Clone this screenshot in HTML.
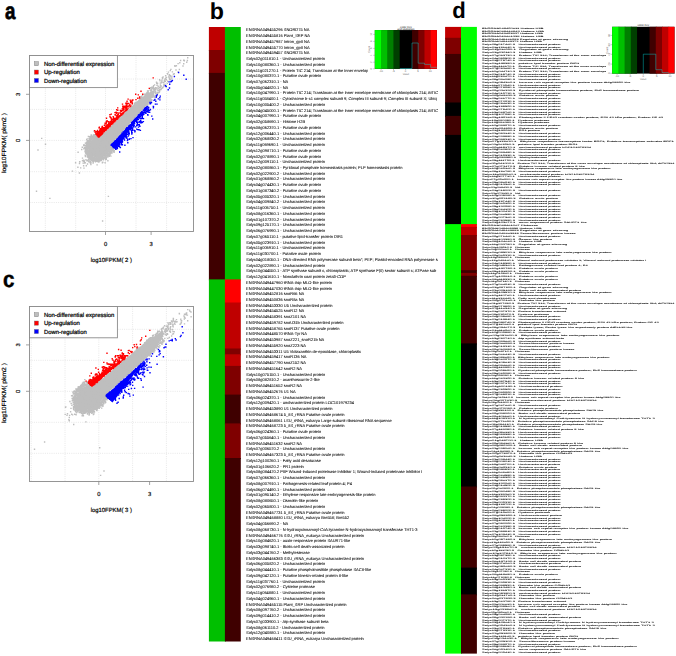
<!DOCTYPE html>
<html><head><meta charset="utf-8"><style>html,body{margin:0;padding:0;background:#fff;width:676px;height:656px;overflow:hidden}svg{display:block}</style></head><body>
<svg width="676" height="656" viewBox="0 0 676 656" font-family="Liberation Sans, sans-serif" text-rendering="geometricPrecision">
<defs><filter id="bl" x="-2%" y="-2%" width="104%" height="104%"><feGaussianBlur stdDeviation="0.15 0.45"/></filter><filter id="bl2" x="-2%" y="-2%" width="104%" height="104%"><feGaussianBlur stdDeviation="0.2 0.25"/></filter><clipPath id="clipb"><rect x="240" y="0" width="200" height="656"/></clipPath><clipPath id="clipd"><rect x="478" y="0" width="198" height="656"/></clipPath></defs>
<rect width="676" height="656" fill="#fff"/>
<g transform="translate(0 0)"><line x1="45.3" y1="55.5" x2="45.3" y2="231.5" stroke="#d6d6d6" stroke-width="0.6" stroke-dasharray="1 1.2"/>
<line x1="75.7" y1="55.5" x2="75.7" y2="231.5" stroke="#d6d6d6" stroke-width="0.6" stroke-dasharray="1 1.2"/>
<line x1="105.5" y1="55.5" x2="105.5" y2="231.5" stroke="#d6d6d6" stroke-width="0.6" stroke-dasharray="1 1.2"/>
<line x1="136.0" y1="55.5" x2="136.0" y2="231.5" stroke="#d6d6d6" stroke-width="0.6" stroke-dasharray="1 1.2"/>
<line x1="166.6" y1="55.5" x2="166.6" y2="231.5" stroke="#d6d6d6" stroke-width="0.6" stroke-dasharray="1 1.2"/>
<line x1="29.5" y1="79.0" x2="193.5" y2="79.0" stroke="#d6d6d6" stroke-width="0.6" stroke-dasharray="1 1.2"/>
<line x1="29.5" y1="109.4" x2="193.5" y2="109.4" stroke="#d6d6d6" stroke-width="0.6" stroke-dasharray="1 1.2"/>
<line x1="29.5" y1="140.4" x2="193.5" y2="140.4" stroke="#d6d6d6" stroke-width="0.6" stroke-dasharray="1 1.2"/>
<line x1="29.5" y1="171.7" x2="193.5" y2="171.7" stroke="#d6d6d6" stroke-width="0.6" stroke-dasharray="1 1.2"/>
<line x1="29.5" y1="202.5" x2="193.5" y2="202.5" stroke="#d6d6d6" stroke-width="0.6" stroke-dasharray="1 1.2"/>
<g><path d="M93.2 143.4 L94.7 142.0 L96.1 140.6 L97.5 139.2 L99.0 137.8 L100.4 136.4 L101.9 135.0 L103.3 133.7 L104.8 132.3 L106.2 130.9 L107.6 129.5 L109.1 128.1 L110.5 126.7 L112.0 125.3 L113.4 124.0 L114.8 122.6 L116.3 121.2 L117.7 119.8 L119.2 118.4 L120.6 117.0 L122.0 115.6 L123.5 114.2 L124.9 112.9 L126.4 111.5 L127.8 110.1 L129.3 108.7 L130.7 107.3 L132.1 105.9 L133.6 104.5 L135.0 103.2 L136.5 101.8 L137.9 100.4 L139.3 99.0 L141.0 97.8 L142.8 96.8 L144.5 95.7 L146.3 94.6 L148.0 93.6 L149.8 92.5 L151.5 91.4 L153.2 90.3 L155.1 92.1 L153.9 93.8 L152.8 95.5 L151.6 97.2 L150.5 98.9 L149.4 100.7 L148.4 102.4 L147.3 104.2 L146.1 105.8 L144.8 107.3 L143.4 108.8 L142.1 110.3 L140.7 111.8 L139.4 113.2 L138.0 114.7 L136.7 116.2 L135.3 117.7 L134.0 119.1 L132.6 120.6 L131.3 122.1 L129.9 123.6 L128.6 125.1 L127.2 126.5 L125.9 128.0 L124.5 129.5 L123.2 131.0 L121.8 132.5 L120.5 133.9 L119.1 135.4 L117.8 136.9 L116.4 138.4 L115.1 139.8 L113.7 141.3 L112.4 142.8 L111.0 144.3 L109.7 145.8 L108.3 147.2 L107.0 148.7 L105.6 150.2 L104.3 151.7 L102.9 153.2Z" fill="#bebebe"/><ellipse cx="100.0" cy="146.5" rx="12.5" ry="10.5" transform="rotate(-45 100.0 146.5)" fill="#bebebe"/><path d="M135.6 108.1h1.4v1.4h-1.4zM120.0 129.0h1.4v1.4h-1.4zM161.1 81.5h1.4v1.4h-1.4zM149.3 93.9h1.4v1.4h-1.4zM138.7 102.1h1.4v1.4h-1.4zM95.4 149.0h1.4v1.4h-1.4zM141.6 105.7h1.4v1.4h-1.4zM97.1 144.6h1.4v1.4h-1.4zM119.4 129.4h1.4v1.4h-1.4zM107.1 137.2h1.4v1.4h-1.4zM154.5 87.8h1.4v1.4h-1.4zM141.5 100.6h1.4v1.4h-1.4zM131.3 115.3h1.4v1.4h-1.4zM144.5 94.1h1.4v1.4h-1.4zM166.8 72.9h1.4v1.4h-1.4zM146.2 103.8h1.4v1.4h-1.4zM135.2 112.2h1.4v1.4h-1.4zM128.3 114.0h1.4v1.4h-1.4zM150.4 90.9h1.4v1.4h-1.4zM118.6 123.9h1.4v1.4h-1.4zM147.2 93.4h1.4v1.4h-1.4zM88.8 154.9h1.4v1.4h-1.4zM87.4 156.5h1.4v1.4h-1.4zM91.1 159.6h1.4v1.4h-1.4zM123.8 123.7h1.4v1.4h-1.4zM83.7 160.6h1.4v1.4h-1.4zM169.6 74.9h1.4v1.4h-1.4zM97.1 142.1h1.4v1.4h-1.4zM123.1 127.0h1.4v1.4h-1.4zM115.6 133.1h1.4v1.4h-1.4zM151.2 86.5h1.4v1.4h-1.4zM98.2 145.8h1.4v1.4h-1.4zM164.9 75.1h1.4v1.4h-1.4zM161.2 80.7h1.4v1.4h-1.4zM158.5 89.7h1.4v1.4h-1.4zM92.9 141.5h1.4v1.4h-1.4zM101.7 141.9h1.4v1.4h-1.4zM146.3 94.4h1.4v1.4h-1.4zM104.1 138.9h1.4v1.4h-1.4zM132.2 117.2h1.4v1.4h-1.4zM97.5 145.5h1.4v1.4h-1.4zM115.8 127.4h1.4v1.4h-1.4zM95.9 152.9h1.4v1.4h-1.4zM163.6 80.5h1.4v1.4h-1.4zM95.1 143.6h1.4v1.4h-1.4zM125.5 111.0h1.4v1.4h-1.4zM150.8 90.1h1.4v1.4h-1.4zM129.9 120.7h1.4v1.4h-1.4zM123.5 115.8h1.4v1.4h-1.4zM137.6 109.1h1.4v1.4h-1.4zM140.2 104.2h1.4v1.4h-1.4zM100.7 150.2h1.4v1.4h-1.4zM82.2 159.9h1.4v1.4h-1.4zM93.8 152.5h1.4v1.4h-1.4zM86.3 160.0h1.4v1.4h-1.4zM115.6 131.2h1.4v1.4h-1.4zM148.0 92.6h1.4v1.4h-1.4zM103.2 143.9h1.4v1.4h-1.4zM114.2 134.6h1.4v1.4h-1.4zM96.4 148.9h1.4v1.4h-1.4zM107.3 138.0h1.4v1.4h-1.4zM162.4 76.3h1.4v1.4h-1.4zM95.7 151.7h1.4v1.4h-1.4zM88.7 155.1h1.4v1.4h-1.4zM89.3 145.3h1.4v1.4h-1.4zM167.0 80.5h1.4v1.4h-1.4zM134.7 105.3h1.4v1.4h-1.4zM179.1 62.1h1.4v1.4h-1.4zM145.2 101.0h1.4v1.4h-1.4zM97.0 140.4h1.4v1.4h-1.4zM98.2 140.8h1.4v1.4h-1.4zM112.6 137.4h1.4v1.4h-1.4zM102.1 141.7h1.4v1.4h-1.4zM91.2 152.3h1.4v1.4h-1.4zM93.2 150.0h1.4v1.4h-1.4zM108.3 136.3h1.4v1.4h-1.4zM99.5 156.8h1.4v1.4h-1.4zM83.9 162.1h1.4v1.4h-1.4zM99.5 140.5h1.4v1.4h-1.4zM123.8 119.3h1.4v1.4h-1.4zM89.3 152.5h1.4v1.4h-1.4zM125.7 119.2h1.4v1.4h-1.4zM87.3 159.9h1.4v1.4h-1.4zM149.0 100.1h1.4v1.4h-1.4zM101.6 144.3h1.4v1.4h-1.4zM175.7 65.1h1.4v1.4h-1.4zM112.4 134.5h1.4v1.4h-1.4zM167.7 71.4h1.4v1.4h-1.4zM116.3 135.9h1.4v1.4h-1.4zM147.3 98.9h1.4v1.4h-1.4zM104.9 132.6h1.4v1.4h-1.4zM98.9 142.2h1.4v1.4h-1.4zM146.1 96.1h1.4v1.4h-1.4zM86.6 154.0h1.4v1.4h-1.4zM140.8 97.3h1.4v1.4h-1.4zM86.4 148.8h1.4v1.4h-1.4zM96.7 152.7h1.4v1.4h-1.4zM118.4 121.4h1.4v1.4h-1.4zM89.9 146.2h1.4v1.4h-1.4zM98.0 159.3h1.4v1.4h-1.4zM160.2 85.1h1.4v1.4h-1.4zM106.2 141.9h1.4v1.4h-1.4zM156.2 87.7h1.4v1.4h-1.4zM93.1 148.8h1.4v1.4h-1.4zM139.6 111.8h1.4v1.4h-1.4zM116.5 130.4h1.4v1.4h-1.4zM124.7 115.6h1.4v1.4h-1.4zM120.6 118.4h1.4v1.4h-1.4zM101.8 140.5h1.4v1.4h-1.4zM137.5 111.7h1.4v1.4h-1.4zM144.2 96.1h1.4v1.4h-1.4zM125.7 127.5h1.4v1.4h-1.4zM128.5 115.8h1.4v1.4h-1.4zM115.9 128.3h1.4v1.4h-1.4zM169.6 69.9h1.4v1.4h-1.4zM144.6 101.9h1.4v1.4h-1.4zM119.2 122.5h1.4v1.4h-1.4zM170.1 76.2h1.4v1.4h-1.4zM127.1 113.7h1.4v1.4h-1.4zM161.4 87.3h1.4v1.4h-1.4zM111.8 142.0h1.4v1.4h-1.4zM130.4 118.1h1.4v1.4h-1.4zM149.8 97.9h1.4v1.4h-1.4zM143.5 100.9h1.4v1.4h-1.4zM97.4 155.3h1.4v1.4h-1.4zM137.2 103.7h1.4v1.4h-1.4zM165.7 79.0h1.4v1.4h-1.4zM95.4 157.4h1.4v1.4h-1.4zM101.0 136.1h1.4v1.4h-1.4zM128.8 123.9h1.4v1.4h-1.4zM103.2 142.6h1.4v1.4h-1.4zM140.6 99.0h1.4v1.4h-1.4zM113.0 122.9h1.4v1.4h-1.4zM164.2 78.5h1.4v1.4h-1.4zM112.5 136.6h1.4v1.4h-1.4zM147.0 98.4h1.4v1.4h-1.4zM158.9 79.0h1.4v1.4h-1.4zM99.9 152.5h1.4v1.4h-1.4zM105.9 129.9h1.4v1.4h-1.4zM127.8 109.4h1.4v1.4h-1.4zM140.6 102.3h1.4v1.4h-1.4zM150.2 99.6h1.4v1.4h-1.4zM97.3 147.4h1.4v1.4h-1.4zM118.7 127.7h1.4v1.4h-1.4zM153.9 84.2h1.4v1.4h-1.4zM128.2 119.0h1.4v1.4h-1.4zM108.4 133.1h1.4v1.4h-1.4zM167.0 73.3h1.4v1.4h-1.4zM94.8 161.1h1.4v1.4h-1.4zM129.8 111.7h1.4v1.4h-1.4zM93.9 147.2h1.4v1.4h-1.4zM152.2 92.1h1.4v1.4h-1.4zM116.4 127.5h1.4v1.4h-1.4zM91.0 153.7h1.4v1.4h-1.4zM174.1 64.9h1.4v1.4h-1.4zM165.0 77.6h1.4v1.4h-1.4zM126.8 112.0h1.4v1.4h-1.4zM137.9 111.7h1.4v1.4h-1.4zM115.0 122.3h1.4v1.4h-1.4zM148.5 93.5h1.4v1.4h-1.4zM123.6 113.5h1.4v1.4h-1.4zM97.2 149.7h1.4v1.4h-1.4zM157.0 92.8h1.4v1.4h-1.4zM104.9 136.0h1.4v1.4h-1.4zM136.7 110.7h1.4v1.4h-1.4zM127.3 117.6h1.4v1.4h-1.4zM163.8 81.0h1.4v1.4h-1.4zM118.6 117.3h1.4v1.4h-1.4zM131.4 109.1h1.4v1.4h-1.4zM143.2 105.0h1.4v1.4h-1.4zM146.2 95.3h1.4v1.4h-1.4zM131.5 111.8h1.4v1.4h-1.4zM146.9 101.0h1.4v1.4h-1.4zM79.1 161.0h1.4v1.4h-1.4zM154.4 90.1h1.4v1.4h-1.4zM99.8 137.3h1.4v1.4h-1.4zM148.2 95.7h1.4v1.4h-1.4zM160.5 88.0h1.4v1.4h-1.4zM104.9 145.3h1.4v1.4h-1.4zM103.6 136.6h1.4v1.4h-1.4zM122.8 118.2h1.4v1.4h-1.4zM130.7 116.3h1.4v1.4h-1.4zM146.1 101.6h1.4v1.4h-1.4zM146.9 102.9h1.4v1.4h-1.4zM102.8 137.5h1.4v1.4h-1.4zM138.5 113.5h1.4v1.4h-1.4zM128.9 113.5h1.4v1.4h-1.4zM91.3 147.8h1.4v1.4h-1.4zM141.1 95.5h1.4v1.4h-1.4zM92.8 151.5h1.4v1.4h-1.4zM144.7 101.7h1.4v1.4h-1.4zM134.4 107.5h1.4v1.4h-1.4zM94.3 149.8h1.4v1.4h-1.4zM143.6 101.0h1.4v1.4h-1.4zM97.0 144.6h1.4v1.4h-1.4zM161.7 86.8h1.4v1.4h-1.4zM186.7 59.8h1.4v1.4h-1.4zM141.6 106.0h1.4v1.4h-1.4zM151.1 99.1h1.4v1.4h-1.4zM102.4 147.0h1.4v1.4h-1.4zM114.1 126.4h1.4v1.4h-1.4zM160.3 85.5h1.4v1.4h-1.4zM135.5 101.4h1.4v1.4h-1.4zM106.1 147.9h1.4v1.4h-1.4zM106.8 145.3h1.4v1.4h-1.4zM86.2 151.1h1.4v1.4h-1.4zM133.1 109.9h1.4v1.4h-1.4zM102.4 149.5h1.4v1.4h-1.4zM99.8 138.1h1.4v1.4h-1.4zM161.2 79.4h1.4v1.4h-1.4zM110.4 138.1h1.4v1.4h-1.4zM150.5 99.2h1.4v1.4h-1.4zM87.1 160.0h1.4v1.4h-1.4zM150.8 94.7h1.4v1.4h-1.4zM100.1 155.9h1.4v1.4h-1.4zM107.8 143.6h1.4v1.4h-1.4zM118.7 121.0h1.4v1.4h-1.4zM141.7 99.1h1.4v1.4h-1.4zM156.6 89.3h1.4v1.4h-1.4zM109.7 130.0h1.4v1.4h-1.4zM153.0 94.4h1.4v1.4h-1.4zM97.7 149.3h1.4v1.4h-1.4zM139.5 99.8h1.4v1.4h-1.4zM97.5 150.3h1.4v1.4h-1.4zM159.7 84.6h1.4v1.4h-1.4zM142.1 105.9h1.4v1.4h-1.4zM144.3 104.7h1.4v1.4h-1.4zM102.1 136.9h1.4v1.4h-1.4zM116.1 128.6h1.4v1.4h-1.4zM123.0 123.2h1.4v1.4h-1.4zM102.4 142.8h1.4v1.4h-1.4zM96.5 139.4h1.4v1.4h-1.4zM137.2 109.3h1.4v1.4h-1.4zM90.6 148.2h1.4v1.4h-1.4zM157.5 85.6h1.4v1.4h-1.4zM92.5 160.4h1.4v1.4h-1.4zM138.2 101.7h1.4v1.4h-1.4zM137.8 107.0h1.4v1.4h-1.4zM104.4 137.1h1.4v1.4h-1.4zM127.2 114.0h1.4v1.4h-1.4zM137.6 106.4h1.4v1.4h-1.4zM152.9 93.2h1.4v1.4h-1.4zM131.5 106.6h1.4v1.4h-1.4zM148.2 97.7h1.4v1.4h-1.4zM123.6 127.4h1.4v1.4h-1.4zM90.0 150.1h1.4v1.4h-1.4zM88.3 157.1h1.4v1.4h-1.4zM119.5 132.8h1.4v1.4h-1.4zM91.0 159.2h1.4v1.4h-1.4zM86.8 163.3h1.4v1.4h-1.4zM117.5 125.1h1.4v1.4h-1.4zM153.6 96.0h1.4v1.4h-1.4zM115.9 124.2h1.4v1.4h-1.4zM96.1 144.6h1.4v1.4h-1.4zM106.5 132.8h1.4v1.4h-1.4zM145.9 104.6h1.4v1.4h-1.4zM120.9 124.0h1.4v1.4h-1.4zM143.5 99.7h1.4v1.4h-1.4zM141.2 102.7h1.4v1.4h-1.4zM118.4 124.6h1.4v1.4h-1.4zM84.5 154.4h1.4v1.4h-1.4zM138.9 102.4h1.4v1.4h-1.4zM149.7 94.9h1.4v1.4h-1.4zM144.6 100.0h1.4v1.4h-1.4zM130.9 108.3h1.4v1.4h-1.4zM99.1 154.5h1.4v1.4h-1.4zM116.2 130.7h1.4v1.4h-1.4zM140.7 107.9h1.4v1.4h-1.4zM133.8 105.6h1.4v1.4h-1.4zM91.5 150.9h1.4v1.4h-1.4zM134.2 102.9h1.4v1.4h-1.4zM91.6 146.1h1.4v1.4h-1.4zM92.7 153.1h1.4v1.4h-1.4zM148.2 96.6h1.4v1.4h-1.4zM100.9 151.3h1.4v1.4h-1.4zM83.1 162.4h1.4v1.4h-1.4zM128.1 108.5h1.4v1.4h-1.4zM146.7 98.8h1.4v1.4h-1.4zM98.4 136.6h1.4v1.4h-1.4zM116.9 129.2h1.4v1.4h-1.4zM102.4 132.8h1.4v1.4h-1.4zM120.8 127.9h1.4v1.4h-1.4zM133.8 103.2h1.4v1.4h-1.4zM149.6 89.3h1.4v1.4h-1.4zM154.4 87.6h1.4v1.4h-1.4zM171.2 75.4h1.4v1.4h-1.4zM99.8 138.2h1.4v1.4h-1.4zM105.7 132.3h1.4v1.4h-1.4zM150.9 89.1h1.4v1.4h-1.4zM144.7 96.9h1.4v1.4h-1.4zM88.1 157.1h1.4v1.4h-1.4zM111.0 133.2h1.4v1.4h-1.4zM143.1 99.4h1.4v1.4h-1.4zM88.1 161.1h1.4v1.4h-1.4zM94.8 142.8h1.4v1.4h-1.4zM103.6 141.0h1.4v1.4h-1.4zM128.1 111.8h1.4v1.4h-1.4zM97.9 143.5h1.4v1.4h-1.4zM149.4 100.0h1.4v1.4h-1.4zM99.8 151.4h1.4v1.4h-1.4zM149.4 89.4h1.4v1.4h-1.4zM119.4 123.0h1.4v1.4h-1.4zM120.2 120.3h1.4v1.4h-1.4zM112.9 138.3h1.4v1.4h-1.4zM102.6 143.3h1.4v1.4h-1.4zM130.7 120.9h1.4v1.4h-1.4zM159.5 86.5h1.4v1.4h-1.4zM144.8 102.6h1.4v1.4h-1.4zM136.1 105.6h1.4v1.4h-1.4zM84.3 150.4h1.4v1.4h-1.4zM114.2 124.0h1.4v1.4h-1.4zM124.8 113.8h1.4v1.4h-1.4zM98.1 150.2h1.4v1.4h-1.4zM171.2 77.3h1.4v1.4h-1.4zM135.3 114.1h1.4v1.4h-1.4zM96.1 155.6h1.4v1.4h-1.4zM116.4 123.4h1.4v1.4h-1.4zM128.4 114.0h1.4v1.4h-1.4zM103.6 140.9h1.4v1.4h-1.4zM114.6 132.1h1.4v1.4h-1.4zM78.7 172.3h1.4v1.4h-1.4zM148.8 100.6h1.4v1.4h-1.4zM133.7 112.7h1.4v1.4h-1.4zM85.3 147.7h1.4v1.4h-1.4zM117.2 127.5h1.4v1.4h-1.4zM109.3 132.5h1.4v1.4h-1.4zM158.1 91.9h1.4v1.4h-1.4zM102.7 147.8h1.4v1.4h-1.4zM114.8 133.7h1.4v1.4h-1.4zM133.0 106.7h1.4v1.4h-1.4zM108.2 127.6h1.4v1.4h-1.4zM94.3 159.3h1.4v1.4h-1.4zM145.2 98.4h1.4v1.4h-1.4zM147.8 102.3h1.4v1.4h-1.4zM101.0 141.2h1.4v1.4h-1.4zM131.9 111.9h1.4v1.4h-1.4zM162.7 82.0h1.4v1.4h-1.4zM89.5 148.3h1.4v1.4h-1.4zM155.8 81.6h1.4v1.4h-1.4zM99.4 149.1h1.4v1.4h-1.4zM110.6 138.9h1.4v1.4h-1.4zM174.3 65.7h1.4v1.4h-1.4zM152.0 92.9h1.4v1.4h-1.4zM159.0 88.8h1.4v1.4h-1.4zM152.1 91.7h1.4v1.4h-1.4zM124.9 123.8h1.4v1.4h-1.4zM90.4 154.2h1.4v1.4h-1.4zM96.9 149.5h1.4v1.4h-1.4zM122.1 117.7h1.4v1.4h-1.4zM98.0 151.8h1.4v1.4h-1.4zM120.8 129.9h1.4v1.4h-1.4zM115.3 129.2h1.4v1.4h-1.4zM105.2 136.9h1.4v1.4h-1.4zM125.7 123.9h1.4v1.4h-1.4zM107.1 144.3h1.4v1.4h-1.4zM113.8 131.9h1.4v1.4h-1.4zM99.8 138.0h1.4v1.4h-1.4zM105.0 137.1h1.4v1.4h-1.4zM120.4 131.2h1.4v1.4h-1.4zM90.5 157.8h1.4v1.4h-1.4zM107.0 139.2h1.4v1.4h-1.4zM144.4 101.4h1.4v1.4h-1.4zM150.3 97.0h1.4v1.4h-1.4zM125.5 126.3h1.4v1.4h-1.4zM110.0 138.1h1.4v1.4h-1.4zM134.7 108.0h1.4v1.4h-1.4zM134.1 108.4h1.4v1.4h-1.4zM130.9 106.7h1.4v1.4h-1.4zM154.3 89.5h1.4v1.4h-1.4zM137.3 111.5h1.4v1.4h-1.4zM130.1 105.8h1.4v1.4h-1.4zM137.3 109.2h1.4v1.4h-1.4zM145.3 96.8h1.4v1.4h-1.4zM135.0 102.1h1.4v1.4h-1.4zM95.9 145.7h1.4v1.4h-1.4zM147.2 94.0h1.4v1.4h-1.4zM125.7 119.6h1.4v1.4h-1.4zM110.6 135.9h1.4v1.4h-1.4zM132.4 106.4h1.4v1.4h-1.4zM96.4 142.5h1.4v1.4h-1.4zM89.2 147.7h1.4v1.4h-1.4zM113.9 125.3h1.4v1.4h-1.4zM142.5 104.9h1.4v1.4h-1.4zM122.1 124.4h1.4v1.4h-1.4zM81.8 160.0h1.4v1.4h-1.4zM101.9 138.5h1.4v1.4h-1.4zM121.4 125.7h1.4v1.4h-1.4zM95.9 154.0h1.4v1.4h-1.4zM98.6 157.3h1.4v1.4h-1.4zM146.1 92.2h1.4v1.4h-1.4zM98.7 158.6h1.4v1.4h-1.4zM118.8 129.9h1.4v1.4h-1.4zM145.0 94.2h1.4v1.4h-1.4zM90.1 156.7h1.4v1.4h-1.4zM141.7 100.3h1.4v1.4h-1.4zM127.2 124.8h1.4v1.4h-1.4zM139.9 107.3h1.4v1.4h-1.4zM152.6 86.3h1.4v1.4h-1.4zM124.4 128.8h1.4v1.4h-1.4zM141.4 99.8h1.4v1.4h-1.4zM135.8 103.8h1.4v1.4h-1.4zM103.6 143.9h1.4v1.4h-1.4zM96.1 149.6h1.4v1.4h-1.4zM124.9 117.3h1.4v1.4h-1.4zM95.6 156.7h1.4v1.4h-1.4zM145.0 101.6h1.4v1.4h-1.4zM140.0 104.4h1.4v1.4h-1.4zM129.1 112.6h1.4v1.4h-1.4zM107.4 138.3h1.4v1.4h-1.4zM143.7 93.4h1.4v1.4h-1.4zM84.1 162.4h1.4v1.4h-1.4zM120.1 129.7h1.4v1.4h-1.4zM128.7 110.3h1.4v1.4h-1.4zM168.8 74.0h1.4v1.4h-1.4zM127.2 123.5h1.4v1.4h-1.4zM99.7 139.3h1.4v1.4h-1.4zM106.4 132.1h1.4v1.4h-1.4zM97.1 142.1h1.4v1.4h-1.4zM96.0 149.4h1.4v1.4h-1.4zM83.3 144.0h1.4v1.4h-1.4zM108.2 135.2h1.4v1.4h-1.4zM142.8 101.0h1.4v1.4h-1.4zM144.5 102.1h1.4v1.4h-1.4zM107.6 138.6h1.4v1.4h-1.4zM111.6 125.8h1.4v1.4h-1.4zM143.5 96.7h1.4v1.4h-1.4zM118.2 124.9h1.4v1.4h-1.4zM125.6 118.4h1.4v1.4h-1.4zM98.6 142.0h1.4v1.4h-1.4zM126.7 112.5h1.4v1.4h-1.4zM165.8 76.7h1.4v1.4h-1.4zM116.4 123.4h1.4v1.4h-1.4zM126.9 125.4h1.4v1.4h-1.4zM154.3 89.9h1.4v1.4h-1.4zM140.8 98.1h1.4v1.4h-1.4zM137.5 105.9h1.4v1.4h-1.4zM157.2 91.6h1.4v1.4h-1.4zM146.0 93.7h1.4v1.4h-1.4zM142.9 101.1h1.4v1.4h-1.4zM102.9 151.8h1.4v1.4h-1.4zM122.7 118.8h1.4v1.4h-1.4zM143.3 102.8h1.4v1.4h-1.4zM183.0 63.1h1.4v1.4h-1.4zM133.2 113.2h1.4v1.4h-1.4zM125.1 122.6h1.4v1.4h-1.4zM119.3 121.2h1.4v1.4h-1.4zM134.9 105.6h1.4v1.4h-1.4zM98.2 153.0h1.4v1.4h-1.4zM148.8 100.5h1.4v1.4h-1.4zM130.6 116.2h1.4v1.4h-1.4zM139.8 97.5h1.4v1.4h-1.4zM119.9 119.2h1.4v1.4h-1.4zM127.3 122.2h1.4v1.4h-1.4zM149.3 99.4h1.4v1.4h-1.4zM112.1 133.8h1.4v1.4h-1.4zM159.7 84.3h1.4v1.4h-1.4zM93.6 145.1h1.4v1.4h-1.4zM105.5 146.3h1.4v1.4h-1.4zM139.6 105.2h1.4v1.4h-1.4zM96.5 147.8h1.4v1.4h-1.4zM129.9 113.0h1.4v1.4h-1.4zM122.6 123.5h1.4v1.4h-1.4zM96.0 144.4h1.4v1.4h-1.4zM110.6 133.6h1.4v1.4h-1.4zM146.1 97.5h1.4v1.4h-1.4zM91.7 152.4h1.4v1.4h-1.4zM108.5 128.2h1.4v1.4h-1.4zM96.2 144.9h1.4v1.4h-1.4zM85.9 151.7h1.4v1.4h-1.4zM94.6 140.8h1.4v1.4h-1.4zM115.7 134.3h1.4v1.4h-1.4zM157.8 89.6h1.4v1.4h-1.4zM106.5 138.1h1.4v1.4h-1.4zM92.6 150.4h1.4v1.4h-1.4zM110.7 137.8h1.4v1.4h-1.4zM106.3 133.6h1.4v1.4h-1.4zM112.7 130.8h1.4v1.4h-1.4zM139.3 109.4h1.4v1.4h-1.4zM90.8 158.8h1.4v1.4h-1.4zM133.0 107.0h1.4v1.4h-1.4zM90.6 158.5h1.4v1.4h-1.4zM98.6 142.2h1.4v1.4h-1.4zM99.9 150.6h1.4v1.4h-1.4zM116.0 133.9h1.4v1.4h-1.4zM100.9 139.4h1.4v1.4h-1.4zM119.7 117.9h1.4v1.4h-1.4zM121.5 129.8h1.4v1.4h-1.4zM140.9 95.8h1.4v1.4h-1.4zM124.6 115.6h1.4v1.4h-1.4zM137.4 109.1h1.4v1.4h-1.4zM134.6 103.5h1.4v1.4h-1.4zM94.5 157.8h1.4v1.4h-1.4zM147.3 100.6h1.4v1.4h-1.4zM95.6 147.3h1.4v1.4h-1.4zM138.1 101.3h1.4v1.4h-1.4zM183.0 59.6h1.4v1.4h-1.4zM106.9 134.4h1.4v1.4h-1.4zM115.8 133.0h1.4v1.4h-1.4zM140.3 104.1h1.4v1.4h-1.4zM103.7 141.5h1.4v1.4h-1.4zM136.4 104.9h1.4v1.4h-1.4zM118.8 122.1h1.4v1.4h-1.4zM82.9 165.1h1.4v1.4h-1.4zM114.1 124.7h1.4v1.4h-1.4zM123.5 126.7h1.4v1.4h-1.4zM115.1 125.6h1.4v1.4h-1.4zM143.6 98.6h1.4v1.4h-1.4zM105.3 140.5h1.4v1.4h-1.4zM124.3 118.5h1.4v1.4h-1.4zM110.5 129.3h1.4v1.4h-1.4zM96.1 142.9h1.4v1.4h-1.4zM143.6 98.5h1.4v1.4h-1.4zM111.9 132.9h1.4v1.4h-1.4zM92.4 162.4h1.4v1.4h-1.4zM96.3 139.9h1.4v1.4h-1.4zM91.0 149.8h1.4v1.4h-1.4zM111.2 132.7h1.4v1.4h-1.4zM147.6 98.9h1.4v1.4h-1.4zM90.1 156.9h1.4v1.4h-1.4zM112.7 123.3h1.4v1.4h-1.4zM93.0 146.0h1.4v1.4h-1.4zM149.5 98.4h1.4v1.4h-1.4zM119.2 133.0h1.4v1.4h-1.4zM98.5 151.4h1.4v1.4h-1.4zM130.4 113.6h1.4v1.4h-1.4zM153.9 95.5h1.4v1.4h-1.4zM126.0 122.2h1.4v1.4h-1.4zM128.9 112.5h1.4v1.4h-1.4zM158.9 90.9h1.4v1.4h-1.4zM101.1 143.2h1.4v1.4h-1.4zM120.2 129.9h1.4v1.4h-1.4zM122.9 128.1h1.4v1.4h-1.4zM107.1 135.8h1.4v1.4h-1.4zM152.2 93.3h1.4v1.4h-1.4zM93.4 151.4h1.4v1.4h-1.4zM143.3 102.6h1.4v1.4h-1.4zM94.9 153.6h1.4v1.4h-1.4zM151.3 96.2h1.4v1.4h-1.4zM120.3 119.9h1.4v1.4h-1.4zM92.5 161.2h1.4v1.4h-1.4zM107.2 143.2h1.4v1.4h-1.4zM139.8 99.9h1.4v1.4h-1.4zM156.9 82.9h1.4v1.4h-1.4zM148.5 92.8h1.4v1.4h-1.4zM146.5 103.6h1.4v1.4h-1.4zM146.5 102.5h1.4v1.4h-1.4zM115.5 124.5h1.4v1.4h-1.4zM91.9 151.8h1.4v1.4h-1.4zM89.1 153.7h1.4v1.4h-1.4zM98.3 150.0h1.4v1.4h-1.4zM144.6 98.2h1.4v1.4h-1.4zM89.5 143.3h1.4v1.4h-1.4zM136.9 105.6h1.4v1.4h-1.4zM139.0 103.9h1.4v1.4h-1.4zM118.4 122.0h1.4v1.4h-1.4zM134.4 103.2h1.4v1.4h-1.4zM149.7 92.3h1.4v1.4h-1.4zM95.4 152.5h1.4v1.4h-1.4zM147.2 99.7h1.4v1.4h-1.4zM136.1 105.8h1.4v1.4h-1.4zM103.3 139.5h1.4v1.4h-1.4zM112.0 132.7h1.4v1.4h-1.4zM117.0 126.3h1.4v1.4h-1.4zM149.5 99.2h1.4v1.4h-1.4zM146.4 100.2h1.4v1.4h-1.4zM121.2 130.5h1.4v1.4h-1.4zM110.7 131.8h1.4v1.4h-1.4zM149.1 98.1h1.4v1.4h-1.4zM153.4 96.7h1.4v1.4h-1.4zM106.8 137.0h1.4v1.4h-1.4zM108.2 140.1h1.4v1.4h-1.4zM172.7 73.6h1.4v1.4h-1.4zM145.0 93.7h1.4v1.4h-1.4zM125.3 120.9h1.4v1.4h-1.4zM147.8 93.4h1.4v1.4h-1.4zM130.0 116.1h1.4v1.4h-1.4zM140.0 107.5h1.4v1.4h-1.4zM89.9 161.3h1.4v1.4h-1.4zM142.0 94.3h1.4v1.4h-1.4zM127.9 112.9h1.4v1.4h-1.4zM116.5 126.9h1.4v1.4h-1.4zM105.4 141.6h1.4v1.4h-1.4zM117.5 127.6h1.4v1.4h-1.4zM128.8 120.5h1.4v1.4h-1.4zM77.2 166.6h1.4v1.4h-1.4zM88.6 147.4h1.4v1.4h-1.4zM106.0 144.0h1.4v1.4h-1.4zM112.5 129.8h1.4v1.4h-1.4zM117.5 122.9h1.4v1.4h-1.4zM87.3 153.4h1.4v1.4h-1.4zM145.7 100.5h1.4v1.4h-1.4zM94.7 151.3h1.4v1.4h-1.4zM120.4 122.1h1.4v1.4h-1.4zM98.2 150.4h1.4v1.4h-1.4zM85.3 159.1h1.4v1.4h-1.4zM132.6 107.5h1.4v1.4h-1.4zM111.6 125.1h1.4v1.4h-1.4zM94.2 159.3h1.4v1.4h-1.4zM145.3 100.0h1.4v1.4h-1.4zM113.1 131.3h1.4v1.4h-1.4zM125.4 125.2h1.4v1.4h-1.4zM100.1 144.3h1.4v1.4h-1.4zM149.6 93.1h1.4v1.4h-1.4zM141.0 99.3h1.4v1.4h-1.4zM152.9 84.9h1.4v1.4h-1.4zM99.3 153.2h1.4v1.4h-1.4zM119.3 127.8h1.4v1.4h-1.4zM148.3 99.9h1.4v1.4h-1.4zM100.6 149.0h1.4v1.4h-1.4zM111.0 134.8h1.4v1.4h-1.4zM133.4 110.5h1.4v1.4h-1.4zM88.0 153.8h1.4v1.4h-1.4zM96.8 152.6h1.4v1.4h-1.4zM141.8 108.4h1.4v1.4h-1.4zM119.3 125.7h1.4v1.4h-1.4zM127.4 123.4h1.4v1.4h-1.4zM93.9 148.7h1.4v1.4h-1.4zM135.1 102.2h1.4v1.4h-1.4zM117.7 120.9h1.4v1.4h-1.4zM94.0 145.4h1.4v1.4h-1.4zM156.0 93.6h1.4v1.4h-1.4zM125.5 121.1h1.4v1.4h-1.4zM127.7 121.0h1.4v1.4h-1.4zM98.4 153.3h1.4v1.4h-1.4zM106.0 140.3h1.4v1.4h-1.4zM148.5 102.1h1.4v1.4h-1.4zM127.0 116.7h1.4v1.4h-1.4zM152.5 95.1h1.4v1.4h-1.4zM105.8 142.5h1.4v1.4h-1.4zM89.6 162.2h1.4v1.4h-1.4zM134.5 107.8h1.4v1.4h-1.4zM105.7 146.2h1.4v1.4h-1.4zM82.4 162.4h1.4v1.4h-1.4zM127.3 110.5h1.4v1.4h-1.4zM143.7 104.4h1.4v1.4h-1.4zM133.1 112.7h1.4v1.4h-1.4zM98.5 147.6h1.4v1.4h-1.4zM142.5 104.5h1.4v1.4h-1.4zM132.1 119.5h1.4v1.4h-1.4zM157.8 91.5h1.4v1.4h-1.4zM124.9 121.1h1.4v1.4h-1.4zM104.3 143.8h1.4v1.4h-1.4zM124.3 123.6h1.4v1.4h-1.4zM89.7 151.9h1.4v1.4h-1.4zM153.0 91.3h1.4v1.4h-1.4zM144.6 96.1h1.4v1.4h-1.4zM88.5 141.9h1.4v1.4h-1.4zM125.8 119.9h1.4v1.4h-1.4zM130.7 106.7h1.4v1.4h-1.4zM148.7 93.4h1.4v1.4h-1.4zM83.5 160.2h1.4v1.4h-1.4zM95.9 156.9h1.4v1.4h-1.4zM102.6 132.7h1.4v1.4h-1.4zM125.0 111.8h1.4v1.4h-1.4zM128.9 116.3h1.4v1.4h-1.4zM97.3 147.7h1.4v1.4h-1.4zM135.7 114.7h1.4v1.4h-1.4zM71.7 170.4h1.4v1.4h-1.4zM103.2 150.3h1.4v1.4h-1.4zM149.2 92.7h1.4v1.4h-1.4zM98.0 154.4h1.4v1.4h-1.4zM101.5 142.7h1.4v1.4h-1.4zM109.6 126.8h1.4v1.4h-1.4zM151.2 87.6h1.4v1.4h-1.4zM151.5 96.6h1.4v1.4h-1.4zM153.2 87.6h1.4v1.4h-1.4zM111.1 134.5h1.4v1.4h-1.4zM154.4 88.0h1.4v1.4h-1.4zM144.2 95.2h1.4v1.4h-1.4zM143.8 99.5h1.4v1.4h-1.4zM163.0 84.3h1.4v1.4h-1.4zM96.2 149.2h1.4v1.4h-1.4zM171.7 71.2h1.4v1.4h-1.4zM150.2 100.5h1.4v1.4h-1.4zM148.4 94.1h1.4v1.4h-1.4zM144.6 99.7h1.4v1.4h-1.4zM98.2 145.8h1.4v1.4h-1.4zM87.9 149.5h1.4v1.4h-1.4zM97.0 143.3h1.4v1.4h-1.4zM100.2 146.2h1.4v1.4h-1.4zM123.1 116.3h1.4v1.4h-1.4zM95.8 151.8h1.4v1.4h-1.4zM168.2 75.5h1.4v1.4h-1.4zM90.0 161.0h1.4v1.4h-1.4zM146.0 105.2h1.4v1.4h-1.4zM147.6 96.6h1.4v1.4h-1.4zM136.7 106.8h1.4v1.4h-1.4zM144.6 99.2h1.4v1.4h-1.4zM104.6 136.2h1.4v1.4h-1.4zM150.5 99.7h1.4v1.4h-1.4zM95.9 147.1h1.4v1.4h-1.4zM134.0 111.8h1.4v1.4h-1.4zM128.8 120.5h1.4v1.4h-1.4zM134.6 112.0h1.4v1.4h-1.4zM107.3 136.3h1.4v1.4h-1.4zM130.2 114.8h1.4v1.4h-1.4zM100.5 151.5h1.4v1.4h-1.4zM107.3 135.2h1.4v1.4h-1.4zM122.9 117.4h1.4v1.4h-1.4zM111.6 135.4h1.4v1.4h-1.4zM96.1 145.3h1.4v1.4h-1.4zM110.9 133.2h1.4v1.4h-1.4zM92.2 159.0h1.4v1.4h-1.4zM142.4 100.2h1.4v1.4h-1.4zM119.0 125.6h1.4v1.4h-1.4zM177.4 62.9h1.4v1.4h-1.4zM103.4 141.0h1.4v1.4h-1.4zM87.1 153.7h1.4v1.4h-1.4zM98.0 147.5h1.4v1.4h-1.4zM134.7 104.8h1.4v1.4h-1.4zM121.9 123.1h1.4v1.4h-1.4zM113.3 127.3h1.4v1.4h-1.4zM96.1 147.2h1.4v1.4h-1.4zM111.1 132.2h1.4v1.4h-1.4zM90.3 155.5h1.4v1.4h-1.4zM126.5 113.5h1.4v1.4h-1.4zM107.3 132.5h1.4v1.4h-1.4zM108.1 140.5h1.4v1.4h-1.4zM74.9 162.0h1.4v1.4h-1.4zM120.4 122.8h1.4v1.4h-1.4zM101.6 136.9h1.4v1.4h-1.4zM133.7 106.8h1.4v1.4h-1.4zM83.1 160.6h1.4v1.4h-1.4zM146.2 103.8h1.4v1.4h-1.4zM136.3 111.4h1.4v1.4h-1.4zM116.2 135.4h1.4v1.4h-1.4zM133.9 109.1h1.4v1.4h-1.4zM140.0 99.0h1.4v1.4h-1.4zM149.6 96.5h1.4v1.4h-1.4zM154.9 91.0h1.4v1.4h-1.4zM147.3 103.9h1.4v1.4h-1.4zM130.0 110.2h1.4v1.4h-1.4zM91.8 160.3h1.4v1.4h-1.4zM87.4 155.2h1.4v1.4h-1.4zM96.7 152.3h1.4v1.4h-1.4zM159.6 82.4h1.4v1.4h-1.4zM129.9 117.0h1.4v1.4h-1.4zM96.8 148.0h1.4v1.4h-1.4zM98.6 141.0h1.4v1.4h-1.4zM155.0 86.9h1.4v1.4h-1.4zM125.9 115.1h1.4v1.4h-1.4zM100.8 149.3h1.4v1.4h-1.4zM115.5 137.2h1.4v1.4h-1.4zM144.0 102.1h1.4v1.4h-1.4zM87.7 140.9h1.4v1.4h-1.4zM135.9 108.6h1.4v1.4h-1.4zM115.8 129.9h1.4v1.4h-1.4zM93.3 145.2h1.4v1.4h-1.4zM101.5 151.3h1.4v1.4h-1.4zM136.4 109.8h1.4v1.4h-1.4zM110.6 129.9h1.4v1.4h-1.4zM81.8 157.4h1.4v1.4h-1.4zM117.9 121.5h1.4v1.4h-1.4zM113.3 131.7h1.4v1.4h-1.4zM170.0 78.6h1.4v1.4h-1.4zM122.8 123.1h1.4v1.4h-1.4zM97.7 151.1h1.4v1.4h-1.4zM127.7 117.6h1.4v1.4h-1.4zM103.6 139.8h1.4v1.4h-1.4zM101.9 136.2h1.4v1.4h-1.4zM159.4 80.2h1.4v1.4h-1.4zM104.5 150.0h1.4v1.4h-1.4zM123.5 119.1h1.4v1.4h-1.4zM106.1 148.7h1.4v1.4h-1.4zM151.8 96.0h1.4v1.4h-1.4zM156.0 82.6h1.4v1.4h-1.4zM108.8 134.5h1.4v1.4h-1.4zM94.1 148.3h1.4v1.4h-1.4zM187.0 57.0h1.4v1.4h-1.4zM140.4 95.9h1.4v1.4h-1.4zM139.9 103.3h1.4v1.4h-1.4zM88.0 159.2h1.4v1.4h-1.4zM100.3 143.6h1.4v1.4h-1.4zM101.5 137.4h1.4v1.4h-1.4zM151.3 96.2h1.4v1.4h-1.4zM85.6 165.1h1.4v1.4h-1.4zM123.9 118.1h1.4v1.4h-1.4zM95.1 144.6h1.4v1.4h-1.4zM148.7 94.6h1.4v1.4h-1.4zM115.9 130.8h1.4v1.4h-1.4zM115.0 128.9h1.4v1.4h-1.4zM131.1 116.5h1.4v1.4h-1.4zM169.0 78.7h1.4v1.4h-1.4zM97.5 153.3h1.4v1.4h-1.4zM162.8 86.2h1.4v1.4h-1.4zM142.2 99.3h1.4v1.4h-1.4zM158.6 91.4h1.4v1.4h-1.4zM153.6 89.9h1.4v1.4h-1.4zM101.9 148.3h1.4v1.4h-1.4zM97.4 154.1h1.4v1.4h-1.4zM161.9 77.9h1.4v1.4h-1.4zM150.0 87.1h1.4v1.4h-1.4zM92.2 143.2h1.4v1.4h-1.4zM145.9 92.2h1.4v1.4h-1.4zM106.1 140.7h1.4v1.4h-1.4zM151.2 86.9h1.4v1.4h-1.4zM131.3 114.6h1.4v1.4h-1.4zM156.8 82.4h1.4v1.4h-1.4zM106.1 131.1h1.4v1.4h-1.4zM94.3 143.6h1.4v1.4h-1.4zM141.1 96.8h1.4v1.4h-1.4zM83.1 159.4h1.4v1.4h-1.4zM100.3 143.2h1.4v1.4h-1.4zM128.4 118.3h1.4v1.4h-1.4zM115.5 127.6h1.4v1.4h-1.4zM173.5 73.0h1.4v1.4h-1.4zM90.3 161.9h1.4v1.4h-1.4zM119.1 116.5h1.4v1.4h-1.4zM119.2 122.4h1.4v1.4h-1.4zM97.2 149.2h1.4v1.4h-1.4zM122.4 119.8h1.4v1.4h-1.4zM92.9 146.9h1.4v1.4h-1.4zM139.0 103.6h1.4v1.4h-1.4zM98.7 152.5h1.4v1.4h-1.4zM140.4 102.2h1.4v1.4h-1.4zM91.6 155.3h1.4v1.4h-1.4zM112.3 128.2h1.4v1.4h-1.4zM144.2 96.9h1.4v1.4h-1.4zM126.0 119.8h1.4v1.4h-1.4zM136.5 109.7h1.4v1.4h-1.4zM148.4 93.2h1.4v1.4h-1.4zM141.8 97.4h1.4v1.4h-1.4zM105.4 137.4h1.4v1.4h-1.4zM135.2 108.7h1.4v1.4h-1.4zM85.0 149.2h1.4v1.4h-1.4zM132.1 112.2h1.4v1.4h-1.4zM134.0 110.9h1.4v1.4h-1.4zM101.6 138.7h1.4v1.4h-1.4zM166.6 82.7h1.4v1.4h-1.4zM114.3 139.6h1.4v1.4h-1.4zM147.7 96.5h1.4v1.4h-1.4zM111.2 141.2h1.4v1.4h-1.4zM91.2 158.2h1.4v1.4h-1.4zM92.9 141.5h1.4v1.4h-1.4zM148.5 99.7h1.4v1.4h-1.4zM84.7 155.8h1.4v1.4h-1.4zM147.7 94.8h1.4v1.4h-1.4zM90.1 149.4h1.4v1.4h-1.4zM134.6 111.9h1.4v1.4h-1.4zM126.7 122.9h1.4v1.4h-1.4zM98.7 141.9h1.4v1.4h-1.4zM106.1 130.3h1.4v1.4h-1.4zM92.9 146.8h1.4v1.4h-1.4zM150.3 95.3h1.4v1.4h-1.4zM124.8 121.1h1.4v1.4h-1.4zM147.4 90.1h1.4v1.4h-1.4zM134.4 112.7h1.4v1.4h-1.4zM90.7 159.2h1.4v1.4h-1.4zM112.1 133.9h1.4v1.4h-1.4zM133.4 111.3h1.4v1.4h-1.4zM127.3 118.0h1.4v1.4h-1.4zM110.3 131.0h1.4v1.4h-1.4zM107.9 129.6h1.4v1.4h-1.4zM111.2 137.2h1.4v1.4h-1.4zM134.5 111.4h1.4v1.4h-1.4zM126.4 114.8h1.4v1.4h-1.4zM95.9 155.0h1.4v1.4h-1.4zM133.7 102.6h1.4v1.4h-1.4zM96.2 151.4h1.4v1.4h-1.4zM112.8 124.8h1.4v1.4h-1.4zM125.8 119.4h1.4v1.4h-1.4zM109.7 137.8h1.4v1.4h-1.4zM117.9 128.2h1.4v1.4h-1.4zM101.6 150.1h1.4v1.4h-1.4zM103.1 137.8h1.4v1.4h-1.4zM133.8 111.3h1.4v1.4h-1.4zM113.2 127.6h1.4v1.4h-1.4zM96.8 156.1h1.4v1.4h-1.4zM107.8 139.3h1.4v1.4h-1.4zM149.2 95.0h1.4v1.4h-1.4zM160.6 82.0h1.4v1.4h-1.4zM80.0 167.2h1.4v1.4h-1.4zM156.5 87.2h1.4v1.4h-1.4zM133.1 112.0h1.4v1.4h-1.4zM123.1 116.5h1.4v1.4h-1.4zM158.1 87.6h1.4v1.4h-1.4zM102.8 136.9h1.4v1.4h-1.4zM103.8 134.8h1.4v1.4h-1.4zM119.3 123.4h1.4v1.4h-1.4zM113.1 128.3h1.4v1.4h-1.4zM142.7 99.3h1.4v1.4h-1.4zM159.0 89.6h1.4v1.4h-1.4zM148.7 101.1h1.4v1.4h-1.4zM94.9 143.4h1.4v1.4h-1.4zM183.7 59.8h1.4v1.4h-1.4zM140.8 97.9h1.4v1.4h-1.4zM106.0 141.6h1.4v1.4h-1.4zM147.0 100.3h1.4v1.4h-1.4zM163.7 80.1h1.4v1.4h-1.4zM139.0 100.0h1.4v1.4h-1.4zM129.2 121.4h1.4v1.4h-1.4zM103.5 133.5h1.4v1.4h-1.4zM95.8 149.1h1.4v1.4h-1.4zM105.7 140.4h1.4v1.4h-1.4zM152.6 88.1h1.4v1.4h-1.4zM110.9 137.5h1.4v1.4h-1.4zM169.3 79.0h1.4v1.4h-1.4zM178.7 68.8h1.4v1.4h-1.4zM148.0 98.3h1.4v1.4h-1.4zM142.5 97.2h1.4v1.4h-1.4zM144.8 97.5h1.4v1.4h-1.4zM89.8 153.4h1.4v1.4h-1.4zM132.6 119.7h1.4v1.4h-1.4zM116.6 133.2h1.4v1.4h-1.4zM119.1 129.7h1.4v1.4h-1.4zM170.2 68.7h1.4v1.4h-1.4zM120.6 115.0h1.4v1.4h-1.4zM108.8 138.0h1.4v1.4h-1.4zM148.6 101.0h1.4v1.4h-1.4zM101.9 153.2h1.4v1.4h-1.4zM128.1 115.9h1.4v1.4h-1.4zM93.7 151.5h1.4v1.4h-1.4zM135.3 109.1h1.4v1.4h-1.4zM112.1 133.7h1.4v1.4h-1.4zM155.1 91.8h1.4v1.4h-1.4zM132.4 108.2h1.4v1.4h-1.4zM153.1 89.1h1.4v1.4h-1.4zM114.0 128.2h1.4v1.4h-1.4zM121.5 125.9h1.4v1.4h-1.4zM128.3 115.8h1.4v1.4h-1.4zM179.9 59.8h1.4v1.4h-1.4zM148.7 95.8h1.4v1.4h-1.4zM119.6 121.3h1.4v1.4h-1.4zM119.0 118.1h1.4v1.4h-1.4zM149.3 87.7h1.4v1.4h-1.4zM139.2 108.3h1.4v1.4h-1.4zM126.4 115.1h1.4v1.4h-1.4zM78.9 161.4h1.4v1.4h-1.4zM94.2 155.6h1.4v1.4h-1.4zM151.7 94.8h1.4v1.4h-1.4zM117.7 124.1h1.4v1.4h-1.4zM108.6 139.7h1.4v1.4h-1.4zM145.5 101.7h1.4v1.4h-1.4zM115.3 126.5h1.4v1.4h-1.4zM94.4 138.8h1.4v1.4h-1.4zM130.0 116.1h1.4v1.4h-1.4zM95.4 144.4h1.4v1.4h-1.4zM147.5 96.4h1.4v1.4h-1.4zM129.5 111.9h1.4v1.4h-1.4zM96.1 148.9h1.4v1.4h-1.4zM122.4 128.1h1.4v1.4h-1.4zM97.5 152.6h1.4v1.4h-1.4zM93.1 152.4h1.4v1.4h-1.4zM183.6 60.1h1.4v1.4h-1.4zM145.1 98.1h1.4v1.4h-1.4zM145.3 100.2h1.4v1.4h-1.4zM143.8 97.4h1.4v1.4h-1.4zM126.9 113.6h1.4v1.4h-1.4zM100.8 147.6h1.4v1.4h-1.4zM139.3 101.2h1.4v1.4h-1.4zM142.3 102.9h1.4v1.4h-1.4zM156.8 92.1h1.4v1.4h-1.4zM144.3 96.2h1.4v1.4h-1.4zM133.5 113.1h1.4v1.4h-1.4zM100.8 152.3h1.4v1.4h-1.4zM119.6 121.4h1.4v1.4h-1.4zM100.2 137.5h1.4v1.4h-1.4zM133.7 111.3h1.4v1.4h-1.4zM90.5 148.9h1.4v1.4h-1.4zM93.1 149.3h1.4v1.4h-1.4zM141.0 97.3h1.4v1.4h-1.4zM97.0 146.2h1.4v1.4h-1.4zM152.0 86.4h1.4v1.4h-1.4zM133.4 110.5h1.4v1.4h-1.4zM133.3 116.1h1.4v1.4h-1.4zM93.2 146.0h1.4v1.4h-1.4zM140.7 102.2h1.4v1.4h-1.4zM118.1 125.9h1.4v1.4h-1.4zM82.7 159.5h1.4v1.4h-1.4zM139.8 106.5h1.4v1.4h-1.4zM144.3 103.9h1.4v1.4h-1.4zM97.1 153.6h1.4v1.4h-1.4zM116.3 128.0h1.4v1.4h-1.4zM123.0 125.7h1.4v1.4h-1.4zM103.2 139.5h1.4v1.4h-1.4zM156.3 84.6h1.4v1.4h-1.4zM93.1 147.2h1.4v1.4h-1.4zM86.8 146.1h1.4v1.4h-1.4zM168.3 76.7h1.4v1.4h-1.4zM100.2 138.2h1.4v1.4h-1.4zM87.7 155.9h1.4v1.4h-1.4zM92.2 150.1h1.4v1.4h-1.4zM111.0 135.7h1.4v1.4h-1.4zM94.0 143.5h1.4v1.4h-1.4zM158.6 86.5h1.4v1.4h-1.4zM112.1 129.3h1.4v1.4h-1.4zM106.4 135.5h1.4v1.4h-1.4zM151.0 92.5h1.4v1.4h-1.4zM88.8 145.0h1.4v1.4h-1.4zM129.6 114.5h1.4v1.4h-1.4zM156.9 82.9h1.4v1.4h-1.4zM97.1 150.4h1.4v1.4h-1.4zM102.6 144.5h1.4v1.4h-1.4zM91.3 148.3h1.4v1.4h-1.4zM135.8 112.3h1.4v1.4h-1.4zM152.9 92.5h1.4v1.4h-1.4zM160.3 88.9h1.4v1.4h-1.4zM93.6 149.8h1.4v1.4h-1.4zM96.7 153.3h1.4v1.4h-1.4zM101.3 145.6h1.4v1.4h-1.4zM116.0 132.4h1.4v1.4h-1.4zM121.7 124.5h1.4v1.4h-1.4zM98.4 152.0h1.4v1.4h-1.4zM98.6 137.8h1.4v1.4h-1.4zM109.0 138.5h1.4v1.4h-1.4zM152.3 87.4h1.4v1.4h-1.4zM123.9 113.5h1.4v1.4h-1.4zM154.9 92.7h1.4v1.4h-1.4zM115.2 122.4h1.4v1.4h-1.4zM99.2 155.5h1.4v1.4h-1.4zM98.4 149.1h1.4v1.4h-1.4zM98.8 152.3h1.4v1.4h-1.4zM130.4 114.2h1.4v1.4h-1.4zM150.1 90.0h1.4v1.4h-1.4zM108.7 127.0h1.4v1.4h-1.4zM123.5 125.4h1.4v1.4h-1.4zM111.0 139.7h1.4v1.4h-1.4zM116.2 119.5h1.4v1.4h-1.4zM94.1 149.3h1.4v1.4h-1.4zM107.3 136.4h1.4v1.4h-1.4zM120.8 116.5h1.4v1.4h-1.4zM100.4 144.9h1.4v1.4h-1.4zM148.1 97.4h1.4v1.4h-1.4zM139.1 101.6h1.4v1.4h-1.4zM112.6 135.8h1.4v1.4h-1.4zM143.5 106.3h1.4v1.4h-1.4zM110.6 141.7h1.4v1.4h-1.4zM87.2 156.4h1.4v1.4h-1.4zM94.8 157.5h1.4v1.4h-1.4zM144.8 97.5h1.4v1.4h-1.4zM153.1 87.8h1.4v1.4h-1.4zM136.0 108.8h1.4v1.4h-1.4zM89.5 150.3h1.4v1.4h-1.4zM139.8 103.9h1.4v1.4h-1.4zM103.0 143.1h1.4v1.4h-1.4zM92.9 153.6h1.4v1.4h-1.4zM106.5 143.8h1.4v1.4h-1.4zM118.4 121.6h1.4v1.4h-1.4zM116.7 120.8h1.4v1.4h-1.4zM78.8 162.9h1.4v1.4h-1.4zM104.2 142.0h1.4v1.4h-1.4zM156.4 93.8h1.4v1.4h-1.4zM111.9 128.7h1.4v1.4h-1.4zM96.4 164.2h1.4v1.4h-1.4zM146.1 96.4h1.4v1.4h-1.4zM99.5 153.9h1.4v1.4h-1.4zM99.1 156.8h1.4v1.4h-1.4zM152.1 93.2h1.4v1.4h-1.4zM95.4 145.6h1.4v1.4h-1.4zM164.6 80.5h1.4v1.4h-1.4zM107.1 136.6h1.4v1.4h-1.4zM107.1 142.2h1.4v1.4h-1.4zM147.6 100.0h1.4v1.4h-1.4zM147.0 97.8h1.4v1.4h-1.4zM145.1 95.5h1.4v1.4h-1.4zM145.5 101.5h1.4v1.4h-1.4zM151.1 91.7h1.4v1.4h-1.4zM128.0 118.9h1.4v1.4h-1.4zM143.3 103.1h1.4v1.4h-1.4zM119.6 118.5h1.4v1.4h-1.4zM142.0 104.1h1.4v1.4h-1.4zM83.3 167.4h1.4v1.4h-1.4zM77.4 151.5h1.4v1.4h-1.4zM110.9 129.9h1.4v1.4h-1.4zM124.9 116.6h1.4v1.4h-1.4zM146.9 92.0h1.4v1.4h-1.4zM93.2 149.4h1.4v1.4h-1.4zM145.7 103.8h1.4v1.4h-1.4zM121.5 118.0h1.4v1.4h-1.4zM152.5 95.3h1.4v1.4h-1.4zM119.2 126.1h1.4v1.4h-1.4zM123.3 115.6h1.4v1.4h-1.4zM131.0 109.3h1.4v1.4h-1.4zM133.9 102.5h1.4v1.4h-1.4zM89.5 152.3h1.4v1.4h-1.4zM151.0 99.6h1.4v1.4h-1.4zM94.6 147.8h1.4v1.4h-1.4zM148.0 98.0h1.4v1.4h-1.4zM163.8 81.2h1.4v1.4h-1.4zM113.3 130.1h1.4v1.4h-1.4zM108.8 143.1h1.4v1.4h-1.4zM161.7 76.9h1.4v1.4h-1.4zM144.8 99.3h1.4v1.4h-1.4zM91.7 149.5h1.4v1.4h-1.4zM100.5 138.0h1.4v1.4h-1.4zM127.1 121.3h1.4v1.4h-1.4zM155.1 94.4h1.4v1.4h-1.4zM113.6 138.2h1.4v1.4h-1.4zM107.6 143.6h1.4v1.4h-1.4zM145.3 93.3h1.4v1.4h-1.4zM108.2 144.1h1.4v1.4h-1.4zM93.6 156.5h1.4v1.4h-1.4zM154.9 88.7h1.4v1.4h-1.4zM142.3 99.1h1.4v1.4h-1.4zM146.4 103.1h1.4v1.4h-1.4zM97.4 144.8h1.4v1.4h-1.4zM96.8 149.9h1.4v1.4h-1.4zM100.6 152.4h1.4v1.4h-1.4zM146.2 93.9h1.4v1.4h-1.4zM133.6 107.5h1.4v1.4h-1.4zM97.4 138.2h1.4v1.4h-1.4zM131.9 111.7h1.4v1.4h-1.4zM140.0 100.3h1.4v1.4h-1.4zM110.7 130.9h1.4v1.4h-1.4zM94.2 140.3h1.4v1.4h-1.4zM102.2 142.6h1.4v1.4h-1.4zM89.4 161.8h1.4v1.4h-1.4zM88.9 146.8h1.4v1.4h-1.4zM148.0 101.8h1.4v1.4h-1.4zM141.8 106.0h1.4v1.4h-1.4zM115.4 132.1h1.4v1.4h-1.4zM112.7 135.4h1.4v1.4h-1.4zM136.8 111.2h1.4v1.4h-1.4zM91.1 154.1h1.4v1.4h-1.4zM139.6 101.3h1.4v1.4h-1.4zM138.7 100.3h1.4v1.4h-1.4zM113.9 130.2h1.4v1.4h-1.4zM135.2 113.3h1.4v1.4h-1.4zM146.2 101.1h1.4v1.4h-1.4zM133.9 108.0h1.4v1.4h-1.4zM117.1 127.7h1.4v1.4h-1.4zM147.5 91.3h1.4v1.4h-1.4zM146.5 93.6h1.4v1.4h-1.4zM129.4 111.8h1.4v1.4h-1.4zM168.8 77.6h1.4v1.4h-1.4zM92.4 150.4h1.4v1.4h-1.4zM137.2 112.7h1.4v1.4h-1.4zM145.8 95.4h1.4v1.4h-1.4zM90.1 163.0h1.4v1.4h-1.4zM146.8 90.4h1.4v1.4h-1.4zM84.5 162.0h1.4v1.4h-1.4zM106.8 138.9h1.4v1.4h-1.4zM132.4 109.1h1.4v1.4h-1.4zM161.9 87.1h1.4v1.4h-1.4zM139.0 104.4h1.4v1.4h-1.4zM102.2 154.0h1.4v1.4h-1.4zM117.7 126.1h1.4v1.4h-1.4zM96.1 152.1h1.4v1.4h-1.4zM114.8 128.2h1.4v1.4h-1.4zM102.9 137.7h1.4v1.4h-1.4zM108.9 135.9h1.4v1.4h-1.4zM142.4 104.4h1.4v1.4h-1.4zM145.0 98.5h1.4v1.4h-1.4zM104.0 141.5h1.4v1.4h-1.4zM115.4 122.7h1.4v1.4h-1.4zM91.8 151.0h1.4v1.4h-1.4zM134.4 110.3h1.4v1.4h-1.4zM120.1 127.8h1.4v1.4h-1.4zM88.2 151.7h1.4v1.4h-1.4zM108.6 135.0h1.4v1.4h-1.4zM87.1 156.2h1.4v1.4h-1.4zM128.4 110.6h1.4v1.4h-1.4zM118.0 120.1h1.4v1.4h-1.4zM141.3 106.8h1.4v1.4h-1.4zM163.6 84.8h1.4v1.4h-1.4zM140.1 101.0h1.4v1.4h-1.4zM107.6 145.4h1.4v1.4h-1.4zM90.2 163.9h1.4v1.4h-1.4zM124.5 127.5h1.4v1.4h-1.4zM146.1 99.9h1.4v1.4h-1.4zM116.5 134.1h1.4v1.4h-1.4zM164.3 83.5h1.4v1.4h-1.4zM115.8 137.6h1.4v1.4h-1.4zM120.1 130.1h1.4v1.4h-1.4zM122.0 128.4h1.4v1.4h-1.4zM127.1 124.3h1.4v1.4h-1.4zM146.1 96.0h1.4v1.4h-1.4zM106.4 143.4h1.4v1.4h-1.4zM84.4 144.9h1.4v1.4h-1.4zM100.5 133.7h1.4v1.4h-1.4zM108.0 152.5h1.4v1.4h-1.4zM85.5 152.5h1.4v1.4h-1.4zM108.7 136.0h1.4v1.4h-1.4zM95.3 159.0h1.4v1.4h-1.4zM107.1 156.4h1.4v1.4h-1.4zM89.7 157.7h1.4v1.4h-1.4zM110.9 141.6h1.4v1.4h-1.4zM90.8 159.0h1.4v1.4h-1.4zM109.9 139.4h1.4v1.4h-1.4zM102.7 158.5h1.4v1.4h-1.4zM109.4 150.8h1.4v1.4h-1.4zM101.3 133.6h1.4v1.4h-1.4zM102.7 158.5h1.4v1.4h-1.4zM93.0 157.0h1.4v1.4h-1.4zM104.1 133.2h1.4v1.4h-1.4zM112.2 147.2h1.4v1.4h-1.4zM110.7 140.1h1.4v1.4h-1.4zM90.2 137.9h1.4v1.4h-1.4zM90.5 155.8h1.4v1.4h-1.4zM109.4 138.2h1.4v1.4h-1.4zM86.7 150.8h1.4v1.4h-1.4zM104.0 156.4h1.4v1.4h-1.4zM93.2 159.6h1.4v1.4h-1.4zM95.9 132.4h1.4v1.4h-1.4zM90.7 137.7h1.4v1.4h-1.4zM96.1 134.1h1.4v1.4h-1.4zM109.1 150.4h1.4v1.4h-1.4zM95.7 134.6h1.4v1.4h-1.4zM106.4 153.8h1.4v1.4h-1.4zM115.9 142.9h1.4v1.4h-1.4zM102.2 133.8h1.4v1.4h-1.4zM112.1 146.3h1.4v1.4h-1.4zM111.6 139.4h1.4v1.4h-1.4zM103.2 157.4h1.4v1.4h-1.4zM110.8 135.1h1.4v1.4h-1.4zM85.5 146.6h1.4v1.4h-1.4zM112.0 145.6h1.4v1.4h-1.4zM111.7 148.6h1.4v1.4h-1.4zM105.2 155.3h1.4v1.4h-1.4zM85.4 143.1h1.4v1.4h-1.4zM110.9 151.7h1.4v1.4h-1.4zM94.2 135.6h1.4v1.4h-1.4zM86.6 143.0h1.4v1.4h-1.4zM94.4 157.5h1.4v1.4h-1.4zM112.1 140.1h1.4v1.4h-1.4zM110.7 139.7h1.4v1.4h-1.4zM113.1 142.8h1.4v1.4h-1.4zM88.9 156.2h1.4v1.4h-1.4zM101.6 157.2h1.4v1.4h-1.4zM105.9 154.5h1.4v1.4h-1.4zM101.2 132.1h1.4v1.4h-1.4zM111.0 141.5h1.4v1.4h-1.4zM87.3 148.9h1.4v1.4h-1.4zM114.6 143.4h1.4v1.4h-1.4zM86.5 151.2h1.4v1.4h-1.4zM114.5 141.5h1.4v1.4h-1.4zM112.2 146.3h1.4v1.4h-1.4zM94.5 158.1h1.4v1.4h-1.4zM90.8 139.2h1.4v1.4h-1.4zM87.3 151.8h1.4v1.4h-1.4zM86.9 147.5h1.4v1.4h-1.4zM87.7 145.3h1.4v1.4h-1.4zM113.2 144.5h1.4v1.4h-1.4zM94.9 158.5h1.4v1.4h-1.4zM96.2 160.5h1.4v1.4h-1.4zM98.3 132.8h1.4v1.4h-1.4zM93.1 156.5h1.4v1.4h-1.4zM92.8 158.7h1.4v1.4h-1.4zM86.1 147.1h1.4v1.4h-1.4zM90.6 156.7h1.4v1.4h-1.4zM99.3 133.1h1.4v1.4h-1.4zM113.0 146.0h1.4v1.4h-1.4zM109.2 133.2h1.4v1.4h-1.4zM111.0 148.0h1.4v1.4h-1.4zM86.6 144.1h1.4v1.4h-1.4zM109.8 139.1h1.4v1.4h-1.4zM94.9 157.4h1.4v1.4h-1.4zM88.4 152.1h1.4v1.4h-1.4zM96.0 158.7h1.4v1.4h-1.4zM110.5 137.5h1.4v1.4h-1.4zM108.4 153.6h1.4v1.4h-1.4zM96.9 158.9h1.4v1.4h-1.4zM102.8 156.3h1.4v1.4h-1.4zM87.2 151.4h1.4v1.4h-1.4zM111.3 145.9h1.4v1.4h-1.4zM108.0 153.0h1.4v1.4h-1.4zM101.7 134.1h1.4v1.4h-1.4zM105.6 134.7h1.4v1.4h-1.4zM88.5 157.8h1.4v1.4h-1.4zM91.6 156.5h1.4v1.4h-1.4zM93.8 159.0h1.4v1.4h-1.4zM107.3 152.6h1.4v1.4h-1.4zM97.8 159.0h1.4v1.4h-1.4zM106.0 132.9h1.4v1.4h-1.4zM92.7 137.0h1.4v1.4h-1.4zM89.3 154.5h1.4v1.4h-1.4zM96.4 134.7h1.4v1.4h-1.4zM93.1 160.5h1.4v1.4h-1.4zM113.3 145.0h1.4v1.4h-1.4zM92.4 137.5h1.4v1.4h-1.4zM98.7 160.4h1.4v1.4h-1.4zM90.2 136.9h1.4v1.4h-1.4zM91.0 138.1h1.4v1.4h-1.4zM100.1 157.1h1.4v1.4h-1.4zM92.4 159.2h1.4v1.4h-1.4zM93.2 158.1h1.4v1.4h-1.4zM98.1 157.9h1.4v1.4h-1.4zM91.0 155.3h1.4v1.4h-1.4zM102.1 156.4h1.4v1.4h-1.4zM111.0 141.3h1.4v1.4h-1.4zM111.1 149.1h1.4v1.4h-1.4zM92.5 156.4h1.4v1.4h-1.4zM89.7 137.4h1.4v1.4h-1.4zM91.5 137.2h1.4v1.4h-1.4zM102.8 133.1h1.4v1.4h-1.4zM109.9 139.3h1.4v1.4h-1.4zM84.1 144.8h1.4v1.4h-1.4zM86.7 149.2h1.4v1.4h-1.4zM96.0 133.2h1.4v1.4h-1.4zM109.3 150.1h1.4v1.4h-1.4zM113.6 150.0h1.4v1.4h-1.4zM96.7 159.4h1.4v1.4h-1.4zM94.6 135.7h1.4v1.4h-1.4zM104.7 158.7h1.4v1.4h-1.4zM90.5 134.2h1.4v1.4h-1.4zM87.7 142.5h1.4v1.4h-1.4zM102.3 132.5h1.4v1.4h-1.4zM99.6 157.6h1.4v1.4h-1.4zM109.3 136.1h1.4v1.4h-1.4zM112.4 148.0h1.4v1.4h-1.4zM83.6 147.4h1.4v1.4h-1.4zM108.8 135.3h1.4v1.4h-1.4zM101.1 156.7h1.4v1.4h-1.4zM110.8 146.1h1.4v1.4h-1.4zM106.4 153.7h1.4v1.4h-1.4zM104.2 134.5h1.4v1.4h-1.4zM87.1 145.1h1.4v1.4h-1.4zM88.4 154.3h1.4v1.4h-1.4zM103.3 133.8h1.4v1.4h-1.4zM111.0 146.6h1.4v1.4h-1.4zM109.2 150.4h1.4v1.4h-1.4zM110.8 147.2h1.4v1.4h-1.4zM93.4 157.6h1.4v1.4h-1.4zM88.9 156.0h1.4v1.4h-1.4zM86.0 139.1h1.4v1.4h-1.4zM106.3 132.6h1.4v1.4h-1.4zM102.3 132.8h1.4v1.4h-1.4zM92.9 156.6h1.4v1.4h-1.4zM87.5 158.7h1.4v1.4h-1.4zM88.2 143.4h1.4v1.4h-1.4zM105.3 133.2h1.4v1.4h-1.4zM107.1 155.7h1.4v1.4h-1.4zM110.5 136.6h1.4v1.4h-1.4zM109.7 149.1h1.4v1.4h-1.4zM101.8 156.9h1.4v1.4h-1.4zM106.9 153.2h1.4v1.4h-1.4zM88.2 138.2h1.4v1.4h-1.4zM103.3 134.1h1.4v1.4h-1.4zM89.6 155.5h1.4v1.4h-1.4zM100.1 157.7h1.4v1.4h-1.4zM91.6 138.3h1.4v1.4h-1.4zM110.2 150.1h1.4v1.4h-1.4zM91.0 158.5h1.4v1.4h-1.4zM99.7 133.5h1.4v1.4h-1.4zM107.4 153.5h1.4v1.4h-1.4zM102.9 156.5h1.4v1.4h-1.4zM98.5 159.9h1.4v1.4h-1.4zM99.4 159.7h1.4v1.4h-1.4zM107.3 153.7h1.4v1.4h-1.4zM83.9 146.7h1.4v1.4h-1.4zM95.3 134.9h1.4v1.4h-1.4zM95.8 158.1h1.4v1.4h-1.4zM91.8 156.8h1.4v1.4h-1.4zM111.6 141.2h1.4v1.4h-1.4zM111.3 140.8h1.4v1.4h-1.4zM104.0 156.7h1.4v1.4h-1.4zM85.2 149.1h1.4v1.4h-1.4zM91.5 155.6h1.4v1.4h-1.4zM97.1 159.6h1.4v1.4h-1.4zM91.9 158.0h1.4v1.4h-1.4zM87.3 144.2h1.4v1.4h-1.4zM101.4 157.4h1.4v1.4h-1.4zM111.0 146.7h1.4v1.4h-1.4zM113.4 151.5h1.4v1.4h-1.4zM86.0 149.2h1.4v1.4h-1.4zM102.3 157.2h1.4v1.4h-1.4zM113.9 142.9h1.4v1.4h-1.4zM89.9 158.8h1.4v1.4h-1.4zM102.6 159.1h1.4v1.4h-1.4zM111.5 145.4h1.4v1.4h-1.4zM90.4 154.8h1.4v1.4h-1.4zM99.1 131.0h1.4v1.4h-1.4zM106.6 154.0h1.4v1.4h-1.4zM102.6 157.0h1.4v1.4h-1.4zM100.8 157.2h1.4v1.4h-1.4zM95.1 158.1h1.4v1.4h-1.4zM94.2 159.5h1.4v1.4h-1.4zM113.4 141.4h1.4v1.4h-1.4zM97.1 158.8h1.4v1.4h-1.4zM86.5 147.4h1.4v1.4h-1.4zM87.6 155.6h1.4v1.4h-1.4zM112.7 142.0h1.4v1.4h-1.4zM108.3 132.7h1.4v1.4h-1.4zM109.5 150.3h1.4v1.4h-1.4zM91.7 156.0h1.4v1.4h-1.4zM86.8 152.3h1.4v1.4h-1.4zM100.3 132.0h1.4v1.4h-1.4zM89.1 141.4h1.4v1.4h-1.4zM103.7 134.2h1.4v1.4h-1.4zM87.7 135.8h1.4v1.4h-1.4zM96.8 158.1h1.4v1.4h-1.4zM95.7 158.6h1.4v1.4h-1.4zM89.3 140.8h1.4v1.4h-1.4zM111.0 141.6h1.4v1.4h-1.4zM106.5 131.3h1.4v1.4h-1.4zM103.7 132.4h1.4v1.4h-1.4zM85.7 148.2h1.4v1.4h-1.4zM97.0 131.8h1.4v1.4h-1.4zM89.9 140.6h1.4v1.4h-1.4zM110.2 155.4h1.4v1.4h-1.4zM95.8 157.3h1.4v1.4h-1.4zM95.7 160.3h1.4v1.4h-1.4zM108.9 135.9h1.4v1.4h-1.4zM110.9 146.5h1.4v1.4h-1.4zM101.7 162.1h1.4v1.4h-1.4zM91.9 135.6h1.4v1.4h-1.4zM94.5 158.7h1.4v1.4h-1.4zM88.3 153.1h1.4v1.4h-1.4zM88.8 139.5h1.4v1.4h-1.4zM104.1 132.0h1.4v1.4h-1.4zM100.1 157.1h1.4v1.4h-1.4zM102.8 133.6h1.4v1.4h-1.4zM90.2 158.6h1.4v1.4h-1.4zM114.6 141.4h1.4v1.4h-1.4zM88.3 155.2h1.4v1.4h-1.4zM106.3 154.3h1.4v1.4h-1.4zM92.3 157.0h1.4v1.4h-1.4zM105.7 133.7h1.4v1.4h-1.4zM103.3 133.9h1.4v1.4h-1.4zM94.0 159.4h1.4v1.4h-1.4zM108.4 153.2h1.4v1.4h-1.4zM101.8 158.3h1.4v1.4h-1.4zM86.6 156.1h1.4v1.4h-1.4zM92.2 137.7h1.4v1.4h-1.4zM93.5 135.5h1.4v1.4h-1.4zM108.8 152.2h1.4v1.4h-1.4zM86.5 151.8h1.4v1.4h-1.4zM97.3 134.5h1.4v1.4h-1.4zM110.5 138.5h1.4v1.4h-1.4zM100.0 158.7h1.4v1.4h-1.4zM85.9 143.8h1.4v1.4h-1.4zM94.8 161.0h1.4v1.4h-1.4zM89.5 154.7h1.4v1.4h-1.4zM88.3 151.6h1.4v1.4h-1.4zM90.7 138.1h1.4v1.4h-1.4zM87.8 151.8h1.4v1.4h-1.4zM94.5 135.8h1.4v1.4h-1.4zM94.8 158.6h1.4v1.4h-1.4zM88.0 142.6h1.4v1.4h-1.4zM86.4 148.5h1.4v1.4h-1.4zM108.2 132.3h1.4v1.4h-1.4zM95.3 158.3h1.4v1.4h-1.4zM87.5 140.6h1.4v1.4h-1.4zM99.5 157.4h1.4v1.4h-1.4zM107.8 136.6h1.4v1.4h-1.4zM111.6 137.0h1.4v1.4h-1.4zM102.2 156.9h1.4v1.4h-1.4zM101.1 133.6h1.4v1.4h-1.4zM92.8 158.5h1.4v1.4h-1.4zM94.1 135.3h1.4v1.4h-1.4zM112.8 138.1h1.4v1.4h-1.4zM94.0 156.9h1.4v1.4h-1.4zM104.8 157.0h1.4v1.4h-1.4zM112.4 144.2h1.4v1.4h-1.4zM101.9 132.8h1.4v1.4h-1.4zM104.1 132.6h1.4v1.4h-1.4zM83.2 148.0h1.4v1.4h-1.4zM87.5 143.6h1.4v1.4h-1.4zM113.6 147.0h1.4v1.4h-1.4zM97.8 157.8h1.4v1.4h-1.4zM111.9 145.3h1.4v1.4h-1.4zM96.3 133.1h1.4v1.4h-1.4zM86.1 148.8h1.4v1.4h-1.4zM108.1 136.2h1.4v1.4h-1.4zM108.5 130.0h1.4v1.4h-1.4zM91.1 136.2h1.4v1.4h-1.4zM107.0 153.7h1.4v1.4h-1.4zM85.1 146.7h1.4v1.4h-1.4zM100.1 133.2h1.4v1.4h-1.4zM84.9 152.3h1.4v1.4h-1.4zM98.0 158.1h1.4v1.4h-1.4zM87.7 149.5h1.4v1.4h-1.4zM97.6 131.3h1.4v1.4h-1.4zM88.1 154.2h1.4v1.4h-1.4zM87.3 152.4h1.4v1.4h-1.4zM113.6 146.3h1.4v1.4h-1.4zM90.0 156.7h1.4v1.4h-1.4zM110.4 151.3h1.4v1.4h-1.4zM86.3 154.0h1.4v1.4h-1.4zM87.6 149.4h1.4v1.4h-1.4zM111.4 146.2h1.4v1.4h-1.4zM97.1 133.1h1.4v1.4h-1.4zM109.8 134.3h1.4v1.4h-1.4zM98.5 159.1h1.4v1.4h-1.4zM103.9 128.5h1.4v1.4h-1.4zM85.7 147.6h1.4v1.4h-1.4zM111.0 141.8h1.4v1.4h-1.4zM86.4 148.2h1.4v1.4h-1.4zM100.6 159.9h1.4v1.4h-1.4zM112.1 142.4h1.4v1.4h-1.4zM109.6 138.3h1.4v1.4h-1.4zM109.2 154.3h1.4v1.4h-1.4zM105.0 132.2h1.4v1.4h-1.4zM89.6 154.5h1.4v1.4h-1.4zM111.9 139.6h1.4v1.4h-1.4zM88.3 140.0h1.4v1.4h-1.4zM101.5 158.1h1.4v1.4h-1.4zM92.3 136.4h1.4v1.4h-1.4zM111.3 134.0h1.4v1.4h-1.4zM111.8 149.2h1.4v1.4h-1.4zM109.7 135.6h1.4v1.4h-1.4zM96.5 135.0h1.4v1.4h-1.4zM109.8 152.2h1.4v1.4h-1.4zM109.1 154.7h1.4v1.4h-1.4zM101.8 132.5h1.4v1.4h-1.4zM97.9 158.4h1.4v1.4h-1.4zM111.7 148.5h1.4v1.4h-1.4zM111.3 152.0h1.4v1.4h-1.4zM111.3 139.6h1.4v1.4h-1.4zM99.4 158.7h1.4v1.4h-1.4zM104.6 134.7h1.4v1.4h-1.4zM101.8 133.1h1.4v1.4h-1.4zM107.4 133.4h1.4v1.4h-1.4zM87.4 145.3h1.4v1.4h-1.4zM103.4 131.6h1.4v1.4h-1.4zM107.2 160.1h1.4v1.4h-1.4zM100.1 157.1h1.4v1.4h-1.4zM88.7 137.8h1.4v1.4h-1.4zM108.8 152.7h1.4v1.4h-1.4zM93.3 130.4h1.4v1.4h-1.4zM106.3 155.1h1.4v1.4h-1.4zM93.3 159.7h1.4v1.4h-1.4zM104.9 134.7h1.4v1.4h-1.4zM103.4 132.8h1.4v1.4h-1.4zM99.4 157.6h1.4v1.4h-1.4zM95.1 159.4h1.4v1.4h-1.4zM111.0 151.2h1.4v1.4h-1.4zM102.6 156.3h1.4v1.4h-1.4zM109.1 153.3h1.4v1.4h-1.4zM88.3 152.6h1.4v1.4h-1.4zM91.3 136.3h1.4v1.4h-1.4zM86.8 148.8h1.4v1.4h-1.4zM111.4 142.5h1.4v1.4h-1.4zM87.0 153.2h1.4v1.4h-1.4zM111.2 152.3h1.4v1.4h-1.4zM89.8 140.2h1.4v1.4h-1.4zM98.6 132.0h1.4v1.4h-1.4zM86.0 145.7h1.4v1.4h-1.4zM112.8 143.0h1.4v1.4h-1.4zM104.9 157.2h1.4v1.4h-1.4zM93.6 134.0h1.4v1.4h-1.4zM100.8 131.4h1.4v1.4h-1.4zM94.9 157.5h1.4v1.4h-1.4zM110.7 149.9h1.4v1.4h-1.4zM98.8 132.0h1.4v1.4h-1.4zM90.3 138.0h1.4v1.4h-1.4zM90.8 155.0h1.4v1.4h-1.4zM96.8 157.8h1.4v1.4h-1.4zM96.1 158.6h1.4v1.4h-1.4zM104.7 155.2h1.4v1.4h-1.4zM108.5 152.8h1.4v1.4h-1.4zM100.4 132.9h1.4v1.4h-1.4zM100.4 131.5h1.4v1.4h-1.4zM87.0 148.0h1.4v1.4h-1.4zM85.2 150.8h1.4v1.4h-1.4zM98.3 158.2h1.4v1.4h-1.4zM102.8 156.3h1.4v1.4h-1.4zM90.3 137.5h1.4v1.4h-1.4zM110.2 138.6h1.4v1.4h-1.4zM85.7 141.8h1.4v1.4h-1.4zM87.1 144.2h1.4v1.4h-1.4zM112.0 146.2h1.4v1.4h-1.4zM89.0 156.0h1.4v1.4h-1.4zM107.8 135.7h1.4v1.4h-1.4zM95.0 158.3h1.4v1.4h-1.4zM109.9 151.1h1.4v1.4h-1.4zM97.2 159.2h1.4v1.4h-1.4zM112.1 141.9h1.4v1.4h-1.4zM87.0 145.9h1.4v1.4h-1.4zM95.7 135.4h1.4v1.4h-1.4zM97.6 159.9h1.4v1.4h-1.4zM107.9 133.8h1.4v1.4h-1.4zM89.7 139.2h1.4v1.4h-1.4zM95.4 132.1h1.4v1.4h-1.4zM91.7 156.7h1.4v1.4h-1.4zM92.1 138.1h1.4v1.4h-1.4zM103.8 129.8h1.4v1.4h-1.4zM91.8 157.4h1.4v1.4h-1.4zM90.4 136.2h1.4v1.4h-1.4zM111.8 150.2h1.4v1.4h-1.4zM110.8 140.2h1.4v1.4h-1.4zM111.2 149.0h1.4v1.4h-1.4zM90.5 154.8h1.4v1.4h-1.4zM103.9 132.0h1.4v1.4h-1.4zM112.0 147.2h1.4v1.4h-1.4zM89.2 141.8h1.4v1.4h-1.4zM111.1 149.5h1.4v1.4h-1.4zM101.9 134.0h1.4v1.4h-1.4zM105.0 155.6h1.4v1.4h-1.4zM88.9 155.3h1.4v1.4h-1.4zM93.8 134.6h1.4v1.4h-1.4zM91.5 159.7h1.4v1.4h-1.4zM108.8 151.0h1.4v1.4h-1.4zM87.2 148.3h1.4v1.4h-1.4zM102.0 157.6h1.4v1.4h-1.4zM111.2 138.5h1.4v1.4h-1.4zM96.7 158.0h1.4v1.4h-1.4zM102.0 133.3h1.4v1.4h-1.4zM110.4 149.0h1.4v1.4h-1.4zM100.7 158.9h1.4v1.4h-1.4zM109.4 131.9h1.4v1.4h-1.4zM108.7 151.5h1.4v1.4h-1.4zM88.6 152.4h1.4v1.4h-1.4zM113.7 138.9h1.4v1.4h-1.4zM108.9 154.0h1.4v1.4h-1.4zM91.9 156.8h1.4v1.4h-1.4zM102.1 161.6h1.4v1.4h-1.4zM90.3 155.6h1.4v1.4h-1.4zM90.1 156.3h1.4v1.4h-1.4zM110.9 149.7h1.4v1.4h-1.4zM85.6 152.6h1.4v1.4h-1.4zM86.0 142.8h1.4v1.4h-1.4zM95.0 135.5h1.4v1.4h-1.4zM90.3 156.5h1.4v1.4h-1.4zM100.9 157.5h1.4v1.4h-1.4zM99.2 134.2h1.4v1.4h-1.4zM107.0 134.6h1.4v1.4h-1.4zM110.5 139.7h1.4v1.4h-1.4zM90.8 157.2h1.4v1.4h-1.4zM85.9 145.4h1.4v1.4h-1.4zM113.9 136.7h1.4v1.4h-1.4zM90.9 156.4h1.4v1.4h-1.4zM91.5 158.1h1.4v1.4h-1.4zM96.0 157.7h1.4v1.4h-1.4zM111.1 143.2h1.4v1.4h-1.4zM112.2 143.1h1.4v1.4h-1.4zM93.6 159.1h1.4v1.4h-1.4zM89.8 135.7h1.4v1.4h-1.4zM94.4 135.3h1.4v1.4h-1.4zM113.2 145.8h1.4v1.4h-1.4zM103.0 156.9h1.4v1.4h-1.4zM109.2 134.4h1.4v1.4h-1.4zM110.2 138.4h1.4v1.4h-1.4zM88.9 138.9h1.4v1.4h-1.4zM97.8 134.8h1.4v1.4h-1.4zM104.5 134.6h1.4v1.4h-1.4zM112.2 143.6h1.4v1.4h-1.4zM111.3 145.9h1.4v1.4h-1.4zM87.9 140.8h1.4v1.4h-1.4zM100.6 156.9h1.4v1.4h-1.4zM102.7 133.9h1.4v1.4h-1.4zM97.7 134.3h1.4v1.4h-1.4zM110.5 147.6h1.4v1.4h-1.4zM85.6 147.3h1.4v1.4h-1.4zM84.8 154.5h1.4v1.4h-1.4zM90.4 135.4h1.4v1.4h-1.4zM81.0 148.8h1.4v1.4h-1.4zM86.7 149.7h1.4v1.4h-1.4zM93.2 158.8h1.4v1.4h-1.4zM111.6 137.0h1.4v1.4h-1.4zM87.2 140.5h1.4v1.4h-1.4zM111.1 145.3h1.4v1.4h-1.4zM111.3 138.5h1.4v1.4h-1.4zM95.3 135.4h1.4v1.4h-1.4zM109.1 132.2h1.4v1.4h-1.4zM107.5 154.9h1.4v1.4h-1.4zM100.3 157.9h1.4v1.4h-1.4zM110.9 137.7h1.4v1.4h-1.4zM92.5 162.1h1.4v1.4h-1.4zM98.6 157.4h1.4v1.4h-1.4zM108.6 155.5h1.4v1.4h-1.4zM111.1 140.4h1.4v1.4h-1.4zM106.7 154.4h1.4v1.4h-1.4zM105.4 158.0h1.4v1.4h-1.4zM104.1 133.5h1.4v1.4h-1.4zM97.9 131.0h1.4v1.4h-1.4zM84.7 142.4h1.4v1.4h-1.4zM109.8 150.4h1.4v1.4h-1.4zM86.6 151.2h1.4v1.4h-1.4zM88.2 151.7h1.4v1.4h-1.4zM108.4 152.1h1.4v1.4h-1.4zM89.6 139.8h1.4v1.4h-1.4zM85.2 146.5h1.4v1.4h-1.4zM89.3 140.6h1.4v1.4h-1.4zM87.3 148.3h1.4v1.4h-1.4zM108.0 133.0h1.4v1.4h-1.4zM101.0 134.2h1.4v1.4h-1.4zM111.2 141.2h1.4v1.4h-1.4zM93.5 135.8h1.4v1.4h-1.4zM97.6 134.1h1.4v1.4h-1.4zM109.4 136.2h1.4v1.4h-1.4zM102.6 133.7h1.4v1.4h-1.4zM113.5 143.5h1.4v1.4h-1.4zM85.1 149.2h1.4v1.4h-1.4zM98.8 133.7h1.4v1.4h-1.4zM102.4 156.3h1.4v1.4h-1.4zM81.6 146.6h1.4v1.4h-1.4zM87.1 151.8h1.4v1.4h-1.4zM93.6 158.4h1.4v1.4h-1.4zM100.7 158.0h1.4v1.4h-1.4zM105.7 158.6h1.4v1.4h-1.4zM98.6 160.2h1.4v1.4h-1.4zM97.7 133.1h1.4v1.4h-1.4zM104.1 133.4h1.4v1.4h-1.4zM88.7 141.9h1.4v1.4h-1.4zM103.3 133.5h1.4v1.4h-1.4zM102.9 156.6h1.4v1.4h-1.4zM98.2 161.3h1.4v1.4h-1.4zM99.2 160.0h1.4v1.4h-1.4zM112.3 145.2h1.4v1.4h-1.4zM87.0 145.3h1.4v1.4h-1.4zM90.8 139.2h1.4v1.4h-1.4zM106.5 154.7h1.4v1.4h-1.4zM107.4 152.8h1.4v1.4h-1.4zM107.5 136.0h1.4v1.4h-1.4zM110.1 150.5h1.4v1.4h-1.4zM98.4 158.3h1.4v1.4h-1.4zM91.2 158.4h1.4v1.4h-1.4zM87.8 150.5h1.4v1.4h-1.4zM111.8 136.9h1.4v1.4h-1.4zM111.9 146.0h1.4v1.4h-1.4zM110.2 151.8h1.4v1.4h-1.4zM102.4 132.4h1.4v1.4h-1.4zM88.7 155.0h1.4v1.4h-1.4zM103.4 133.6h1.4v1.4h-1.4zM86.5 141.0h1.4v1.4h-1.4zM86.0 152.6h1.4v1.4h-1.4zM102.6 133.8h1.4v1.4h-1.4zM87.0 151.5h1.4v1.4h-1.4zM93.2 136.1h1.4v1.4h-1.4zM107.6 152.7h1.4v1.4h-1.4zM91.3 137.5h1.4v1.4h-1.4zM90.7 136.8h1.4v1.4h-1.4zM96.4 133.5h1.4v1.4h-1.4zM108.8 152.9h1.4v1.4h-1.4zM87.6 141.6h1.4v1.4h-1.4zM103.3 131.4h1.4v1.4h-1.4zM83.7 146.8h1.4v1.4h-1.4zM113.6 143.8h1.4v1.4h-1.4zM106.4 134.4h1.4v1.4h-1.4zM94.6 133.9h1.4v1.4h-1.4zM108.4 154.8h1.4v1.4h-1.4zM102.2 133.0h1.4v1.4h-1.4zM112.7 139.8h1.4v1.4h-1.4zM99.1 131.4h1.4v1.4h-1.4zM87.7 141.0h1.4v1.4h-1.4zM88.8 154.3h1.4v1.4h-1.4zM86.2 153.8h1.4v1.4h-1.4zM87.5 145.8h1.4v1.4h-1.4zM89.7 155.4h1.4v1.4h-1.4zM88.2 140.9h1.4v1.4h-1.4zM84.8 147.9h1.4v1.4h-1.4zM109.9 135.3h1.4v1.4h-1.4zM104.0 133.5h1.4v1.4h-1.4zM111.7 138.5h1.4v1.4h-1.4zM87.2 154.2h1.4v1.4h-1.4zM89.7 160.7h1.4v1.4h-1.4zM110.7 136.3h1.4v1.4h-1.4zM99.7 157.7h1.4v1.4h-1.4zM110.2 148.6h1.4v1.4h-1.4zM87.0 150.9h1.4v1.4h-1.4zM88.0 143.5h1.4v1.4h-1.4zM105.9 133.2h1.4v1.4h-1.4zM99.1 134.3h1.4v1.4h-1.4zM103.1 133.5h1.4v1.4h-1.4zM99.5 134.3h1.4v1.4h-1.4zM87.1 153.6h1.4v1.4h-1.4zM114.7 141.8h1.4v1.4h-1.4zM104.5 157.5h1.4v1.4h-1.4zM86.6 151.2h1.4v1.4h-1.4zM86.9 154.0h1.4v1.4h-1.4zM93.3 157.9h1.4v1.4h-1.4zM90.3 135.8h1.4v1.4h-1.4zM88.0 153.7h1.4v1.4h-1.4zM87.4 149.5h1.4v1.4h-1.4zM97.4 133.4h1.4v1.4h-1.4zM96.8 134.6h1.4v1.4h-1.4zM99.9 134.3h1.4v1.4h-1.4zM86.5 138.2h1.4v1.4h-1.4zM96.3 135.0h1.4v1.4h-1.4zM90.4 139.2h1.4v1.4h-1.4zM107.3 132.7h1.4v1.4h-1.4zM86.7 150.6h1.4v1.4h-1.4zM88.4 152.8h1.4v1.4h-1.4zM111.2 140.9h1.4v1.4h-1.4zM87.7 142.4h1.4v1.4h-1.4zM91.6 135.7h1.4v1.4h-1.4zM97.4 161.0h1.4v1.4h-1.4zM112.4 145.2h1.4v1.4h-1.4zM95.9 157.6h1.4v1.4h-1.4zM115.2 140.1h1.4v1.4h-1.4zM93.0 159.4h1.4v1.4h-1.4zM96.3 160.4h1.4v1.4h-1.4zM86.3 147.6h1.4v1.4h-1.4zM90.7 136.3h1.4v1.4h-1.4zM110.1 134.6h1.4v1.4h-1.4zM109.3 137.6h1.4v1.4h-1.4zM93.5 157.2h1.4v1.4h-1.4zM100.5 157.6h1.4v1.4h-1.4zM94.6 134.5h1.4v1.4h-1.4zM86.8 140.5h1.4v1.4h-1.4zM87.0 147.1h1.4v1.4h-1.4zM109.0 151.3h1.4v1.4h-1.4zM92.3 135.8h1.4v1.4h-1.4zM89.7 140.8h1.4v1.4h-1.4zM87.5 143.3h1.4v1.4h-1.4zM92.5 137.1h1.4v1.4h-1.4zM87.3 147.3h1.4v1.4h-1.4zM86.8 151.2h1.4v1.4h-1.4zM90.2 155.0h1.4v1.4h-1.4zM92.7 157.4h1.4v1.4h-1.4zM106.8 135.5h1.4v1.4h-1.4zM102.0 156.8h1.4v1.4h-1.4zM109.5 152.7h1.4v1.4h-1.4zM111.7 142.5h1.4v1.4h-1.4zM92.6 137.4h1.4v1.4h-1.4zM107.8 136.6h1.4v1.4h-1.4zM104.3 157.7h1.4v1.4h-1.4zM111.0 136.4h1.4v1.4h-1.4zM97.4 159.1h1.4v1.4h-1.4zM93.5 159.0h1.4v1.4h-1.4zM91.7 155.7h1.4v1.4h-1.4zM106.5 153.8h1.4v1.4h-1.4zM84.7 151.5h1.4v1.4h-1.4zM111.8 140.2h1.4v1.4h-1.4zM112.2 144.2h1.4v1.4h-1.4zM106.0 154.5h1.4v1.4h-1.4zM100.6 157.6h1.4v1.4h-1.4zM96.7 159.4h1.4v1.4h-1.4zM89.0 136.0h1.4v1.4h-1.4zM86.8 145.3h1.4v1.4h-1.4zM107.0 154.9h1.4v1.4h-1.4zM88.4 143.1h1.4v1.4h-1.4zM88.5 143.0h1.4v1.4h-1.4zM87.4 153.7h1.4v1.4h-1.4zM111.7 143.4h1.4v1.4h-1.4zM90.9 134.2h1.4v1.4h-1.4zM90.9 158.5h1.4v1.4h-1.4zM96.1 157.7h1.4v1.4h-1.4zM105.0 155.0h1.4v1.4h-1.4zM92.4 135.5h1.4v1.4h-1.4zM93.4 136.9h1.4v1.4h-1.4zM110.6 148.6h1.4v1.4h-1.4zM105.5 156.3h1.4v1.4h-1.4zM105.2 132.4h1.4v1.4h-1.4zM95.4 157.9h1.4v1.4h-1.4zM112.2 146.4h1.4v1.4h-1.4zM87.9 145.0h1.4v1.4h-1.4zM85.6 150.4h1.4v1.4h-1.4zM104.2 155.7h1.4v1.4h-1.4zM88.9 157.6h1.4v1.4h-1.4zM92.9 136.0h1.4v1.4h-1.4zM90.6 136.8h1.4v1.4h-1.4zM89.3 156.6h1.4v1.4h-1.4zM95.8 135.1h1.4v1.4h-1.4zM104.8 157.1h1.4v1.4h-1.4zM100.9 133.2h1.4v1.4h-1.4zM108.0 153.8h1.4v1.4h-1.4zM105.2 134.5h1.4v1.4h-1.4zM111.1 147.0h1.4v1.4h-1.4zM104.4 162.0h1.4v1.4h-1.4zM89.0 159.4h1.4v1.4h-1.4zM97.4 158.7h1.4v1.4h-1.4zM89.1 153.6h1.4v1.4h-1.4zM87.0 152.8h1.4v1.4h-1.4zM97.4 158.4h1.4v1.4h-1.4zM108.2 131.9h1.4v1.4h-1.4zM87.9 150.6h1.4v1.4h-1.4zM87.0 151.8h1.4v1.4h-1.4zM101.3 131.1h1.4v1.4h-1.4zM100.1 133.4h1.4v1.4h-1.4zM93.5 157.8h1.4v1.4h-1.4zM112.5 149.2h1.4v1.4h-1.4zM104.3 156.6h1.4v1.4h-1.4zM102.5 131.0h1.4v1.4h-1.4zM88.8 153.6h1.4v1.4h-1.4zM101.1 132.5h1.4v1.4h-1.4zM108.8 153.9h1.4v1.4h-1.4zM111.5 140.5h1.4v1.4h-1.4zM86.9 144.5h1.4v1.4h-1.4zM87.1 148.0h1.4v1.4h-1.4zM113.4 147.9h1.4v1.4h-1.4zM96.1 133.7h1.4v1.4h-1.4zM99.7 133.7h1.4v1.4h-1.4zM87.6 147.3h1.4v1.4h-1.4zM93.1 157.1h1.4v1.4h-1.4zM107.3 136.2h1.4v1.4h-1.4zM87.2 151.8h1.4v1.4h-1.4zM95.3 134.8h1.4v1.4h-1.4zM88.9 138.9h1.4v1.4h-1.4zM103.7 157.2h1.4v1.4h-1.4zM87.1 154.6h1.4v1.4h-1.4zM89.7 138.8h1.4v1.4h-1.4zM93.3 159.9h1.4v1.4h-1.4zM108.4 153.9h1.4v1.4h-1.4zM104.7 134.5h1.4v1.4h-1.4zM100.0 157.5h1.4v1.4h-1.4zM87.0 142.7h1.4v1.4h-1.4zM88.1 144.0h1.4v1.4h-1.4zM87.6 150.9h1.4v1.4h-1.4zM104.3 132.6h1.4v1.4h-1.4zM111.0 142.7h1.4v1.4h-1.4zM109.2 136.1h1.4v1.4h-1.4zM110.9 143.7h1.4v1.4h-1.4zM98.3 159.3h1.4v1.4h-1.4zM93.9 156.9h1.4v1.4h-1.4zM86.2 148.4h1.4v1.4h-1.4zM91.4 155.7h1.4v1.4h-1.4zM112.7 149.8h1.4v1.4h-1.4zM83.0 144.8h1.4v1.4h-1.4zM111.6 141.1h1.4v1.4h-1.4zM108.4 151.9h1.4v1.4h-1.4zM105.6 157.1h1.4v1.4h-1.4zM113.1 137.8h1.4v1.4h-1.4zM84.8 149.1h1.4v1.4h-1.4zM108.8 137.5h1.4v1.4h-1.4zM103.3 133.2h1.4v1.4h-1.4zM98.2 157.8h1.4v1.4h-1.4zM111.9 146.7h1.4v1.4h-1.4zM113.1 143.2h1.4v1.4h-1.4zM95.4 134.4h1.4v1.4h-1.4zM94.5 158.2h1.4v1.4h-1.4zM89.5 139.4h1.4v1.4h-1.4zM90.9 157.7h1.4v1.4h-1.4zM100.9 133.1h1.4v1.4h-1.4zM87.1 148.7h1.4v1.4h-1.4zM110.7 145.9h1.4v1.4h-1.4zM99.1 133.0h1.4v1.4h-1.4zM99.3 159.7h1.4v1.4h-1.4zM109.5 150.1h1.4v1.4h-1.4zM110.9 137.6h1.4v1.4h-1.4zM99.2 133.3h1.4v1.4h-1.4zM95.4 134.3h1.4v1.4h-1.4zM110.2 140.1h1.4v1.4h-1.4zM110.8 148.1h1.4v1.4h-1.4zM93.2 159.6h1.4v1.4h-1.4zM88.6 152.8h1.4v1.4h-1.4zM102.7 131.0h1.4v1.4h-1.4zM93.4 135.2h1.4v1.4h-1.4zM107.7 152.7h1.4v1.4h-1.4zM87.6 152.9h1.4v1.4h-1.4zM89.8 137.7h1.4v1.4h-1.4zM94.8 159.7h1.4v1.4h-1.4zM102.9 133.6h1.4v1.4h-1.4zM93.3 136.6h1.4v1.4h-1.4zM91.6 155.7h1.4v1.4h-1.4zM110.3 151.1h1.4v1.4h-1.4zM86.6 146.4h1.4v1.4h-1.4zM105.3 132.3h1.4v1.4h-1.4zM92.1 138.0h1.4v1.4h-1.4zM93.1 157.1h1.4v1.4h-1.4zM91.5 137.3h1.4v1.4h-1.4zM86.4 144.7h1.4v1.4h-1.4zM100.6 132.3h1.4v1.4h-1.4zM109.4 136.5h1.4v1.4h-1.4zM97.1 160.0h1.4v1.4h-1.4zM94.8 134.5h1.4v1.4h-1.4zM88.2 150.9h1.4v1.4h-1.4zM91.8 136.0h1.4v1.4h-1.4zM97.8 158.1h1.4v1.4h-1.4zM96.7 158.0h1.4v1.4h-1.4zM99.9 157.3h1.4v1.4h-1.4zM89.1 138.6h1.4v1.4h-1.4zM110.1 138.6h1.4v1.4h-1.4zM107.2 135.3h1.4v1.4h-1.4zM103.5 132.8h1.4v1.4h-1.4zM104.8 158.1h1.4v1.4h-1.4zM107.6 153.9h1.4v1.4h-1.4zM87.7 140.5h1.4v1.4h-1.4zM84.5 150.5h1.4v1.4h-1.4zM87.8 142.2h1.4v1.4h-1.4zM112.2 143.2h1.4v1.4h-1.4zM87.5 141.6h1.4v1.4h-1.4zM95.8 134.6h1.4v1.4h-1.4zM109.0 152.3h1.4v1.4h-1.4zM85.4 147.4h1.4v1.4h-1.4zM91.2 157.4h1.4v1.4h-1.4zM99.7 133.2h1.4v1.4h-1.4zM91.4 137.5h1.4v1.4h-1.4zM85.4 151.5h1.4v1.4h-1.4zM105.7 133.3h1.4v1.4h-1.4zM87.1 153.7h1.4v1.4h-1.4zM95.4 134.5h1.4v1.4h-1.4zM97.4 158.1h1.4v1.4h-1.4zM87.6 147.6h1.4v1.4h-1.4zM106.7 134.4h1.4v1.4h-1.4zM93.7 136.3h1.4v1.4h-1.4zM111.4 149.2h1.4v1.4h-1.4zM108.2 136.6h1.4v1.4h-1.4zM97.3 134.0h1.4v1.4h-1.4zM86.5 145.1h1.4v1.4h-1.4zM110.7 146.3h1.4v1.4h-1.4zM86.1 150.7h1.4v1.4h-1.4zM112.4 144.5h1.4v1.4h-1.4zM87.4 144.4h1.4v1.4h-1.4zM93.6 134.0h1.4v1.4h-1.4zM89.5 139.9h1.4v1.4h-1.4zM87.5 144.3h1.4v1.4h-1.4zM112.9 150.8h1.4v1.4h-1.4zM112.0 143.6h1.4v1.4h-1.4zM86.6 150.3h1.4v1.4h-1.4zM108.9 136.5h1.4v1.4h-1.4zM87.1 145.9h1.4v1.4h-1.4zM104.8 159.1h1.4v1.4h-1.4zM87.6 153.4h1.4v1.4h-1.4zM111.7 145.5h1.4v1.4h-1.4zM100.8 133.4h1.4v1.4h-1.4zM92.1 156.8h1.4v1.4h-1.4zM97.4 159.1h1.4v1.4h-1.4zM112.0 144.4h1.4v1.4h-1.4zM112.8 150.3h1.4v1.4h-1.4zM95.4 134.3h1.4v1.4h-1.4zM91.1 138.4h1.4v1.4h-1.4zM88.0 140.8h1.4v1.4h-1.4zM86.9 143.2h1.4v1.4h-1.4zM86.4 154.2h1.4v1.4h-1.4zM87.1 145.4h1.4v1.4h-1.4zM107.1 155.2h1.4v1.4h-1.4zM87.0 154.3h1.4v1.4h-1.4zM108.5 153.3h1.4v1.4h-1.4zM87.5 143.8h1.4v1.4h-1.4zM93.0 134.3h1.4v1.4h-1.4zM110.3 139.7h1.4v1.4h-1.4zM99.3 129.8h1.4v1.4h-1.4zM87.4 140.1h1.4v1.4h-1.4zM111.2 139.6h1.4v1.4h-1.4zM109.0 135.2h1.4v1.4h-1.4zM98.6 134.1h1.4v1.4h-1.4zM110.6 148.1h1.4v1.4h-1.4zM95.5 134.6h1.4v1.4h-1.4zM85.5 145.3h1.4v1.4h-1.4zM87.0 147.8h1.4v1.4h-1.4zM85.7 146.8h1.4v1.4h-1.4zM89.2 156.6h1.4v1.4h-1.4zM86.4 146.7h1.4v1.4h-1.4zM106.9 135.5h1.4v1.4h-1.4zM108.2 153.5h1.4v1.4h-1.4zM110.9 148.8h1.4v1.4h-1.4zM103.0 132.4h1.4v1.4h-1.4zM99.8 157.2h1.4v1.4h-1.4zM103.6 133.3h1.4v1.4h-1.4zM90.7 157.3h1.4v1.4h-1.4zM90.3 139.7h1.4v1.4h-1.4zM89.1 141.1h1.4v1.4h-1.4zM101.7 156.9h1.4v1.4h-1.4zM110.6 146.9h1.4v1.4h-1.4zM110.3 150.3h1.4v1.4h-1.4zM90.7 158.1h1.4v1.4h-1.4zM109.8 153.2h1.4v1.4h-1.4zM111.1 147.8h1.4v1.4h-1.4zM91.0 159.7h1.4v1.4h-1.4zM109.8 135.5h1.4v1.4h-1.4zM110.4 139.2h1.4v1.4h-1.4zM89.3 140.9h1.4v1.4h-1.4zM95.7 160.0h1.4v1.4h-1.4zM87.1 141.6h1.4v1.4h-1.4zM96.3 134.9h1.4v1.4h-1.4zM97.2 158.1h1.4v1.4h-1.4zM102.8 157.1h1.4v1.4h-1.4zM107.5 135.3h1.4v1.4h-1.4zM108.5 135.9h1.4v1.4h-1.4zM85.2 149.9h1.4v1.4h-1.4zM103.5 156.3h1.4v1.4h-1.4zM112.4 147.7h1.4v1.4h-1.4zM112.1 148.4h1.4v1.4h-1.4zM87.0 144.3h1.4v1.4h-1.4zM87.5 141.5h1.4v1.4h-1.4zM94.1 135.5h1.4v1.4h-1.4zM107.1 133.9h1.4v1.4h-1.4zM87.5 152.6h1.4v1.4h-1.4zM87.2 156.0h1.4v1.4h-1.4zM87.7 143.7h1.4v1.4h-1.4zM95.0 134.8h1.4v1.4h-1.4zM107.6 135.7h1.4v1.4h-1.4zM88.9 140.5h1.4v1.4h-1.4zM106.0 133.8h1.4v1.4h-1.4zM111.3 144.3h1.4v1.4h-1.4zM88.1 151.8h1.4v1.4h-1.4zM99.7 157.8h1.4v1.4h-1.4zM101.8 133.7h1.4v1.4h-1.4zM111.1 139.7h1.4v1.4h-1.4zM96.0 133.6h1.4v1.4h-1.4zM91.7 157.8h1.4v1.4h-1.4zM112.6 143.7h1.4v1.4h-1.4zM87.1 149.2h1.4v1.4h-1.4zM94.4 157.3h1.4v1.4h-1.4zM88.8 155.4h1.4v1.4h-1.4zM105.7 134.1h1.4v1.4h-1.4zM41.0 137.7h1.4v1.4h-1.4zM37.3 149.3h1.4v1.4h-1.4zM44.8 143.5h1.4v1.4h-1.4zM35.8 190.5h1.4v1.4h-1.4zM49.2 197.7h1.4v1.4h-1.4zM107.7 195.7h1.4v1.4h-1.4zM101.9 220.3h1.4v1.4h-1.4zM186.0 61.5h1.4v1.4h-1.4zM182.3 65.3h1.4v1.4h-1.4zM175.3 69.3h1.4v1.4h-1.4zM177.3 71.3h1.4v1.4h-1.4z" fill="#bebebe"/><path d="M98.8 137.3 L100.5 135.6 L102.2 134.0 L104.0 132.3 L105.7 130.6 L107.4 129.0 L109.1 127.3 L110.9 125.6 L112.6 124.0 L114.3 122.3 L116.1 120.6 L117.8 119.0 L119.5 117.3 L121.2 115.7 L123.0 114.0 L124.7 112.3 L126.4 110.7 L128.2 109.0 L129.9 107.3 L131.6 105.7 L133.4 104.0 L133.4 104.0 L131.5 105.5 L129.6 107.0 L127.7 108.5 L125.8 110.0 L123.9 111.5 L122.0 113.0 L120.1 114.4 L118.2 115.9 L116.3 117.4 L114.4 118.9 L112.4 120.4 L110.5 121.9 L108.6 123.4 L106.7 124.9 L104.8 126.4 L102.9 127.9 L101.0 129.4 L99.1 130.8 L97.2 132.3 L95.3 133.8Z" fill="#ff0000"/><path d="M114.9 114.3h1.4v1.4h-1.4zM109.1 125.9h1.4v1.4h-1.4zM138.9 97.3h1.4v1.4h-1.4zM122.8 108.1h1.4v1.4h-1.4zM100.2 134.5h1.4v1.4h-1.4zM113.2 121.3h1.4v1.4h-1.4zM100.4 131.7h1.4v1.4h-1.4zM125.3 108.0h1.4v1.4h-1.4zM114.2 119.8h1.4v1.4h-1.4zM111.5 121.4h1.4v1.4h-1.4zM123.3 109.3h1.4v1.4h-1.4zM102.0 128.4h1.4v1.4h-1.4zM138.9 96.2h1.4v1.4h-1.4zM116.4 112.0h1.4v1.4h-1.4zM104.9 128.1h1.4v1.4h-1.4zM97.2 133.4h1.4v1.4h-1.4zM111.7 122.0h1.4v1.4h-1.4zM137.6 94.2h1.4v1.4h-1.4zM108.5 122.3h1.4v1.4h-1.4zM123.3 106.7h1.4v1.4h-1.4zM110.3 123.9h1.4v1.4h-1.4zM105.7 124.3h1.4v1.4h-1.4zM97.1 133.7h1.4v1.4h-1.4zM114.8 119.1h1.4v1.4h-1.4zM117.0 107.2h1.4v1.4h-1.4zM108.1 122.9h1.4v1.4h-1.4zM152.5 77.2h1.4v1.4h-1.4zM112.0 122.8h1.4v1.4h-1.4zM124.8 107.1h1.4v1.4h-1.4zM114.6 118.3h1.4v1.4h-1.4zM114.6 118.6h1.4v1.4h-1.4zM97.7 135.0h1.4v1.4h-1.4zM129.9 101.5h1.4v1.4h-1.4zM125.3 104.4h1.4v1.4h-1.4zM98.6 134.1h1.4v1.4h-1.4zM97.1 135.0h1.4v1.4h-1.4zM106.8 127.8h1.4v1.4h-1.4zM97.5 133.3h1.4v1.4h-1.4zM98.3 127.2h1.4v1.4h-1.4zM123.1 107.8h1.4v1.4h-1.4zM102.6 126.9h1.4v1.4h-1.4zM120.2 110.5h1.4v1.4h-1.4zM116.0 109.1h1.4v1.4h-1.4zM100.0 132.0h1.4v1.4h-1.4zM99.2 129.7h1.4v1.4h-1.4zM119.6 112.4h1.4v1.4h-1.4zM123.4 105.5h1.4v1.4h-1.4zM120.8 110.0h1.4v1.4h-1.4zM99.4 134.7h1.4v1.4h-1.4zM101.2 132.2h1.4v1.4h-1.4zM110.8 122.7h1.4v1.4h-1.4zM127.0 105.7h1.4v1.4h-1.4zM101.1 131.5h1.4v1.4h-1.4zM104.4 129.7h1.4v1.4h-1.4zM109.9 121.0h1.4v1.4h-1.4zM111.6 120.6h1.4v1.4h-1.4zM110.6 113.4h1.4v1.4h-1.4zM101.8 130.1h1.4v1.4h-1.4zM103.6 130.2h1.4v1.4h-1.4zM99.8 133.3h1.4v1.4h-1.4zM104.4 122.4h1.4v1.4h-1.4zM117.6 113.5h1.4v1.4h-1.4zM126.5 103.1h1.4v1.4h-1.4zM96.2 130.9h1.4v1.4h-1.4zM96.4 134.9h1.4v1.4h-1.4zM113.5 120.5h1.4v1.4h-1.4zM107.1 120.9h1.4v1.4h-1.4zM122.4 105.4h1.4v1.4h-1.4zM117.5 116.2h1.4v1.4h-1.4zM108.1 122.4h1.4v1.4h-1.4zM98.1 132.9h1.4v1.4h-1.4zM97.9 133.4h1.4v1.4h-1.4zM123.1 111.9h1.4v1.4h-1.4zM148.6 87.7h1.4v1.4h-1.4zM120.8 110.6h1.4v1.4h-1.4zM115.8 118.0h1.4v1.4h-1.4zM120.9 113.8h1.4v1.4h-1.4zM129.4 105.2h1.4v1.4h-1.4zM104.2 124.3h1.4v1.4h-1.4zM104.9 128.6h1.4v1.4h-1.4zM118.2 112.2h1.4v1.4h-1.4zM118.7 115.5h1.4v1.4h-1.4zM101.0 131.4h1.4v1.4h-1.4zM107.6 126.2h1.4v1.4h-1.4zM100.7 130.3h1.4v1.4h-1.4zM113.8 117.7h1.4v1.4h-1.4zM104.9 127.7h1.4v1.4h-1.4zM122.6 109.1h1.4v1.4h-1.4zM95.2 133.3h1.4v1.4h-1.4zM125.1 107.3h1.4v1.4h-1.4zM116.9 118.3h1.4v1.4h-1.4zM126.4 100.4h1.4v1.4h-1.4zM132.2 99.3h1.4v1.4h-1.4zM115.2 117.8h1.4v1.4h-1.4zM106.9 124.3h1.4v1.4h-1.4zM121.2 113.6h1.4v1.4h-1.4zM126.0 108.7h1.4v1.4h-1.4zM111.1 121.4h1.4v1.4h-1.4zM97.5 134.1h1.4v1.4h-1.4zM105.4 129.4h1.4v1.4h-1.4zM99.5 134.5h1.4v1.4h-1.4zM115.4 111.4h1.4v1.4h-1.4zM125.5 104.5h1.4v1.4h-1.4zM125.9 106.7h1.4v1.4h-1.4zM113.9 120.8h1.4v1.4h-1.4zM131.1 100.5h1.4v1.4h-1.4zM98.5 136.1h1.4v1.4h-1.4zM109.2 114.0h1.4v1.4h-1.4zM98.0 131.0h1.4v1.4h-1.4zM96.5 134.1h1.4v1.4h-1.4zM125.6 106.2h1.4v1.4h-1.4zM111.9 121.7h1.4v1.4h-1.4zM131.6 102.8h1.4v1.4h-1.4zM98.9 135.3h1.4v1.4h-1.4zM125.9 107.4h1.4v1.4h-1.4zM100.8 133.0h1.4v1.4h-1.4zM102.2 127.0h1.4v1.4h-1.4zM109.3 122.8h1.4v1.4h-1.4zM107.4 127.0h1.4v1.4h-1.4zM106.3 127.9h1.4v1.4h-1.4zM120.3 113.2h1.4v1.4h-1.4zM117.1 114.0h1.4v1.4h-1.4zM123.1 111.8h1.4v1.4h-1.4zM105.6 120.8h1.4v1.4h-1.4zM122.3 113.0h1.4v1.4h-1.4zM108.1 125.5h1.4v1.4h-1.4zM123.1 111.4h1.4v1.4h-1.4zM112.7 121.2h1.4v1.4h-1.4zM116.5 116.1h1.4v1.4h-1.4zM104.0 130.3h1.4v1.4h-1.4zM105.8 117.5h1.4v1.4h-1.4zM101.7 125.7h1.4v1.4h-1.4zM105.1 129.0h1.4v1.4h-1.4zM98.5 132.3h1.4v1.4h-1.4zM103.0 130.7h1.4v1.4h-1.4zM109.5 124.2h1.4v1.4h-1.4zM125.9 108.8h1.4v1.4h-1.4zM137.1 97.6h1.4v1.4h-1.4zM98.7 126.6h1.4v1.4h-1.4zM97.8 131.6h1.4v1.4h-1.4zM103.2 128.6h1.4v1.4h-1.4zM99.8 132.5h1.4v1.4h-1.4zM130.0 105.2h1.4v1.4h-1.4zM115.7 112.7h1.4v1.4h-1.4zM125.1 109.4h1.4v1.4h-1.4zM101.3 130.2h1.4v1.4h-1.4zM101.6 133.1h1.4v1.4h-1.4zM99.4 134.1h1.4v1.4h-1.4zM97.4 134.3h1.4v1.4h-1.4zM117.4 114.0h1.4v1.4h-1.4zM121.0 113.3h1.4v1.4h-1.4zM142.0 93.6h1.4v1.4h-1.4zM114.7 119.0h1.4v1.4h-1.4zM99.7 132.8h1.4v1.4h-1.4zM94.5 131.7h1.4v1.4h-1.4zM106.4 119.9h1.4v1.4h-1.4zM101.9 130.1h1.4v1.4h-1.4zM101.2 127.8h1.4v1.4h-1.4zM125.5 105.2h1.4v1.4h-1.4zM104.4 122.5h1.4v1.4h-1.4zM127.4 106.1h1.4v1.4h-1.4zM124.1 106.1h1.4v1.4h-1.4zM112.5 115.9h1.4v1.4h-1.4zM116.2 117.2h1.4v1.4h-1.4zM123.0 109.3h1.4v1.4h-1.4zM135.3 98.9h1.4v1.4h-1.4zM127.5 105.4h1.4v1.4h-1.4zM97.4 135.5h1.4v1.4h-1.4zM96.5 131.3h1.4v1.4h-1.4zM109.0 123.0h1.4v1.4h-1.4zM100.9 128.0h1.4v1.4h-1.4zM97.5 135.3h1.4v1.4h-1.4zM126.5 108.5h1.4v1.4h-1.4zM111.6 118.5h1.4v1.4h-1.4zM122.3 106.9h1.4v1.4h-1.4zM107.8 125.9h1.4v1.4h-1.4zM122.7 112.2h1.4v1.4h-1.4zM131.4 101.5h1.4v1.4h-1.4zM107.2 125.3h1.4v1.4h-1.4zM98.6 134.7h1.4v1.4h-1.4zM121.2 114.1h1.4v1.4h-1.4zM116.3 115.1h1.4v1.4h-1.4zM99.4 132.8h1.4v1.4h-1.4zM116.5 118.4h1.4v1.4h-1.4zM129.9 100.7h1.4v1.4h-1.4zM111.5 121.7h1.4v1.4h-1.4zM98.9 133.8h1.4v1.4h-1.4zM115.3 111.9h1.4v1.4h-1.4zM114.8 120.1h1.4v1.4h-1.4zM122.4 106.3h1.4v1.4h-1.4zM112.8 116.7h1.4v1.4h-1.4zM100.2 134.3h1.4v1.4h-1.4zM100.9 127.9h1.4v1.4h-1.4zM117.7 117.1h1.4v1.4h-1.4zM129.5 99.4h1.4v1.4h-1.4zM102.0 132.7h1.4v1.4h-1.4zM99.9 129.5h1.4v1.4h-1.4zM100.4 131.2h1.4v1.4h-1.4zM106.5 127.4h1.4v1.4h-1.4zM101.2 126.6h1.4v1.4h-1.4zM107.7 124.9h1.4v1.4h-1.4zM107.1 127.4h1.4v1.4h-1.4zM126.0 104.3h1.4v1.4h-1.4zM101.4 133.3h1.4v1.4h-1.4zM106.2 128.2h1.4v1.4h-1.4zM121.8 103.4h1.4v1.4h-1.4zM131.4 103.1h1.4v1.4h-1.4zM117.1 115.0h1.4v1.4h-1.4zM97.4 131.0h1.4v1.4h-1.4zM97.6 133.8h1.4v1.4h-1.4zM120.0 112.3h1.4v1.4h-1.4zM103.7 124.7h1.4v1.4h-1.4zM101.7 130.8h1.4v1.4h-1.4zM99.4 131.6h1.4v1.4h-1.4zM110.5 117.5h1.4v1.4h-1.4zM100.0 128.4h1.4v1.4h-1.4zM117.1 109.6h1.4v1.4h-1.4zM101.0 129.4h1.4v1.4h-1.4zM100.1 131.9h1.4v1.4h-1.4zM97.9 134.7h1.4v1.4h-1.4zM109.3 124.1h1.4v1.4h-1.4zM126.3 101.2h1.4v1.4h-1.4zM104.6 129.6h1.4v1.4h-1.4zM109.0 124.7h1.4v1.4h-1.4zM100.8 128.2h1.4v1.4h-1.4zM109.9 116.7h1.4v1.4h-1.4zM107.3 126.7h1.4v1.4h-1.4zM95.5 133.4h1.4v1.4h-1.4zM98.0 136.0h1.4v1.4h-1.4zM96.7 133.9h1.4v1.4h-1.4zM128.4 105.2h1.4v1.4h-1.4zM114.4 114.0h1.4v1.4h-1.4zM116.1 118.5h1.4v1.4h-1.4zM101.2 128.2h1.4v1.4h-1.4zM110.7 119.0h1.4v1.4h-1.4zM113.1 119.2h1.4v1.4h-1.4zM107.5 124.3h1.4v1.4h-1.4zM128.9 104.7h1.4v1.4h-1.4zM96.8 131.7h1.4v1.4h-1.4zM125.0 110.1h1.4v1.4h-1.4zM100.5 133.5h1.4v1.4h-1.4zM97.9 136.4h1.4v1.4h-1.4zM99.9 133.9h1.4v1.4h-1.4zM98.4 132.8h1.4v1.4h-1.4zM97.6 136.1h1.4v1.4h-1.4zM111.2 123.3h1.4v1.4h-1.4zM108.0 123.9h1.4v1.4h-1.4zM97.9 134.9h1.4v1.4h-1.4zM99.6 128.1h1.4v1.4h-1.4zM125.2 102.5h1.4v1.4h-1.4zM122.4 111.9h1.4v1.4h-1.4zM126.0 109.7h1.4v1.4h-1.4zM110.3 117.2h1.4v1.4h-1.4zM129.2 103.5h1.4v1.4h-1.4zM116.8 114.7h1.4v1.4h-1.4zM97.5 131.9h1.4v1.4h-1.4zM93.9 130.0h1.4v1.4h-1.4zM98.5 131.7h1.4v1.4h-1.4zM108.3 121.3h1.4v1.4h-1.4zM125.4 105.7h1.4v1.4h-1.4zM106.9 125.0h1.4v1.4h-1.4zM99.0 135.1h1.4v1.4h-1.4zM122.1 105.5h1.4v1.4h-1.4zM121.5 108.3h1.4v1.4h-1.4zM112.4 120.4h1.4v1.4h-1.4zM110.7 119.7h1.4v1.4h-1.4zM98.6 133.5h1.4v1.4h-1.4zM110.2 123.0h1.4v1.4h-1.4zM109.4 125.3h1.4v1.4h-1.4zM129.6 105.8h1.4v1.4h-1.4zM98.7 135.2h1.4v1.4h-1.4zM95.5 132.7h1.4v1.4h-1.4zM97.2 134.8h1.4v1.4h-1.4zM107.9 123.3h1.4v1.4h-1.4zM119.7 109.8h1.4v1.4h-1.4zM105.1 126.6h1.4v1.4h-1.4zM110.6 119.9h1.4v1.4h-1.4zM116.2 115.5h1.4v1.4h-1.4zM99.5 134.7h1.4v1.4h-1.4zM127.7 102.8h1.4v1.4h-1.4zM121.9 109.9h1.4v1.4h-1.4zM96.9 132.1h1.4v1.4h-1.4zM109.3 116.0h1.4v1.4h-1.4zM120.7 114.4h1.4v1.4h-1.4zM112.8 117.8h1.4v1.4h-1.4zM105.7 122.2h1.4v1.4h-1.4zM117.8 116.3h1.4v1.4h-1.4zM97.0 131.9h1.4v1.4h-1.4zM99.1 129.4h1.4v1.4h-1.4zM112.7 120.8h1.4v1.4h-1.4zM123.2 108.2h1.4v1.4h-1.4zM114.3 111.9h1.4v1.4h-1.4zM98.5 133.2h1.4v1.4h-1.4zM118.2 116.0h1.4v1.4h-1.4zM108.2 124.4h1.4v1.4h-1.4zM96.9 129.7h1.4v1.4h-1.4zM125.8 106.1h1.4v1.4h-1.4zM131.5 99.6h1.4v1.4h-1.4zM135.0 93.5h1.4v1.4h-1.4zM116.2 114.9h1.4v1.4h-1.4zM107.9 126.4h1.4v1.4h-1.4zM108.1 120.9h1.4v1.4h-1.4zM105.4 122.6h1.4v1.4h-1.4zM119.6 115.1h1.4v1.4h-1.4zM115.7 116.4h1.4v1.4h-1.4zM103.7 130.8h1.4v1.4h-1.4zM95.3 130.7h1.4v1.4h-1.4zM97.3 134.1h1.4v1.4h-1.4zM111.7 118.7h1.4v1.4h-1.4zM123.0 111.9h1.4v1.4h-1.4zM126.1 107.4h1.4v1.4h-1.4zM140.3 90.5h1.4v1.4h-1.4zM127.4 98.4h1.4v1.4h-1.4zM101.0 129.1h1.4v1.4h-1.4zM99.6 134.9h1.4v1.4h-1.4z" fill="#ff0000"/><path d="M111.0 145.1 L112.8 143.1 L114.6 141.1 L116.4 139.1 L118.2 137.2 L120.0 135.2 L121.8 133.2 L123.6 131.3 L125.4 129.3 L127.2 127.3 L129.1 125.3 L130.9 123.4 L132.7 121.4 L134.5 119.4 L136.3 117.4 L138.1 115.5 L139.9 113.5 L141.7 111.5 L143.5 109.5 L145.3 107.6 L147.1 105.6 L147.1 105.6 L145.5 107.8 L143.9 110.0 L142.3 112.2 L140.8 114.4 L139.2 116.6 L137.6 118.8 L136.1 121.0 L134.5 123.2 L132.9 125.4 L131.3 127.6 L129.8 129.8 L128.2 132.0 L126.6 134.2 L125.0 136.5 L123.5 138.7 L121.9 140.9 L120.3 143.1 L118.7 145.3 L117.2 147.5 L115.6 149.7Z" fill="#0000ff"/><path d="M117.6 139.6h1.4v1.4h-1.4zM146.9 105.7h1.4v1.4h-1.4zM113.2 145.2h1.4v1.4h-1.4zM143.8 111.7h1.4v1.4h-1.4zM140.8 114.9h1.4v1.4h-1.4zM126.1 129.3h1.4v1.4h-1.4zM113.0 146.1h1.4v1.4h-1.4zM118.7 146.0h1.4v1.4h-1.4zM138.1 115.4h1.4v1.4h-1.4zM138.5 116.3h1.4v1.4h-1.4zM152.0 118.3h1.4v1.4h-1.4zM120.0 137.6h1.4v1.4h-1.4zM152.7 107.2h1.4v1.4h-1.4zM126.6 131.0h1.4v1.4h-1.4zM139.6 122.2h1.4v1.4h-1.4zM117.6 140.0h1.4v1.4h-1.4zM128.8 127.6h1.4v1.4h-1.4zM123.3 136.1h1.4v1.4h-1.4zM131.4 132.1h1.4v1.4h-1.4zM139.7 115.3h1.4v1.4h-1.4zM114.6 145.6h1.4v1.4h-1.4zM119.7 146.8h1.4v1.4h-1.4zM121.0 139.1h1.4v1.4h-1.4zM126.3 137.6h1.4v1.4h-1.4zM136.0 124.9h1.4v1.4h-1.4zM133.3 119.4h1.4v1.4h-1.4zM114.3 144.5h1.4v1.4h-1.4zM128.7 138.6h1.4v1.4h-1.4zM120.6 139.8h1.4v1.4h-1.4zM146.0 106.3h1.4v1.4h-1.4zM131.1 126.5h1.4v1.4h-1.4zM119.0 138.0h1.4v1.4h-1.4zM159.6 95.4h1.4v1.4h-1.4zM118.8 140.3h1.4v1.4h-1.4zM123.4 133.5h1.4v1.4h-1.4zM117.9 137.7h1.4v1.4h-1.4zM128.4 126.8h1.4v1.4h-1.4zM136.1 119.6h1.4v1.4h-1.4zM119.4 142.2h1.4v1.4h-1.4zM167.5 89.1h1.4v1.4h-1.4zM145.3 107.3h1.4v1.4h-1.4zM111.1 144.1h1.4v1.4h-1.4zM120.8 143.1h1.4v1.4h-1.4zM116.7 140.2h1.4v1.4h-1.4zM112.8 146.8h1.4v1.4h-1.4zM155.1 100.6h1.4v1.4h-1.4zM121.7 144.0h1.4v1.4h-1.4zM142.7 120.9h1.4v1.4h-1.4zM145.3 108.9h1.4v1.4h-1.4zM115.3 148.5h1.4v1.4h-1.4zM133.5 124.7h1.4v1.4h-1.4zM118.4 145.0h1.4v1.4h-1.4zM117.8 140.9h1.4v1.4h-1.4zM113.4 146.9h1.4v1.4h-1.4zM134.4 130.3h1.4v1.4h-1.4zM131.3 127.7h1.4v1.4h-1.4zM129.3 128.2h1.4v1.4h-1.4zM114.6 144.1h1.4v1.4h-1.4zM118.5 143.1h1.4v1.4h-1.4zM119.5 136.0h1.4v1.4h-1.4zM120.4 138.7h1.4v1.4h-1.4zM117.8 143.8h1.4v1.4h-1.4zM126.1 129.0h1.4v1.4h-1.4zM112.2 145.7h1.4v1.4h-1.4zM127.9 128.6h1.4v1.4h-1.4zM111.6 143.8h1.4v1.4h-1.4zM137.5 118.8h1.4v1.4h-1.4zM131.2 124.3h1.4v1.4h-1.4zM125.4 137.1h1.4v1.4h-1.4zM133.6 121.2h1.4v1.4h-1.4zM117.2 138.2h1.4v1.4h-1.4zM147.5 109.8h1.4v1.4h-1.4zM116.8 140.8h1.4v1.4h-1.4zM130.7 125.1h1.4v1.4h-1.4zM113.1 143.3h1.4v1.4h-1.4zM110.8 144.6h1.4v1.4h-1.4zM133.4 124.6h1.4v1.4h-1.4zM122.1 138.3h1.4v1.4h-1.4zM134.1 131.2h1.4v1.4h-1.4zM130.9 127.7h1.4v1.4h-1.4zM170.2 81.0h1.4v1.4h-1.4zM113.9 143.9h1.4v1.4h-1.4zM145.0 108.0h1.4v1.4h-1.4zM126.6 130.4h1.4v1.4h-1.4zM157.6 98.2h1.4v1.4h-1.4zM117.7 137.0h1.4v1.4h-1.4zM128.5 125.2h1.4v1.4h-1.4zM126.5 127.0h1.4v1.4h-1.4zM124.2 132.1h1.4v1.4h-1.4zM127.5 129.3h1.4v1.4h-1.4zM170.8 80.5h1.4v1.4h-1.4zM111.6 143.0h1.4v1.4h-1.4zM139.7 116.0h1.4v1.4h-1.4zM137.8 118.3h1.4v1.4h-1.4zM138.6 121.4h1.4v1.4h-1.4zM132.5 124.3h1.4v1.4h-1.4zM116.9 141.6h1.4v1.4h-1.4zM120.0 137.9h1.4v1.4h-1.4zM132.5 123.6h1.4v1.4h-1.4zM120.9 138.4h1.4v1.4h-1.4zM122.2 133.6h1.4v1.4h-1.4zM115.6 140.8h1.4v1.4h-1.4zM127.5 130.5h1.4v1.4h-1.4zM138.1 115.8h1.4v1.4h-1.4zM144.3 111.9h1.4v1.4h-1.4zM145.3 111.6h1.4v1.4h-1.4zM118.6 137.6h1.4v1.4h-1.4zM111.9 143.0h1.4v1.4h-1.4zM164.8 85.1h1.4v1.4h-1.4zM133.0 121.4h1.4v1.4h-1.4zM112.6 145.3h1.4v1.4h-1.4zM133.7 119.7h1.4v1.4h-1.4zM146.9 107.3h1.4v1.4h-1.4zM139.6 113.2h1.4v1.4h-1.4zM127.9 126.9h1.4v1.4h-1.4zM131.8 122.1h1.4v1.4h-1.4zM132.4 124.8h1.4v1.4h-1.4zM126.8 139.8h1.4v1.4h-1.4zM116.6 142.0h1.4v1.4h-1.4zM139.7 129.7h1.4v1.4h-1.4zM127.1 131.1h1.4v1.4h-1.4zM120.3 141.7h1.4v1.4h-1.4zM124.2 144.6h1.4v1.4h-1.4zM116.0 138.8h1.4v1.4h-1.4zM138.8 115.4h1.4v1.4h-1.4zM124.1 135.1h1.4v1.4h-1.4zM155.8 95.0h1.4v1.4h-1.4zM133.9 122.5h1.4v1.4h-1.4zM118.7 139.4h1.4v1.4h-1.4zM134.4 120.4h1.4v1.4h-1.4zM130.3 137.9h1.4v1.4h-1.4zM131.4 122.9h1.4v1.4h-1.4zM152.8 105.9h1.4v1.4h-1.4zM117.2 144.4h1.4v1.4h-1.4zM129.5 124.9h1.4v1.4h-1.4zM114.0 145.5h1.4v1.4h-1.4zM144.7 111.8h1.4v1.4h-1.4zM140.7 114.7h1.4v1.4h-1.4zM126.2 127.0h1.4v1.4h-1.4zM117.8 137.9h1.4v1.4h-1.4zM125.6 134.3h1.4v1.4h-1.4zM155.7 95.4h1.4v1.4h-1.4zM129.0 125.5h1.4v1.4h-1.4zM123.9 134.4h1.4v1.4h-1.4zM123.1 136.4h1.4v1.4h-1.4zM144.3 109.6h1.4v1.4h-1.4zM143.5 112.0h1.4v1.4h-1.4zM112.1 143.3h1.4v1.4h-1.4zM117.5 140.0h1.4v1.4h-1.4zM128.6 132.8h1.4v1.4h-1.4zM154.2 98.8h1.4v1.4h-1.4zM134.7 117.7h1.4v1.4h-1.4zM116.7 147.9h1.4v1.4h-1.4zM145.1 107.9h1.4v1.4h-1.4zM120.0 139.3h1.4v1.4h-1.4zM155.5 96.5h1.4v1.4h-1.4zM125.0 128.6h1.4v1.4h-1.4zM153.4 99.7h1.4v1.4h-1.4zM147.3 114.4h1.4v1.4h-1.4zM140.2 117.9h1.4v1.4h-1.4zM149.7 108.7h1.4v1.4h-1.4zM120.1 134.5h1.4v1.4h-1.4zM145.4 106.7h1.4v1.4h-1.4zM142.3 113.4h1.4v1.4h-1.4zM141.3 112.2h1.4v1.4h-1.4zM115.8 141.7h1.4v1.4h-1.4zM130.5 124.1h1.4v1.4h-1.4zM139.6 115.5h1.4v1.4h-1.4zM118.3 140.1h1.4v1.4h-1.4zM137.8 126.4h1.4v1.4h-1.4zM151.1 115.4h1.4v1.4h-1.4zM126.7 133.7h1.4v1.4h-1.4zM141.6 114.5h1.4v1.4h-1.4zM136.3 121.3h1.4v1.4h-1.4zM119.9 139.6h1.4v1.4h-1.4zM121.9 134.2h1.4v1.4h-1.4zM147.9 108.2h1.4v1.4h-1.4zM136.0 128.4h1.4v1.4h-1.4zM120.6 140.3h1.4v1.4h-1.4zM131.9 122.4h1.4v1.4h-1.4zM142.5 114.0h1.4v1.4h-1.4zM131.9 127.4h1.4v1.4h-1.4zM123.4 133.2h1.4v1.4h-1.4zM143.8 109.2h1.4v1.4h-1.4zM120.6 136.0h1.4v1.4h-1.4zM124.4 136.0h1.4v1.4h-1.4zM131.6 127.5h1.4v1.4h-1.4zM121.7 135.1h1.4v1.4h-1.4zM139.9 112.2h1.4v1.4h-1.4zM125.5 130.0h1.4v1.4h-1.4zM115.7 144.2h1.4v1.4h-1.4zM124.6 131.6h1.4v1.4h-1.4zM115.1 144.5h1.4v1.4h-1.4zM135.5 117.6h1.4v1.4h-1.4zM148.0 106.7h1.4v1.4h-1.4zM125.1 130.0h1.4v1.4h-1.4zM116.3 142.9h1.4v1.4h-1.4zM177.9 71.8h1.4v1.4h-1.4zM141.1 114.9h1.4v1.4h-1.4zM113.9 144.3h1.4v1.4h-1.4zM138.1 114.6h1.4v1.4h-1.4zM122.1 137.2h1.4v1.4h-1.4zM117.9 138.2h1.4v1.4h-1.4zM119.7 140.6h1.4v1.4h-1.4zM118.7 143.8h1.4v1.4h-1.4zM138.2 113.9h1.4v1.4h-1.4zM127.1 142.0h1.4v1.4h-1.4zM115.5 141.8h1.4v1.4h-1.4zM119.5 136.6h1.4v1.4h-1.4zM140.0 115.2h1.4v1.4h-1.4zM136.0 121.7h1.4v1.4h-1.4zM125.1 130.5h1.4v1.4h-1.4zM136.0 117.0h1.4v1.4h-1.4zM116.7 142.9h1.4v1.4h-1.4zM128.5 132.6h1.4v1.4h-1.4zM147.1 110.8h1.4v1.4h-1.4zM121.8 140.2h1.4v1.4h-1.4zM115.0 148.4h1.4v1.4h-1.4zM126.0 127.4h1.4v1.4h-1.4zM143.6 111.3h1.4v1.4h-1.4zM134.1 120.4h1.4v1.4h-1.4zM149.3 101.8h1.4v1.4h-1.4zM142.8 117.9h1.4v1.4h-1.4zM124.9 132.6h1.4v1.4h-1.4zM129.7 129.1h1.4v1.4h-1.4zM125.9 136.3h1.4v1.4h-1.4zM131.4 124.4h1.4v1.4h-1.4zM140.0 119.8h1.4v1.4h-1.4zM119.0 151.3h1.4v1.4h-1.4zM113.6 146.0h1.4v1.4h-1.4zM127.8 127.0h1.4v1.4h-1.4zM128.0 132.3h1.4v1.4h-1.4zM137.5 114.8h1.4v1.4h-1.4zM117.7 145.7h1.4v1.4h-1.4zM135.7 120.2h1.4v1.4h-1.4zM134.1 120.1h1.4v1.4h-1.4zM120.5 136.9h1.4v1.4h-1.4zM111.2 144.8h1.4v1.4h-1.4zM127.7 131.1h1.4v1.4h-1.4zM131.8 121.0h1.4v1.4h-1.4zM144.2 108.3h1.4v1.4h-1.4zM139.5 113.5h1.4v1.4h-1.4zM147.1 109.5h1.4v1.4h-1.4zM152.6 105.7h1.4v1.4h-1.4zM119.3 137.1h1.4v1.4h-1.4zM125.4 136.6h1.4v1.4h-1.4zM134.0 120.7h1.4v1.4h-1.4zM143.8 108.1h1.4v1.4h-1.4zM124.2 131.7h1.4v1.4h-1.4zM129.1 124.7h1.4v1.4h-1.4zM118.2 136.2h1.4v1.4h-1.4zM135.5 118.9h1.4v1.4h-1.4zM131.1 132.4h1.4v1.4h-1.4zM133.1 122.2h1.4v1.4h-1.4zM134.9 126.2h1.4v1.4h-1.4zM183.1 74.6h1.4v1.4h-1.4zM144.7 111.4h1.4v1.4h-1.4zM119.1 142.2h1.4v1.4h-1.4zM145.3 112.6h1.4v1.4h-1.4zM133.1 126.0h1.4v1.4h-1.4zM137.5 121.4h1.4v1.4h-1.4zM116.4 140.0h1.4v1.4h-1.4zM141.0 117.8h1.4v1.4h-1.4zM129.6 128.0h1.4v1.4h-1.4zM138.8 116.4h1.4v1.4h-1.4zM116.0 143.0h1.4v1.4h-1.4zM141.1 111.0h1.4v1.4h-1.4zM143.2 110.2h1.4v1.4h-1.4zM141.4 117.6h1.4v1.4h-1.4zM169.0 83.6h1.4v1.4h-1.4zM128.2 134.0h1.4v1.4h-1.4zM112.6 145.8h1.4v1.4h-1.4zM156.3 103.4h1.4v1.4h-1.4zM139.2 125.6h1.4v1.4h-1.4zM150.8 101.8h1.4v1.4h-1.4zM121.8 141.0h1.4v1.4h-1.4zM119.7 139.5h1.4v1.4h-1.4zM145.3 110.0h1.4v1.4h-1.4zM137.3 118.5h1.4v1.4h-1.4zM132.0 121.0h1.4v1.4h-1.4zM126.4 128.6h1.4v1.4h-1.4zM118.5 141.9h1.4v1.4h-1.4zM144.6 107.0h1.4v1.4h-1.4zM147.0 114.0h1.4v1.4h-1.4zM132.1 122.8h1.4v1.4h-1.4zM140.3 121.0h1.4v1.4h-1.4zM144.9 112.0h1.4v1.4h-1.4zM130.1 127.9h1.4v1.4h-1.4zM122.5 131.2h1.4v1.4h-1.4zM142.4 112.1h1.4v1.4h-1.4zM117.9 138.3h1.4v1.4h-1.4zM117.2 144.6h1.4v1.4h-1.4zM130.9 121.9h1.4v1.4h-1.4zM129.8 127.3h1.4v1.4h-1.4zM123.3 138.1h1.4v1.4h-1.4zM129.9 126.1h1.4v1.4h-1.4zM121.6 135.1h1.4v1.4h-1.4zM132.8 123.7h1.4v1.4h-1.4zM113.3 143.1h1.4v1.4h-1.4zM149.0 111.7h1.4v1.4h-1.4zM131.1 123.6h1.4v1.4h-1.4zM133.7 129.7h1.4v1.4h-1.4zM147.5 111.5h1.4v1.4h-1.4zM141.8 114.0h1.4v1.4h-1.4zM168.4 81.2h1.4v1.4h-1.4zM131.5 124.7h1.4v1.4h-1.4zM134.0 118.7h1.4v1.4h-1.4zM131.1 122.0h1.4v1.4h-1.4zM115.9 139.7h1.4v1.4h-1.4zM123.6 132.6h1.4v1.4h-1.4zM120.7 137.3h1.4v1.4h-1.4zM129.3 126.6h1.4v1.4h-1.4zM110.8 144.0h1.4v1.4h-1.4zM143.4 111.2h1.4v1.4h-1.4zM125.5 128.7h1.4v1.4h-1.4zM121.2 139.4h1.4v1.4h-1.4zM138.1 124.1h1.4v1.4h-1.4zM130.9 130.0h1.4v1.4h-1.4zM113.0 141.8h1.4v1.4h-1.4zM127.9 127.5h1.4v1.4h-1.4zM115.3 144.2h1.4v1.4h-1.4zM135.5 120.4h1.4v1.4h-1.4zM156.6 94.2h1.4v1.4h-1.4zM123.0 131.7h1.4v1.4h-1.4zM124.6 133.9h1.4v1.4h-1.4zM132.8 120.4h1.4v1.4h-1.4zM138.0 114.8h1.4v1.4h-1.4zM131.7 122.7h1.4v1.4h-1.4zM115.6 140.8h1.4v1.4h-1.4zM147.3 110.2h1.4v1.4h-1.4zM125.0 129.5h1.4v1.4h-1.4zM115.7 140.4h1.4v1.4h-1.4zM146.3 108.7h1.4v1.4h-1.4zM125.5 133.1h1.4v1.4h-1.4zM126.2 133.3h1.4v1.4h-1.4zM124.9 133.1h1.4v1.4h-1.4zM111.3 143.6h1.4v1.4h-1.4zM128.4 125.1h1.4v1.4h-1.4zM149.7 109.1h1.4v1.4h-1.4zM130.1 125.5h1.4v1.4h-1.4zM118.2 141.8h1.4v1.4h-1.4zM132.2 123.4h1.4v1.4h-1.4zM145.1 112.4h1.4v1.4h-1.4zM143.1 113.7h1.4v1.4h-1.4zM138.6 123.9h1.4v1.4h-1.4zM141.6 121.5h1.4v1.4h-1.4zM125.8 132.9h1.4v1.4h-1.4zM132.7 126.0h1.4v1.4h-1.4zM146.5 110.6h1.4v1.4h-1.4zM116.0 140.6h1.4v1.4h-1.4zM114.2 142.3h1.4v1.4h-1.4zM129.4 125.3h1.4v1.4h-1.4zM114.1 143.2h1.4v1.4h-1.4zM113.6 143.1h1.4v1.4h-1.4zM145.6 108.0h1.4v1.4h-1.4zM132.3 136.9h1.4v1.4h-1.4zM118.1 143.4h1.4v1.4h-1.4zM131.0 122.4h1.4v1.4h-1.4zM130.3 128.1h1.4v1.4h-1.4zM112.6 142.5h1.4v1.4h-1.4zM121.6 144.0h1.4v1.4h-1.4zM110.4 144.4h1.4v1.4h-1.4zM117.7 140.6h1.4v1.4h-1.4zM122.4 136.3h1.4v1.4h-1.4zM128.2 132.8h1.4v1.4h-1.4zM149.4 103.2h1.4v1.4h-1.4zM124.4 130.6h1.4v1.4h-1.4zM115.1 140.1h1.4v1.4h-1.4zM136.7 118.3h1.4v1.4h-1.4zM118.4 143.7h1.4v1.4h-1.4zM112.2 142.8h1.4v1.4h-1.4zM130.7 126.7h1.4v1.4h-1.4zM147.9 109.9h1.4v1.4h-1.4zM128.6 138.2h1.4v1.4h-1.4zM123.9 139.4h1.4v1.4h-1.4zM117.3 142.4h1.4v1.4h-1.4zM135.3 119.4h1.4v1.4h-1.4zM144.8 112.2h1.4v1.4h-1.4zM135.4 119.5h1.4v1.4h-1.4zM142.1 112.9h1.4v1.4h-1.4zM114.6 141.2h1.4v1.4h-1.4zM141.7 116.7h1.4v1.4h-1.4zM137.1 128.9h1.4v1.4h-1.4zM121.6 141.4h1.4v1.4h-1.4zM129.5 126.0h1.4v1.4h-1.4zM140.3 112.3h1.4v1.4h-1.4zM118.4 138.6h1.4v1.4h-1.4zM131.1 133.3h1.4v1.4h-1.4zM127.4 128.8h1.4v1.4h-1.4zM117.3 138.7h1.4v1.4h-1.4zM140.9 122.1h1.4v1.4h-1.4zM136.4 124.1h1.4v1.4h-1.4zM159.1 97.0h1.4v1.4h-1.4zM139.0 117.3h1.4v1.4h-1.4zM118.7 136.7h1.4v1.4h-1.4zM133.1 120.0h1.4v1.4h-1.4zM138.3 115.3h1.4v1.4h-1.4zM128.6 125.7h1.4v1.4h-1.4zM114.1 140.5h1.4v1.4h-1.4zM138.6 124.4h1.4v1.4h-1.4zM119.0 138.2h1.4v1.4h-1.4zM119.3 135.0h1.4v1.4h-1.4zM131.7 124.2h1.4v1.4h-1.4zM115.4 146.9h1.4v1.4h-1.4zM133.4 124.3h1.4v1.4h-1.4zM138.9 115.6h1.4v1.4h-1.4zM127.0 139.1h1.4v1.4h-1.4zM141.6 115.9h1.4v1.4h-1.4zM131.8 121.7h1.4v1.4h-1.4zM136.7 122.5h1.4v1.4h-1.4zM147.8 109.3h1.4v1.4h-1.4zM140.7 114.0h1.4v1.4h-1.4zM154.7 103.4h1.4v1.4h-1.4zM159.2 99.2h1.4v1.4h-1.4zM171.7 79.8h1.4v1.4h-1.4zM121.0 142.1h1.4v1.4h-1.4zM120.5 144.0h1.4v1.4h-1.4zM118.1 139.0h1.4v1.4h-1.4zM116.3 140.9h1.4v1.4h-1.4zM142.8 109.4h1.4v1.4h-1.4zM111.3 144.9h1.4v1.4h-1.4zM173.7 75.8h1.4v1.4h-1.4zM111.8 142.9h1.4v1.4h-1.4zM130.4 128.4h1.4v1.4h-1.4zM128.6 126.3h1.4v1.4h-1.4zM165.5 85.8h1.4v1.4h-1.4zM119.6 141.3h1.4v1.4h-1.4zM127.5 135.4h1.4v1.4h-1.4zM124.5 130.3h1.4v1.4h-1.4zM123.0 132.6h1.4v1.4h-1.4zM123.1 133.2h1.4v1.4h-1.4zM139.0 120.7h1.4v1.4h-1.4zM113.6 146.2h1.4v1.4h-1.4zM121.6 137.1h1.4v1.4h-1.4zM136.8 124.3h1.4v1.4h-1.4zM137.6 116.5h1.4v1.4h-1.4zM127.5 128.2h1.4v1.4h-1.4zM123.7 130.4h1.4v1.4h-1.4zM125.2 132.5h1.4v1.4h-1.4zM116.5 141.7h1.4v1.4h-1.4zM130.4 124.5h1.4v1.4h-1.4zM120.4 136.0h1.4v1.4h-1.4zM138.3 116.7h1.4v1.4h-1.4zM136.8 116.8h1.4v1.4h-1.4zM112.0 145.8h1.4v1.4h-1.4zM132.2 121.0h1.4v1.4h-1.4zM185.5 78.5h1.4v1.4h-1.4zM168.8 87.3h1.4v1.4h-1.4zM138.3 129.0h1.4v1.4h-1.4zM115.2 141.4h1.4v1.4h-1.4zM118.5 140.4h1.4v1.4h-1.4zM128.1 130.8h1.4v1.4h-1.4zM149.9 102.9h1.4v1.4h-1.4zM131.9 128.8h1.4v1.4h-1.4zM126.6 130.6h1.4v1.4h-1.4zM125.4 135.5h1.4v1.4h-1.4zM131.0 131.3h1.4v1.4h-1.4zM139.0 114.4h1.4v1.4h-1.4zM120.2 140.0h1.4v1.4h-1.4zM121.3 132.4h1.4v1.4h-1.4zM113.8 146.3h1.4v1.4h-1.4zM116.6 146.7h1.4v1.4h-1.4zM132.0 129.5h1.4v1.4h-1.4zM141.2 112.9h1.4v1.4h-1.4zM120.4 136.1h1.4v1.4h-1.4zM121.5 133.3h1.4v1.4h-1.4zM136.7 116.0h1.4v1.4h-1.4zM133.8 120.7h1.4v1.4h-1.4zM141.6 114.8h1.4v1.4h-1.4zM148.6 109.9h1.4v1.4h-1.4zM120.6 136.0h1.4v1.4h-1.4zM115.6 140.2h1.4v1.4h-1.4z" fill="#0000ff"/></g>
<rect x="29.5" y="55.5" width="164.0" height="176.0" fill="none" stroke="#8a8a8a" stroke-width="0.9"/>
<rect x="29.5" y="55.5" width="87.9" height="32.099999999999994" fill="#fff" stroke="#8a8a8a" stroke-width="0.9"/>
<rect x="34.3" y="61.6" width="4.2" height="4.2" fill="#bebebe" stroke="#777" stroke-width="0.4"/>
<text x="44" y="65.7" font-size="5.9" fill="#000" stroke="#000" stroke-width="0.22" textLength="70.3" lengthAdjust="spacingAndGlyphs">Non-differential expression</text>
<rect x="34.3" y="70.0" width="4.2" height="4.2" fill="#ff0000" stroke="#777" stroke-width="0.4"/>
<text x="44" y="74.1" font-size="5.9" fill="#000" stroke="#000" stroke-width="0.22" textLength="35.8" lengthAdjust="spacingAndGlyphs">Up-regulation</text>
<rect x="34.3" y="78.4" width="4.2" height="4.2" fill="#0000ff" stroke="#777" stroke-width="0.4"/>
<text x="44" y="82.5" font-size="5.9" fill="#000" stroke="#000" stroke-width="0.22" textLength="42.7" lengthAdjust="spacingAndGlyphs">Down-regulation</text>
<line x1="105.5" y1="231.5" x2="105.5" y2="235.0" stroke="#8a8a8a" stroke-width="0.8"/>
<text x="105.5" y="246.0" font-size="5.8" fill="#000" stroke="#000" stroke-width="0.18" text-anchor="middle">0</text>
<line x1="151.1" y1="231.5" x2="151.1" y2="235.0" stroke="#8a8a8a" stroke-width="0.8"/>
<text x="151.1" y="246.0" font-size="5.8" fill="#000" stroke="#000" stroke-width="0.18" text-anchor="middle">3</text>
<line x1="26.0" y1="94.3" x2="29.5" y2="94.3" stroke="#8a8a8a" stroke-width="0.8"/>
<text transform="translate(20.3 94.3) rotate(-90)" font-size="5.8" fill="#000" stroke="#000" stroke-width="0.18" text-anchor="middle">3</text>
<line x1="26.0" y1="140.4" x2="29.5" y2="140.4" stroke="#8a8a8a" stroke-width="0.8"/>
<text transform="translate(20.3 140.4) rotate(-90)" font-size="5.8" fill="#000" stroke="#000" stroke-width="0.18" text-anchor="middle">0</text>
<text x="111.3" y="262.0" font-size="6.0" fill="#000" stroke="#000" stroke-width="0.18" text-anchor="middle" textLength="41.3" lengthAdjust="spacingAndGlyphs">log10FPKM( 2 )</text>
<text transform="translate(6.2 143) rotate(-90)" font-size="6.0" fill="#000" stroke="#000" stroke-width="0.18" text-anchor="middle" textLength="60" lengthAdjust="spacingAndGlyphs">log10FPKM( pkm2 )</text></g>
<g transform="translate(0 250)"><line x1="31.2" y1="56.5" x2="31.2" y2="231.5" stroke="#d6d6d6" stroke-width="0.6" stroke-dasharray="1 1.2"/>
<line x1="65.0" y1="56.5" x2="65.0" y2="231.5" stroke="#d6d6d6" stroke-width="0.6" stroke-dasharray="1 1.2"/>
<line x1="98.8" y1="56.5" x2="98.8" y2="231.5" stroke="#d6d6d6" stroke-width="0.6" stroke-dasharray="1 1.2"/>
<line x1="132.6" y1="56.5" x2="132.6" y2="231.5" stroke="#d6d6d6" stroke-width="0.6" stroke-dasharray="1 1.2"/>
<line x1="166.4" y1="56.5" x2="166.4" y2="231.5" stroke="#d6d6d6" stroke-width="0.6" stroke-dasharray="1 1.2"/>
<line x1="29.5" y1="79.3" x2="193.5" y2="79.3" stroke="#d6d6d6" stroke-width="0.6" stroke-dasharray="1 1.2"/>
<line x1="29.5" y1="110.3" x2="193.5" y2="110.3" stroke="#d6d6d6" stroke-width="0.6" stroke-dasharray="1 1.2"/>
<line x1="29.5" y1="141.3" x2="193.5" y2="141.3" stroke="#d6d6d6" stroke-width="0.6" stroke-dasharray="1 1.2"/>
<line x1="29.5" y1="172.3" x2="193.5" y2="172.3" stroke="#d6d6d6" stroke-width="0.6" stroke-dasharray="1 1.2"/>
<line x1="29.5" y1="203.3" x2="193.5" y2="203.3" stroke="#d6d6d6" stroke-width="0.6" stroke-dasharray="1 1.2"/>
<g><path d="M84.5 143.7 L86.4 142.1 L88.3 140.5 L90.2 138.9 L92.1 137.3 L94.0 135.7 L95.9 134.1 L97.7 132.5 L99.6 130.9 L101.5 129.3 L103.4 127.7 L105.3 126.1 L107.2 124.5 L109.1 122.9 L111.0 121.3 L112.9 119.7 L114.8 118.1 L116.6 116.5 L118.5 114.9 L120.4 113.3 L122.3 111.7 L124.2 110.1 L126.1 108.5 L128.0 106.9 L129.9 105.3 L131.8 103.7 L133.6 102.1 L135.5 100.5 L137.4 98.9 L139.3 97.3 L141.2 95.7 L143.1 94.1 L145.1 92.6 L147.2 91.2 L149.4 89.9 L151.5 88.5 L153.6 87.0 L155.6 85.6 L157.7 84.2 L159.7 82.7 L161.8 81.2 L164.3 83.6 L163.0 85.7 L161.8 87.9 L160.5 90.1 L159.2 92.3 L158.0 94.4 L156.7 96.6 L155.4 98.7 L154.1 100.9 L152.5 102.7 L150.6 104.4 L148.8 106.0 L147.0 107.7 L145.1 109.3 L143.3 111.0 L141.5 112.6 L139.6 114.3 L137.8 115.9 L136.0 117.6 L134.1 119.2 L132.3 120.9 L130.5 122.5 L128.6 124.2 L126.8 125.8 L124.9 127.5 L123.1 129.1 L121.3 130.8 L119.4 132.4 L117.6 134.1 L115.8 135.7 L113.9 137.4 L112.1 139.0 L110.3 140.7 L108.4 142.3 L106.6 144.0 L104.8 145.6 L102.9 147.3 L101.1 148.9 L99.3 150.6 L97.4 152.2 L95.6 153.9Z" fill="#bebebe"/><ellipse cx="89.5" cy="147.0" rx="14.5" ry="11.5" transform="rotate(-35 89.5 147.0)" fill="#bebebe"/><path d="M87.3 151.2h1.4v1.4h-1.4zM138.2 104.8h1.4v1.4h-1.4zM130.1 121.6h1.4v1.4h-1.4zM156.7 82.8h1.4v1.4h-1.4zM127.8 107.1h1.4v1.4h-1.4zM81.1 158.9h1.4v1.4h-1.4zM104.2 133.4h1.4v1.4h-1.4zM107.7 131.4h1.4v1.4h-1.4zM145.7 105.8h1.4v1.4h-1.4zM91.8 147.8h1.4v1.4h-1.4zM150.7 94.0h1.4v1.4h-1.4zM91.6 157.4h1.4v1.4h-1.4zM95.1 155.6h1.4v1.4h-1.4zM143.8 94.6h1.4v1.4h-1.4zM164.6 80.6h1.4v1.4h-1.4zM136.9 104.0h1.4v1.4h-1.4zM137.0 98.7h1.4v1.4h-1.4zM183.8 66.6h1.4v1.4h-1.4zM155.5 86.8h1.4v1.4h-1.4zM146.2 90.4h1.4v1.4h-1.4zM79.2 142.7h1.4v1.4h-1.4zM145.9 99.0h1.4v1.4h-1.4zM131.4 118.0h1.4v1.4h-1.4zM151.0 89.9h1.4v1.4h-1.4zM81.0 158.3h1.4v1.4h-1.4zM165.7 80.6h1.4v1.4h-1.4zM78.8 147.6h1.4v1.4h-1.4zM127.6 114.3h1.4v1.4h-1.4zM80.0 150.5h1.4v1.4h-1.4zM83.2 154.1h1.4v1.4h-1.4zM89.2 158.6h1.4v1.4h-1.4zM107.7 126.7h1.4v1.4h-1.4zM103.5 134.1h1.4v1.4h-1.4zM131.4 113.8h1.4v1.4h-1.4zM90.0 144.1h1.4v1.4h-1.4zM109.6 130.3h1.4v1.4h-1.4zM162.8 76.4h1.4v1.4h-1.4zM113.2 122.6h1.4v1.4h-1.4zM82.6 157.0h1.4v1.4h-1.4zM131.8 117.3h1.4v1.4h-1.4zM120.8 115.2h1.4v1.4h-1.4zM92.6 149.2h1.4v1.4h-1.4zM92.3 147.3h1.4v1.4h-1.4zM98.2 146.0h1.4v1.4h-1.4zM70.9 145.0h1.4v1.4h-1.4zM120.1 129.4h1.4v1.4h-1.4zM128.5 121.6h1.4v1.4h-1.4zM155.9 96.4h1.4v1.4h-1.4zM118.9 119.7h1.4v1.4h-1.4zM96.0 142.5h1.4v1.4h-1.4zM148.9 90.4h1.4v1.4h-1.4zM100.7 135.6h1.4v1.4h-1.4zM118.3 125.7h1.4v1.4h-1.4zM92.5 153.1h1.4v1.4h-1.4zM119.3 114.3h1.4v1.4h-1.4zM98.8 137.7h1.4v1.4h-1.4zM138.8 108.9h1.4v1.4h-1.4zM84.4 157.6h1.4v1.4h-1.4zM85.7 152.9h1.4v1.4h-1.4zM148.0 93.8h1.4v1.4h-1.4zM138.3 104.3h1.4v1.4h-1.4zM113.8 127.3h1.4v1.4h-1.4zM102.9 138.5h1.4v1.4h-1.4zM111.9 129.4h1.4v1.4h-1.4zM74.1 157.2h1.4v1.4h-1.4zM125.8 121.3h1.4v1.4h-1.4zM151.2 87.0h1.4v1.4h-1.4zM151.0 98.6h1.4v1.4h-1.4zM162.0 92.2h1.4v1.4h-1.4zM115.0 123.4h1.4v1.4h-1.4zM120.0 125.8h1.4v1.4h-1.4zM91.4 162.0h1.4v1.4h-1.4zM151.4 90.8h1.4v1.4h-1.4zM109.8 121.8h1.4v1.4h-1.4zM187.0 70.1h1.4v1.4h-1.4zM113.7 132.9h1.4v1.4h-1.4zM81.2 150.3h1.4v1.4h-1.4zM105.7 138.7h1.4v1.4h-1.4zM124.8 125.4h1.4v1.4h-1.4zM121.3 122.9h1.4v1.4h-1.4zM147.8 88.9h1.4v1.4h-1.4zM156.7 91.6h1.4v1.4h-1.4zM92.3 154.9h1.4v1.4h-1.4zM110.0 120.5h1.4v1.4h-1.4zM85.6 148.5h1.4v1.4h-1.4zM108.8 123.2h1.4v1.4h-1.4zM185.6 62.5h1.4v1.4h-1.4zM83.5 159.6h1.4v1.4h-1.4zM82.6 145.2h1.4v1.4h-1.4zM117.1 124.6h1.4v1.4h-1.4zM180.3 72.8h1.4v1.4h-1.4zM149.5 103.8h1.4v1.4h-1.4zM140.9 109.4h1.4v1.4h-1.4zM150.3 93.1h1.4v1.4h-1.4zM140.9 110.6h1.4v1.4h-1.4zM127.5 118.5h1.4v1.4h-1.4zM154.5 86.8h1.4v1.4h-1.4zM144.9 97.2h1.4v1.4h-1.4zM137.6 104.1h1.4v1.4h-1.4zM171.8 83.4h1.4v1.4h-1.4zM104.5 133.8h1.4v1.4h-1.4zM85.6 141.8h1.4v1.4h-1.4zM129.7 106.0h1.4v1.4h-1.4zM157.2 92.0h1.4v1.4h-1.4zM74.9 159.1h1.4v1.4h-1.4zM114.7 122.3h1.4v1.4h-1.4zM99.5 156.3h1.4v1.4h-1.4zM124.1 123.2h1.4v1.4h-1.4zM112.9 123.0h1.4v1.4h-1.4zM158.4 89.6h1.4v1.4h-1.4zM123.5 111.3h1.4v1.4h-1.4zM167.1 87.7h1.4v1.4h-1.4zM121.5 110.8h1.4v1.4h-1.4zM116.1 116.7h1.4v1.4h-1.4zM157.6 96.1h1.4v1.4h-1.4zM115.6 123.9h1.4v1.4h-1.4zM77.5 149.6h1.4v1.4h-1.4zM106.1 125.0h1.4v1.4h-1.4zM96.3 146.3h1.4v1.4h-1.4zM105.8 132.4h1.4v1.4h-1.4zM83.5 157.5h1.4v1.4h-1.4zM183.8 63.5h1.4v1.4h-1.4zM99.0 136.9h1.4v1.4h-1.4zM157.6 93.7h1.4v1.4h-1.4zM152.5 87.9h1.4v1.4h-1.4zM78.7 151.0h1.4v1.4h-1.4zM189.3 60.7h1.4v1.4h-1.4zM127.2 117.1h1.4v1.4h-1.4zM102.9 142.1h1.4v1.4h-1.4zM80.4 150.6h1.4v1.4h-1.4zM72.4 147.8h1.4v1.4h-1.4zM93.4 148.8h1.4v1.4h-1.4zM78.4 149.9h1.4v1.4h-1.4zM125.1 123.7h1.4v1.4h-1.4zM139.9 106.6h1.4v1.4h-1.4zM147.3 91.8h1.4v1.4h-1.4zM141.1 97.9h1.4v1.4h-1.4zM102.9 134.0h1.4v1.4h-1.4zM105.6 136.6h1.4v1.4h-1.4zM122.3 114.0h1.4v1.4h-1.4zM110.9 128.6h1.4v1.4h-1.4zM139.9 104.7h1.4v1.4h-1.4zM131.3 104.5h1.4v1.4h-1.4zM149.3 87.4h1.4v1.4h-1.4zM149.6 88.5h1.4v1.4h-1.4zM161.9 90.1h1.4v1.4h-1.4zM74.0 163.6h1.4v1.4h-1.4zM114.5 127.7h1.4v1.4h-1.4zM147.0 96.1h1.4v1.4h-1.4zM147.1 102.3h1.4v1.4h-1.4zM144.5 93.0h1.4v1.4h-1.4zM95.9 138.6h1.4v1.4h-1.4zM142.3 101.9h1.4v1.4h-1.4zM119.3 124.8h1.4v1.4h-1.4zM93.9 145.9h1.4v1.4h-1.4zM140.4 98.1h1.4v1.4h-1.4zM179.4 73.6h1.4v1.4h-1.4zM116.6 121.2h1.4v1.4h-1.4zM100.4 135.9h1.4v1.4h-1.4zM105.9 140.5h1.4v1.4h-1.4zM76.5 151.2h1.4v1.4h-1.4zM145.8 103.2h1.4v1.4h-1.4zM93.5 140.8h1.4v1.4h-1.4zM116.2 132.9h1.4v1.4h-1.4zM117.9 128.8h1.4v1.4h-1.4zM168.0 73.4h1.4v1.4h-1.4zM157.2 89.0h1.4v1.4h-1.4zM74.8 160.5h1.4v1.4h-1.4zM120.6 118.6h1.4v1.4h-1.4zM158.7 80.6h1.4v1.4h-1.4zM166.7 80.0h1.4v1.4h-1.4zM138.1 111.4h1.4v1.4h-1.4zM172.4 74.1h1.4v1.4h-1.4zM96.5 143.2h1.4v1.4h-1.4zM66.8 163.0h1.4v1.4h-1.4zM104.2 139.6h1.4v1.4h-1.4zM164.8 82.0h1.4v1.4h-1.4zM136.4 115.3h1.4v1.4h-1.4zM128.5 109.9h1.4v1.4h-1.4zM141.2 99.7h1.4v1.4h-1.4zM108.9 124.6h1.4v1.4h-1.4zM140.8 97.9h1.4v1.4h-1.4zM118.2 126.6h1.4v1.4h-1.4zM97.1 135.0h1.4v1.4h-1.4zM105.6 142.7h1.4v1.4h-1.4zM98.5 138.5h1.4v1.4h-1.4zM172.8 70.4h1.4v1.4h-1.4zM150.2 89.3h1.4v1.4h-1.4zM83.4 141.3h1.4v1.4h-1.4zM84.2 147.6h1.4v1.4h-1.4zM104.9 135.4h1.4v1.4h-1.4zM117.2 129.4h1.4v1.4h-1.4zM149.1 97.0h1.4v1.4h-1.4zM125.5 117.3h1.4v1.4h-1.4zM160.8 91.2h1.4v1.4h-1.4zM178.7 63.2h1.4v1.4h-1.4zM81.6 151.6h1.4v1.4h-1.4zM176.3 71.0h1.4v1.4h-1.4zM166.2 83.2h1.4v1.4h-1.4zM93.6 145.5h1.4v1.4h-1.4zM151.9 96.3h1.4v1.4h-1.4zM148.0 99.6h1.4v1.4h-1.4zM118.9 125.1h1.4v1.4h-1.4zM118.4 118.6h1.4v1.4h-1.4zM132.2 112.8h1.4v1.4h-1.4zM115.6 117.9h1.4v1.4h-1.4zM131.9 104.6h1.4v1.4h-1.4zM163.9 80.8h1.4v1.4h-1.4zM119.8 125.6h1.4v1.4h-1.4zM99.9 142.8h1.4v1.4h-1.4zM78.1 153.6h1.4v1.4h-1.4zM130.1 114.8h1.4v1.4h-1.4zM126.8 112.8h1.4v1.4h-1.4zM146.0 100.5h1.4v1.4h-1.4zM85.0 155.2h1.4v1.4h-1.4zM154.3 91.1h1.4v1.4h-1.4zM84.8 162.3h1.4v1.4h-1.4zM68.2 169.1h1.4v1.4h-1.4zM109.0 130.2h1.4v1.4h-1.4zM152.6 86.5h1.4v1.4h-1.4zM134.5 106.1h1.4v1.4h-1.4zM164.5 83.9h1.4v1.4h-1.4zM119.2 112.5h1.4v1.4h-1.4zM102.9 135.9h1.4v1.4h-1.4zM118.0 121.6h1.4v1.4h-1.4zM122.7 110.0h1.4v1.4h-1.4zM111.3 125.7h1.4v1.4h-1.4zM80.5 151.4h1.4v1.4h-1.4zM106.2 124.2h1.4v1.4h-1.4zM115.7 125.9h1.4v1.4h-1.4zM142.6 96.7h1.4v1.4h-1.4zM129.0 121.8h1.4v1.4h-1.4zM90.9 153.0h1.4v1.4h-1.4zM118.8 128.5h1.4v1.4h-1.4zM114.3 126.4h1.4v1.4h-1.4zM157.1 80.7h1.4v1.4h-1.4zM123.5 119.4h1.4v1.4h-1.4zM155.9 92.4h1.4v1.4h-1.4zM158.0 90.3h1.4v1.4h-1.4zM120.3 127.9h1.4v1.4h-1.4zM93.3 152.2h1.4v1.4h-1.4zM141.3 101.1h1.4v1.4h-1.4zM73.6 156.1h1.4v1.4h-1.4zM151.9 85.0h1.4v1.4h-1.4zM82.2 156.6h1.4v1.4h-1.4zM167.9 78.8h1.4v1.4h-1.4zM156.3 93.5h1.4v1.4h-1.4zM130.1 115.4h1.4v1.4h-1.4zM149.6 99.2h1.4v1.4h-1.4zM129.4 116.6h1.4v1.4h-1.4zM180.5 70.0h1.4v1.4h-1.4zM96.9 150.8h1.4v1.4h-1.4zM92.8 139.2h1.4v1.4h-1.4zM166.3 80.4h1.4v1.4h-1.4zM138.3 105.1h1.4v1.4h-1.4zM152.7 88.0h1.4v1.4h-1.4zM85.5 151.1h1.4v1.4h-1.4zM97.4 152.3h1.4v1.4h-1.4zM108.4 130.7h1.4v1.4h-1.4zM160.1 86.3h1.4v1.4h-1.4zM123.2 114.6h1.4v1.4h-1.4zM155.7 82.7h1.4v1.4h-1.4zM156.4 88.6h1.4v1.4h-1.4zM161.8 77.4h1.4v1.4h-1.4zM122.8 117.0h1.4v1.4h-1.4zM116.5 130.2h1.4v1.4h-1.4zM100.4 137.3h1.4v1.4h-1.4zM153.4 97.9h1.4v1.4h-1.4zM128.5 109.8h1.4v1.4h-1.4zM150.1 92.9h1.4v1.4h-1.4zM112.1 127.2h1.4v1.4h-1.4zM90.3 150.8h1.4v1.4h-1.4zM92.0 137.7h1.4v1.4h-1.4zM76.6 149.0h1.4v1.4h-1.4zM66.3 164.7h1.4v1.4h-1.4zM99.6 141.9h1.4v1.4h-1.4zM157.1 86.2h1.4v1.4h-1.4zM112.3 125.1h1.4v1.4h-1.4zM125.8 119.7h1.4v1.4h-1.4zM108.5 130.0h1.4v1.4h-1.4zM148.7 92.9h1.4v1.4h-1.4zM84.1 144.3h1.4v1.4h-1.4zM146.2 99.3h1.4v1.4h-1.4zM150.8 93.6h1.4v1.4h-1.4zM126.6 114.9h1.4v1.4h-1.4zM173.8 71.1h1.4v1.4h-1.4zM156.4 87.9h1.4v1.4h-1.4zM134.0 102.5h1.4v1.4h-1.4zM151.5 95.5h1.4v1.4h-1.4zM118.8 115.4h1.4v1.4h-1.4zM146.3 102.3h1.4v1.4h-1.4zM167.1 76.5h1.4v1.4h-1.4zM97.0 135.4h1.4v1.4h-1.4zM117.2 130.3h1.4v1.4h-1.4zM148.8 105.1h1.4v1.4h-1.4zM159.2 95.0h1.4v1.4h-1.4zM102.0 131.4h1.4v1.4h-1.4zM146.0 89.8h1.4v1.4h-1.4zM161.4 84.7h1.4v1.4h-1.4zM123.1 126.1h1.4v1.4h-1.4zM117.3 125.7h1.4v1.4h-1.4zM108.4 129.3h1.4v1.4h-1.4zM122.1 118.7h1.4v1.4h-1.4zM155.6 93.2h1.4v1.4h-1.4zM151.9 95.3h1.4v1.4h-1.4zM96.9 144.0h1.4v1.4h-1.4zM110.1 122.6h1.4v1.4h-1.4zM171.3 73.3h1.4v1.4h-1.4zM153.4 89.5h1.4v1.4h-1.4zM98.9 140.5h1.4v1.4h-1.4zM100.1 133.4h1.4v1.4h-1.4zM137.8 106.8h1.4v1.4h-1.4zM134.4 100.6h1.4v1.4h-1.4zM123.3 118.6h1.4v1.4h-1.4zM141.6 98.3h1.4v1.4h-1.4zM85.7 151.2h1.4v1.4h-1.4zM161.9 91.9h1.4v1.4h-1.4zM101.2 135.9h1.4v1.4h-1.4zM85.3 146.0h1.4v1.4h-1.4zM82.4 153.6h1.4v1.4h-1.4zM147.9 92.6h1.4v1.4h-1.4zM133.1 110.6h1.4v1.4h-1.4zM150.1 97.3h1.4v1.4h-1.4zM181.0 70.2h1.4v1.4h-1.4zM88.6 151.1h1.4v1.4h-1.4zM70.3 157.7h1.4v1.4h-1.4zM158.5 88.8h1.4v1.4h-1.4zM105.7 133.7h1.4v1.4h-1.4zM153.2 88.5h1.4v1.4h-1.4zM73.5 159.3h1.4v1.4h-1.4zM110.8 133.6h1.4v1.4h-1.4zM99.3 152.2h1.4v1.4h-1.4zM81.6 154.0h1.4v1.4h-1.4zM106.9 140.3h1.4v1.4h-1.4zM125.7 108.2h1.4v1.4h-1.4zM124.3 110.9h1.4v1.4h-1.4zM88.5 150.1h1.4v1.4h-1.4zM149.4 100.3h1.4v1.4h-1.4zM148.9 103.6h1.4v1.4h-1.4zM84.4 159.2h1.4v1.4h-1.4zM88.4 146.4h1.4v1.4h-1.4zM87.5 150.0h1.4v1.4h-1.4zM98.2 154.3h1.4v1.4h-1.4zM75.2 153.5h1.4v1.4h-1.4zM163.1 90.9h1.4v1.4h-1.4zM105.4 133.6h1.4v1.4h-1.4zM125.2 110.5h1.4v1.4h-1.4zM149.6 93.2h1.4v1.4h-1.4zM94.2 152.9h1.4v1.4h-1.4zM132.1 114.4h1.4v1.4h-1.4zM86.5 147.7h1.4v1.4h-1.4zM147.5 88.9h1.4v1.4h-1.4zM99.2 134.6h1.4v1.4h-1.4zM92.4 142.0h1.4v1.4h-1.4zM156.2 95.5h1.4v1.4h-1.4zM94.8 143.6h1.4v1.4h-1.4zM130.2 116.2h1.4v1.4h-1.4zM93.8 161.3h1.4v1.4h-1.4zM122.1 121.7h1.4v1.4h-1.4zM151.2 95.9h1.4v1.4h-1.4zM126.7 118.3h1.4v1.4h-1.4zM110.9 128.3h1.4v1.4h-1.4zM153.7 87.7h1.4v1.4h-1.4zM94.3 138.1h1.4v1.4h-1.4zM155.8 87.8h1.4v1.4h-1.4zM87.4 147.1h1.4v1.4h-1.4zM134.5 106.3h1.4v1.4h-1.4zM91.9 151.0h1.4v1.4h-1.4zM146.1 93.9h1.4v1.4h-1.4zM158.1 83.4h1.4v1.4h-1.4zM187.0 58.9h1.4v1.4h-1.4zM89.4 151.1h1.4v1.4h-1.4zM159.9 89.2h1.4v1.4h-1.4zM170.0 75.9h1.4v1.4h-1.4zM152.1 91.3h1.4v1.4h-1.4zM149.1 96.7h1.4v1.4h-1.4zM95.1 145.8h1.4v1.4h-1.4zM80.8 144.9h1.4v1.4h-1.4zM84.7 148.9h1.4v1.4h-1.4zM78.1 152.5h1.4v1.4h-1.4zM143.0 107.0h1.4v1.4h-1.4zM150.8 89.5h1.4v1.4h-1.4zM160.9 93.1h1.4v1.4h-1.4zM161.2 77.9h1.4v1.4h-1.4zM90.1 154.6h1.4v1.4h-1.4zM110.9 125.3h1.4v1.4h-1.4zM106.2 133.2h1.4v1.4h-1.4zM71.9 164.2h1.4v1.4h-1.4zM174.6 70.4h1.4v1.4h-1.4zM156.8 92.3h1.4v1.4h-1.4zM132.6 110.7h1.4v1.4h-1.4zM149.8 96.6h1.4v1.4h-1.4zM134.6 102.6h1.4v1.4h-1.4zM151.3 94.5h1.4v1.4h-1.4zM106.2 126.8h1.4v1.4h-1.4zM170.8 70.2h1.4v1.4h-1.4zM103.6 130.8h1.4v1.4h-1.4zM136.7 105.1h1.4v1.4h-1.4zM83.3 146.4h1.4v1.4h-1.4zM115.5 129.0h1.4v1.4h-1.4zM117.5 125.3h1.4v1.4h-1.4zM147.2 91.1h1.4v1.4h-1.4zM116.3 115.3h1.4v1.4h-1.4zM103.7 141.6h1.4v1.4h-1.4zM148.8 95.5h1.4v1.4h-1.4zM137.7 107.3h1.4v1.4h-1.4zM123.4 116.5h1.4v1.4h-1.4zM154.8 86.2h1.4v1.4h-1.4zM166.9 83.5h1.4v1.4h-1.4zM122.3 122.4h1.4v1.4h-1.4zM103.4 133.3h1.4v1.4h-1.4zM165.7 84.5h1.4v1.4h-1.4zM134.9 107.1h1.4v1.4h-1.4zM165.5 78.2h1.4v1.4h-1.4zM184.6 67.4h1.4v1.4h-1.4zM172.7 68.1h1.4v1.4h-1.4zM130.4 105.8h1.4v1.4h-1.4zM99.7 140.5h1.4v1.4h-1.4zM148.8 91.2h1.4v1.4h-1.4zM93.7 154.2h1.4v1.4h-1.4zM120.4 124.9h1.4v1.4h-1.4zM167.6 77.7h1.4v1.4h-1.4zM118.5 112.9h1.4v1.4h-1.4zM157.7 91.3h1.4v1.4h-1.4zM85.9 155.0h1.4v1.4h-1.4zM133.9 108.2h1.4v1.4h-1.4zM151.8 97.9h1.4v1.4h-1.4zM149.2 89.8h1.4v1.4h-1.4zM89.7 149.6h1.4v1.4h-1.4zM125.7 125.2h1.4v1.4h-1.4zM143.1 110.0h1.4v1.4h-1.4zM137.6 104.5h1.4v1.4h-1.4zM169.8 79.1h1.4v1.4h-1.4zM167.7 73.6h1.4v1.4h-1.4zM111.6 128.9h1.4v1.4h-1.4zM82.3 153.6h1.4v1.4h-1.4zM134.7 107.0h1.4v1.4h-1.4zM168.9 80.5h1.4v1.4h-1.4zM110.9 124.4h1.4v1.4h-1.4zM143.9 94.5h1.4v1.4h-1.4zM89.1 155.4h1.4v1.4h-1.4zM95.7 146.5h1.4v1.4h-1.4zM135.9 104.8h1.4v1.4h-1.4zM126.9 108.1h1.4v1.4h-1.4zM82.9 154.5h1.4v1.4h-1.4zM104.4 135.5h1.4v1.4h-1.4zM97.4 132.6h1.4v1.4h-1.4zM97.7 145.8h1.4v1.4h-1.4zM149.1 100.8h1.4v1.4h-1.4zM95.1 132.8h1.4v1.4h-1.4zM78.7 154.6h1.4v1.4h-1.4zM108.8 130.3h1.4v1.4h-1.4zM121.6 127.1h1.4v1.4h-1.4zM148.5 103.2h1.4v1.4h-1.4zM95.4 150.6h1.4v1.4h-1.4zM138.0 100.0h1.4v1.4h-1.4zM157.5 86.9h1.4v1.4h-1.4zM124.5 112.7h1.4v1.4h-1.4zM161.3 80.2h1.4v1.4h-1.4zM121.9 120.9h1.4v1.4h-1.4zM161.9 81.1h1.4v1.4h-1.4zM154.0 95.3h1.4v1.4h-1.4zM153.3 101.0h1.4v1.4h-1.4zM94.5 158.0h1.4v1.4h-1.4zM89.6 147.1h1.4v1.4h-1.4zM156.9 94.2h1.4v1.4h-1.4zM127.1 121.3h1.4v1.4h-1.4zM159.8 91.8h1.4v1.4h-1.4zM146.9 94.9h1.4v1.4h-1.4zM130.5 115.0h1.4v1.4h-1.4zM108.2 129.3h1.4v1.4h-1.4zM94.6 142.7h1.4v1.4h-1.4zM153.1 95.5h1.4v1.4h-1.4zM167.3 72.1h1.4v1.4h-1.4zM147.3 89.7h1.4v1.4h-1.4zM127.6 106.8h1.4v1.4h-1.4zM131.3 113.7h1.4v1.4h-1.4zM130.6 106.4h1.4v1.4h-1.4zM120.5 119.3h1.4v1.4h-1.4zM109.3 131.7h1.4v1.4h-1.4zM137.1 104.5h1.4v1.4h-1.4zM93.7 137.5h1.4v1.4h-1.4zM95.2 153.1h1.4v1.4h-1.4zM86.3 145.3h1.4v1.4h-1.4zM86.0 148.5h1.4v1.4h-1.4zM127.6 111.2h1.4v1.4h-1.4zM151.3 98.6h1.4v1.4h-1.4zM131.0 106.0h1.4v1.4h-1.4zM154.1 99.8h1.4v1.4h-1.4zM160.5 81.0h1.4v1.4h-1.4zM92.9 152.3h1.4v1.4h-1.4zM164.1 87.7h1.4v1.4h-1.4zM166.7 83.0h1.4v1.4h-1.4zM140.4 111.9h1.4v1.4h-1.4zM85.2 156.3h1.4v1.4h-1.4zM88.2 148.6h1.4v1.4h-1.4zM111.2 123.9h1.4v1.4h-1.4zM134.9 103.6h1.4v1.4h-1.4zM144.2 92.4h1.4v1.4h-1.4zM97.8 140.1h1.4v1.4h-1.4zM99.3 145.4h1.4v1.4h-1.4zM129.2 110.6h1.4v1.4h-1.4zM91.3 145.5h1.4v1.4h-1.4zM169.7 81.1h1.4v1.4h-1.4zM131.4 111.3h1.4v1.4h-1.4zM118.4 116.8h1.4v1.4h-1.4zM155.1 88.7h1.4v1.4h-1.4zM114.3 128.3h1.4v1.4h-1.4zM141.2 109.2h1.4v1.4h-1.4zM114.9 134.5h1.4v1.4h-1.4zM148.2 93.5h1.4v1.4h-1.4zM128.1 118.2h1.4v1.4h-1.4zM155.0 83.9h1.4v1.4h-1.4zM148.7 87.7h1.4v1.4h-1.4zM117.3 126.5h1.4v1.4h-1.4zM151.3 90.4h1.4v1.4h-1.4zM154.2 88.5h1.4v1.4h-1.4zM91.9 145.4h1.4v1.4h-1.4zM87.4 156.6h1.4v1.4h-1.4zM123.1 110.0h1.4v1.4h-1.4zM104.0 133.4h1.4v1.4h-1.4zM140.6 102.5h1.4v1.4h-1.4zM107.6 127.9h1.4v1.4h-1.4zM120.3 124.3h1.4v1.4h-1.4zM93.9 154.6h1.4v1.4h-1.4zM134.3 113.3h1.4v1.4h-1.4zM75.9 147.0h1.4v1.4h-1.4zM98.6 148.9h1.4v1.4h-1.4zM161.4 83.3h1.4v1.4h-1.4zM135.4 110.2h1.4v1.4h-1.4zM153.2 90.5h1.4v1.4h-1.4zM98.8 140.1h1.4v1.4h-1.4zM144.5 92.6h1.4v1.4h-1.4zM111.4 125.9h1.4v1.4h-1.4zM137.6 106.9h1.4v1.4h-1.4zM144.7 98.1h1.4v1.4h-1.4zM101.4 129.4h1.4v1.4h-1.4zM138.4 111.2h1.4v1.4h-1.4zM186.7 64.4h1.4v1.4h-1.4zM139.7 104.3h1.4v1.4h-1.4zM160.5 83.5h1.4v1.4h-1.4zM91.3 148.7h1.4v1.4h-1.4zM130.9 109.1h1.4v1.4h-1.4zM94.7 155.3h1.4v1.4h-1.4zM156.4 85.7h1.4v1.4h-1.4zM117.9 118.2h1.4v1.4h-1.4zM92.9 156.6h1.4v1.4h-1.4zM92.0 145.1h1.4v1.4h-1.4zM120.0 113.5h1.4v1.4h-1.4zM114.5 131.1h1.4v1.4h-1.4zM128.3 108.6h1.4v1.4h-1.4zM155.5 92.8h1.4v1.4h-1.4zM97.1 149.4h1.4v1.4h-1.4zM112.5 122.0h1.4v1.4h-1.4zM157.0 89.8h1.4v1.4h-1.4zM81.7 159.4h1.4v1.4h-1.4zM148.3 88.0h1.4v1.4h-1.4zM149.7 88.3h1.4v1.4h-1.4zM153.0 101.3h1.4v1.4h-1.4zM121.4 119.5h1.4v1.4h-1.4zM96.5 136.8h1.4v1.4h-1.4zM118.0 131.5h1.4v1.4h-1.4zM125.7 124.6h1.4v1.4h-1.4zM83.5 154.4h1.4v1.4h-1.4zM93.5 159.1h1.4v1.4h-1.4zM180.1 68.5h1.4v1.4h-1.4zM170.9 85.3h1.4v1.4h-1.4zM100.2 136.3h1.4v1.4h-1.4zM145.5 97.9h1.4v1.4h-1.4zM127.2 113.4h1.4v1.4h-1.4zM129.6 106.8h1.4v1.4h-1.4zM162.3 77.7h1.4v1.4h-1.4zM69.9 161.0h1.4v1.4h-1.4zM136.2 98.2h1.4v1.4h-1.4zM80.8 162.8h1.4v1.4h-1.4zM124.3 113.5h1.4v1.4h-1.4zM164.7 78.3h1.4v1.4h-1.4zM87.2 144.6h1.4v1.4h-1.4zM140.8 99.7h1.4v1.4h-1.4zM175.8 68.9h1.4v1.4h-1.4zM156.4 98.0h1.4v1.4h-1.4zM161.6 87.4h1.4v1.4h-1.4zM141.6 107.1h1.4v1.4h-1.4zM147.0 90.2h1.4v1.4h-1.4zM138.7 110.1h1.4v1.4h-1.4zM79.8 154.4h1.4v1.4h-1.4zM104.8 141.8h1.4v1.4h-1.4zM162.5 83.2h1.4v1.4h-1.4zM137.6 111.2h1.4v1.4h-1.4zM123.6 115.1h1.4v1.4h-1.4zM166.2 75.4h1.4v1.4h-1.4zM128.1 118.9h1.4v1.4h-1.4zM91.3 148.8h1.4v1.4h-1.4zM127.5 121.5h1.4v1.4h-1.4zM127.7 107.5h1.4v1.4h-1.4zM109.5 136.3h1.4v1.4h-1.4zM141.7 96.8h1.4v1.4h-1.4zM118.7 115.8h1.4v1.4h-1.4zM85.0 156.4h1.4v1.4h-1.4zM68.6 170.0h1.4v1.4h-1.4zM126.9 111.2h1.4v1.4h-1.4zM172.6 67.7h1.4v1.4h-1.4zM155.6 93.8h1.4v1.4h-1.4zM101.1 137.3h1.4v1.4h-1.4zM85.7 153.8h1.4v1.4h-1.4zM166.2 79.0h1.4v1.4h-1.4zM139.4 108.0h1.4v1.4h-1.4zM112.3 125.4h1.4v1.4h-1.4zM75.4 164.0h1.4v1.4h-1.4zM165.7 75.8h1.4v1.4h-1.4zM120.3 129.5h1.4v1.4h-1.4zM92.1 136.0h1.4v1.4h-1.4zM127.7 115.1h1.4v1.4h-1.4zM151.9 91.7h1.4v1.4h-1.4zM128.1 117.7h1.4v1.4h-1.4zM95.4 151.4h1.4v1.4h-1.4zM116.5 123.1h1.4v1.4h-1.4zM155.6 97.1h1.4v1.4h-1.4zM122.0 112.6h1.4v1.4h-1.4zM129.8 110.9h1.4v1.4h-1.4zM80.3 156.2h1.4v1.4h-1.4zM156.4 91.6h1.4v1.4h-1.4zM100.6 128.9h1.4v1.4h-1.4zM150.2 95.7h1.4v1.4h-1.4zM145.2 95.6h1.4v1.4h-1.4zM125.0 111.9h1.4v1.4h-1.4zM135.2 101.3h1.4v1.4h-1.4zM141.2 96.6h1.4v1.4h-1.4zM100.5 139.5h1.4v1.4h-1.4zM100.9 140.3h1.4v1.4h-1.4zM95.1 136.6h1.4v1.4h-1.4zM147.5 93.9h1.4v1.4h-1.4zM85.2 171.2h1.4v1.4h-1.4zM151.8 90.8h1.4v1.4h-1.4zM139.6 106.5h1.4v1.4h-1.4zM130.4 105.1h1.4v1.4h-1.4zM178.6 62.7h1.4v1.4h-1.4zM148.8 90.2h1.4v1.4h-1.4zM147.2 96.3h1.4v1.4h-1.4zM86.9 148.4h1.4v1.4h-1.4zM160.8 83.2h1.4v1.4h-1.4zM142.7 98.8h1.4v1.4h-1.4zM163.0 82.8h1.4v1.4h-1.4zM91.9 162.0h1.4v1.4h-1.4zM161.1 80.1h1.4v1.4h-1.4zM77.1 161.2h1.4v1.4h-1.4zM81.6 152.5h1.4v1.4h-1.4zM108.3 126.4h1.4v1.4h-1.4zM97.0 145.4h1.4v1.4h-1.4zM185.5 64.0h1.4v1.4h-1.4zM171.6 71.3h1.4v1.4h-1.4zM120.1 126.4h1.4v1.4h-1.4zM148.2 100.5h1.4v1.4h-1.4zM153.5 94.8h1.4v1.4h-1.4zM138.2 96.8h1.4v1.4h-1.4zM125.5 118.2h1.4v1.4h-1.4zM82.7 154.3h1.4v1.4h-1.4zM75.4 158.2h1.4v1.4h-1.4zM100.7 132.7h1.4v1.4h-1.4zM126.2 113.1h1.4v1.4h-1.4zM156.8 81.9h1.4v1.4h-1.4zM80.6 155.6h1.4v1.4h-1.4zM139.9 106.7h1.4v1.4h-1.4zM148.4 95.5h1.4v1.4h-1.4zM160.8 88.0h1.4v1.4h-1.4zM113.3 118.2h1.4v1.4h-1.4zM80.5 143.3h1.4v1.4h-1.4zM136.0 100.0h1.4v1.4h-1.4zM169.8 81.6h1.4v1.4h-1.4zM151.6 89.6h1.4v1.4h-1.4zM116.8 126.0h1.4v1.4h-1.4zM171.6 78.7h1.4v1.4h-1.4zM109.3 124.1h1.4v1.4h-1.4zM139.2 108.6h1.4v1.4h-1.4zM151.0 98.8h1.4v1.4h-1.4zM93.6 139.9h1.4v1.4h-1.4zM130.9 111.1h1.4v1.4h-1.4zM149.2 96.6h1.4v1.4h-1.4zM151.0 92.5h1.4v1.4h-1.4zM78.7 151.4h1.4v1.4h-1.4zM125.5 110.2h1.4v1.4h-1.4zM162.9 89.2h1.4v1.4h-1.4zM169.7 72.1h1.4v1.4h-1.4zM93.6 155.0h1.4v1.4h-1.4zM149.5 91.5h1.4v1.4h-1.4zM130.1 108.1h1.4v1.4h-1.4zM87.2 149.7h1.4v1.4h-1.4zM93.7 151.7h1.4v1.4h-1.4zM132.0 102.6h1.4v1.4h-1.4zM129.5 110.7h1.4v1.4h-1.4zM122.7 126.4h1.4v1.4h-1.4zM150.2 101.6h1.4v1.4h-1.4zM113.4 124.3h1.4v1.4h-1.4zM82.2 163.7h1.4v1.4h-1.4zM88.2 149.7h1.4v1.4h-1.4zM93.8 142.5h1.4v1.4h-1.4zM151.8 94.7h1.4v1.4h-1.4zM106.0 129.2h1.4v1.4h-1.4zM136.4 108.8h1.4v1.4h-1.4zM128.9 123.2h1.4v1.4h-1.4zM101.9 135.6h1.4v1.4h-1.4zM137.5 103.6h1.4v1.4h-1.4zM110.5 133.4h1.4v1.4h-1.4zM86.1 159.4h1.4v1.4h-1.4zM111.5 132.5h1.4v1.4h-1.4zM147.3 102.8h1.4v1.4h-1.4zM110.1 132.7h1.4v1.4h-1.4zM143.8 98.2h1.4v1.4h-1.4zM147.7 99.6h1.4v1.4h-1.4zM93.6 141.9h1.4v1.4h-1.4zM135.3 109.9h1.4v1.4h-1.4zM161.4 87.4h1.4v1.4h-1.4zM118.4 120.8h1.4v1.4h-1.4zM136.9 102.8h1.4v1.4h-1.4zM120.1 118.5h1.4v1.4h-1.4zM160.7 83.3h1.4v1.4h-1.4zM147.2 92.7h1.4v1.4h-1.4zM157.0 80.4h1.4v1.4h-1.4zM128.7 116.8h1.4v1.4h-1.4zM143.4 107.9h1.4v1.4h-1.4zM109.1 136.5h1.4v1.4h-1.4zM108.1 121.9h1.4v1.4h-1.4zM99.0 135.3h1.4v1.4h-1.4zM143.9 92.2h1.4v1.4h-1.4zM159.6 90.0h1.4v1.4h-1.4zM116.3 122.1h1.4v1.4h-1.4zM161.6 88.5h1.4v1.4h-1.4zM72.9 158.6h1.4v1.4h-1.4zM143.1 99.5h1.4v1.4h-1.4zM153.7 89.8h1.4v1.4h-1.4zM153.8 98.7h1.4v1.4h-1.4zM146.3 91.8h1.4v1.4h-1.4zM113.7 120.9h1.4v1.4h-1.4zM96.0 145.5h1.4v1.4h-1.4zM125.5 111.5h1.4v1.4h-1.4zM145.0 94.9h1.4v1.4h-1.4zM104.3 129.0h1.4v1.4h-1.4zM150.5 88.3h1.4v1.4h-1.4zM95.3 141.4h1.4v1.4h-1.4zM171.2 70.8h1.4v1.4h-1.4zM127.1 122.3h1.4v1.4h-1.4zM106.0 126.6h1.4v1.4h-1.4zM117.7 122.9h1.4v1.4h-1.4zM82.0 148.6h1.4v1.4h-1.4zM129.7 110.6h1.4v1.4h-1.4zM89.1 150.0h1.4v1.4h-1.4zM113.5 120.5h1.4v1.4h-1.4zM135.0 111.2h1.4v1.4h-1.4zM79.5 157.0h1.4v1.4h-1.4zM159.3 82.6h1.4v1.4h-1.4zM88.9 152.0h1.4v1.4h-1.4zM81.8 150.3h1.4v1.4h-1.4zM102.4 136.1h1.4v1.4h-1.4zM141.4 99.3h1.4v1.4h-1.4zM151.8 86.7h1.4v1.4h-1.4zM145.1 94.6h1.4v1.4h-1.4zM97.7 137.0h1.4v1.4h-1.4zM156.0 86.7h1.4v1.4h-1.4zM162.5 78.2h1.4v1.4h-1.4zM101.3 136.0h1.4v1.4h-1.4zM184.6 63.5h1.4v1.4h-1.4zM87.4 150.9h1.4v1.4h-1.4zM94.9 145.4h1.4v1.4h-1.4zM94.9 141.2h1.4v1.4h-1.4zM171.9 79.1h1.4v1.4h-1.4zM141.5 110.3h1.4v1.4h-1.4zM82.6 162.0h1.4v1.4h-1.4zM118.3 121.5h1.4v1.4h-1.4zM149.8 87.1h1.4v1.4h-1.4zM183.8 73.2h1.4v1.4h-1.4zM107.5 133.9h1.4v1.4h-1.4zM159.6 87.1h1.4v1.4h-1.4zM135.7 98.8h1.4v1.4h-1.4zM98.6 148.9h1.4v1.4h-1.4zM115.4 125.0h1.4v1.4h-1.4zM100.6 138.1h1.4v1.4h-1.4zM118.4 123.3h1.4v1.4h-1.4zM172.3 80.9h1.4v1.4h-1.4zM158.0 86.4h1.4v1.4h-1.4zM157.2 88.0h1.4v1.4h-1.4zM93.2 143.3h1.4v1.4h-1.4zM112.0 121.9h1.4v1.4h-1.4zM103.7 132.6h1.4v1.4h-1.4zM87.2 147.9h1.4v1.4h-1.4zM94.2 145.7h1.4v1.4h-1.4zM142.4 99.3h1.4v1.4h-1.4zM132.4 113.4h1.4v1.4h-1.4zM91.2 147.9h1.4v1.4h-1.4zM92.5 140.0h1.4v1.4h-1.4zM97.5 136.0h1.4v1.4h-1.4zM93.4 149.1h1.4v1.4h-1.4zM140.0 101.0h1.4v1.4h-1.4zM109.0 136.2h1.4v1.4h-1.4zM131.8 110.9h1.4v1.4h-1.4zM108.2 123.9h1.4v1.4h-1.4zM169.7 76.4h1.4v1.4h-1.4zM107.3 141.6h1.4v1.4h-1.4zM125.0 118.5h1.4v1.4h-1.4zM115.1 131.6h1.4v1.4h-1.4zM146.0 96.1h1.4v1.4h-1.4zM113.7 120.4h1.4v1.4h-1.4zM156.5 86.9h1.4v1.4h-1.4zM183.6 68.3h1.4v1.4h-1.4zM68.9 164.7h1.4v1.4h-1.4zM94.9 157.9h1.4v1.4h-1.4zM167.0 76.8h1.4v1.4h-1.4zM94.1 138.6h1.4v1.4h-1.4zM148.2 93.9h1.4v1.4h-1.4zM124.9 120.0h1.4v1.4h-1.4zM122.0 125.4h1.4v1.4h-1.4zM154.5 84.1h1.4v1.4h-1.4zM95.8 135.4h1.4v1.4h-1.4zM119.3 124.8h1.4v1.4h-1.4zM83.1 151.0h1.4v1.4h-1.4zM151.0 89.7h1.4v1.4h-1.4zM87.7 157.0h1.4v1.4h-1.4zM153.7 89.8h1.4v1.4h-1.4zM75.3 161.1h1.4v1.4h-1.4zM82.6 145.0h1.4v1.4h-1.4zM110.9 126.1h1.4v1.4h-1.4zM99.2 140.7h1.4v1.4h-1.4zM97.5 131.9h1.4v1.4h-1.4zM137.3 107.2h1.4v1.4h-1.4zM84.0 159.3h1.4v1.4h-1.4zM100.0 145.4h1.4v1.4h-1.4zM126.4 120.3h1.4v1.4h-1.4zM97.5 149.1h1.4v1.4h-1.4zM100.8 131.9h1.4v1.4h-1.4zM141.8 96.9h1.4v1.4h-1.4zM64.5 163.7h1.4v1.4h-1.4zM168.6 86.8h1.4v1.4h-1.4zM169.5 77.5h1.4v1.4h-1.4zM114.0 126.1h1.4v1.4h-1.4zM159.6 83.9h1.4v1.4h-1.4zM137.3 106.3h1.4v1.4h-1.4zM140.7 104.2h1.4v1.4h-1.4zM157.9 90.1h1.4v1.4h-1.4zM92.6 142.1h1.4v1.4h-1.4zM149.1 90.5h1.4v1.4h-1.4zM107.8 130.0h1.4v1.4h-1.4zM151.8 89.7h1.4v1.4h-1.4zM114.9 117.4h1.4v1.4h-1.4zM117.5 116.3h1.4v1.4h-1.4zM155.1 89.0h1.4v1.4h-1.4zM129.8 112.9h1.4v1.4h-1.4zM172.5 76.2h1.4v1.4h-1.4zM83.8 151.4h1.4v1.4h-1.4zM101.0 157.4h1.4v1.4h-1.4zM119.9 120.9h1.4v1.4h-1.4zM135.7 109.6h1.4v1.4h-1.4zM160.7 78.6h1.4v1.4h-1.4zM112.0 121.4h1.4v1.4h-1.4zM119.8 116.5h1.4v1.4h-1.4zM130.7 117.7h1.4v1.4h-1.4zM166.5 75.3h1.4v1.4h-1.4zM157.8 81.1h1.4v1.4h-1.4zM139.3 107.8h1.4v1.4h-1.4zM100.9 136.1h1.4v1.4h-1.4zM149.0 103.0h1.4v1.4h-1.4zM88.5 159.3h1.4v1.4h-1.4zM113.0 136.4h1.4v1.4h-1.4zM140.0 101.4h1.4v1.4h-1.4zM129.1 108.2h1.4v1.4h-1.4zM124.9 119.5h1.4v1.4h-1.4zM84.8 140.9h1.4v1.4h-1.4zM152.2 88.3h1.4v1.4h-1.4zM123.7 119.4h1.4v1.4h-1.4zM101.4 131.6h1.4v1.4h-1.4zM156.7 84.4h1.4v1.4h-1.4zM154.9 86.4h1.4v1.4h-1.4zM92.4 154.9h1.4v1.4h-1.4zM145.1 95.2h1.4v1.4h-1.4zM81.8 156.3h1.4v1.4h-1.4zM114.8 124.3h1.4v1.4h-1.4zM108.1 141.6h1.4v1.4h-1.4zM86.8 151.5h1.4v1.4h-1.4zM165.8 75.6h1.4v1.4h-1.4zM149.7 95.1h1.4v1.4h-1.4zM155.3 83.8h1.4v1.4h-1.4zM130.0 110.8h1.4v1.4h-1.4zM85.5 146.6h1.4v1.4h-1.4zM161.4 93.7h1.4v1.4h-1.4zM158.9 92.6h1.4v1.4h-1.4zM133.9 116.1h1.4v1.4h-1.4zM135.0 112.9h1.4v1.4h-1.4zM139.5 108.6h1.4v1.4h-1.4zM135.0 102.5h1.4v1.4h-1.4zM161.4 83.8h1.4v1.4h-1.4zM117.8 120.3h1.4v1.4h-1.4zM78.8 144.6h1.4v1.4h-1.4zM79.8 161.9h1.4v1.4h-1.4zM144.7 91.9h1.4v1.4h-1.4zM148.1 96.3h1.4v1.4h-1.4zM131.2 111.8h1.4v1.4h-1.4zM110.6 129.4h1.4v1.4h-1.4zM100.2 135.6h1.4v1.4h-1.4zM94.9 141.1h1.4v1.4h-1.4zM127.6 106.8h1.4v1.4h-1.4zM139.9 112.6h1.4v1.4h-1.4zM155.4 92.3h1.4v1.4h-1.4zM144.1 91.9h1.4v1.4h-1.4zM80.0 159.6h1.4v1.4h-1.4zM147.9 91.5h1.4v1.4h-1.4zM74.9 149.8h1.4v1.4h-1.4zM105.7 132.6h1.4v1.4h-1.4zM155.3 90.8h1.4v1.4h-1.4zM149.4 92.9h1.4v1.4h-1.4zM94.8 141.7h1.4v1.4h-1.4zM104.6 129.3h1.4v1.4h-1.4zM78.8 154.4h1.4v1.4h-1.4zM173.5 81.1h1.4v1.4h-1.4zM105.2 132.6h1.4v1.4h-1.4zM78.5 157.3h1.4v1.4h-1.4zM86.0 153.9h1.4v1.4h-1.4zM84.9 152.0h1.4v1.4h-1.4zM155.4 84.4h1.4v1.4h-1.4zM152.4 91.2h1.4v1.4h-1.4zM97.5 138.8h1.4v1.4h-1.4zM108.3 133.2h1.4v1.4h-1.4zM102.7 134.5h1.4v1.4h-1.4zM85.5 155.2h1.4v1.4h-1.4zM77.6 151.3h1.4v1.4h-1.4zM162.3 82.8h1.4v1.4h-1.4zM154.6 95.8h1.4v1.4h-1.4zM167.9 73.8h1.4v1.4h-1.4zM158.4 96.6h1.4v1.4h-1.4zM86.6 150.3h1.4v1.4h-1.4zM87.1 147.9h1.4v1.4h-1.4zM89.9 147.5h1.4v1.4h-1.4zM86.1 151.1h1.4v1.4h-1.4zM112.3 127.6h1.4v1.4h-1.4zM110.8 128.8h1.4v1.4h-1.4zM133.4 103.9h1.4v1.4h-1.4zM106.4 127.6h1.4v1.4h-1.4zM100.0 143.3h1.4v1.4h-1.4zM95.1 146.9h1.4v1.4h-1.4zM158.1 91.3h1.4v1.4h-1.4zM146.7 96.1h1.4v1.4h-1.4zM131.9 118.9h1.4v1.4h-1.4zM83.2 150.8h1.4v1.4h-1.4zM131.1 120.0h1.4v1.4h-1.4zM148.4 89.8h1.4v1.4h-1.4zM118.6 125.1h1.4v1.4h-1.4zM90.5 152.7h1.4v1.4h-1.4zM137.0 97.9h1.4v1.4h-1.4zM107.1 135.3h1.4v1.4h-1.4zM180.7 71.7h1.4v1.4h-1.4zM92.0 141.3h1.4v1.4h-1.4zM106.0 130.9h1.4v1.4h-1.4zM109.8 136.0h1.4v1.4h-1.4zM91.3 150.0h1.4v1.4h-1.4zM135.7 101.1h1.4v1.4h-1.4zM93.3 144.9h1.4v1.4h-1.4zM138.2 101.0h1.4v1.4h-1.4zM77.1 154.8h1.4v1.4h-1.4zM137.2 114.9h1.4v1.4h-1.4zM109.6 130.0h1.4v1.4h-1.4zM167.2 77.0h1.4v1.4h-1.4zM155.9 90.4h1.4v1.4h-1.4zM120.3 129.2h1.4v1.4h-1.4zM137.1 105.3h1.4v1.4h-1.4zM164.8 81.4h1.4v1.4h-1.4zM90.1 148.4h1.4v1.4h-1.4zM164.3 79.3h1.4v1.4h-1.4zM134.0 105.1h1.4v1.4h-1.4zM124.7 117.9h1.4v1.4h-1.4zM151.5 95.7h1.4v1.4h-1.4zM152.6 84.6h1.4v1.4h-1.4zM117.4 127.3h1.4v1.4h-1.4zM134.9 107.3h1.4v1.4h-1.4zM148.7 93.0h1.4v1.4h-1.4zM112.0 132.9h1.4v1.4h-1.4zM91.6 152.0h1.4v1.4h-1.4zM82.6 140.4h1.4v1.4h-1.4zM152.9 88.3h1.4v1.4h-1.4zM79.9 160.7h1.4v1.4h-1.4zM138.5 114.4h1.4v1.4h-1.4zM140.1 103.4h1.4v1.4h-1.4zM128.9 111.8h1.4v1.4h-1.4zM80.2 158.0h1.4v1.4h-1.4zM134.2 112.8h1.4v1.4h-1.4zM83.0 149.2h1.4v1.4h-1.4zM188.9 59.4h1.4v1.4h-1.4zM118.5 123.8h1.4v1.4h-1.4zM130.2 117.8h1.4v1.4h-1.4zM150.4 95.6h1.4v1.4h-1.4zM82.4 149.9h1.4v1.4h-1.4zM73.0 173.8h1.4v1.4h-1.4zM123.0 120.2h1.4v1.4h-1.4zM172.1 75.3h1.4v1.4h-1.4zM118.2 127.2h1.4v1.4h-1.4zM81.2 143.0h1.4v1.4h-1.4zM87.3 151.4h1.4v1.4h-1.4zM94.8 142.3h1.4v1.4h-1.4zM84.6 153.6h1.4v1.4h-1.4zM159.4 88.9h1.4v1.4h-1.4zM82.1 144.9h1.4v1.4h-1.4zM190.4 66.1h1.4v1.4h-1.4zM136.3 109.4h1.4v1.4h-1.4zM155.2 85.4h1.4v1.4h-1.4zM123.8 124.6h1.4v1.4h-1.4zM163.9 75.0h1.4v1.4h-1.4zM108.9 128.2h1.4v1.4h-1.4zM68.6 166.8h1.4v1.4h-1.4zM92.5 139.1h1.4v1.4h-1.4zM160.7 81.8h1.4v1.4h-1.4zM126.9 106.4h1.4v1.4h-1.4zM79.5 157.8h1.4v1.4h-1.4zM89.7 158.5h1.4v1.4h-1.4zM121.4 116.4h1.4v1.4h-1.4zM107.1 125.1h1.4v1.4h-1.4zM129.6 117.9h1.4v1.4h-1.4zM172.8 83.0h1.4v1.4h-1.4zM111.4 121.1h1.4v1.4h-1.4zM158.6 86.6h1.4v1.4h-1.4zM169.1 71.9h1.4v1.4h-1.4zM127.1 117.9h1.4v1.4h-1.4zM106.4 135.1h1.4v1.4h-1.4zM130.2 119.7h1.4v1.4h-1.4zM80.2 153.3h1.4v1.4h-1.4zM122.8 118.5h1.4v1.4h-1.4zM103.2 132.9h1.4v1.4h-1.4zM90.8 141.0h1.4v1.4h-1.4zM165.7 78.0h1.4v1.4h-1.4zM129.3 107.9h1.4v1.4h-1.4zM127.4 108.6h1.4v1.4h-1.4zM124.4 118.2h1.4v1.4h-1.4zM146.3 89.5h1.4v1.4h-1.4zM95.4 140.4h1.4v1.4h-1.4zM149.6 96.3h1.4v1.4h-1.4zM114.1 130.6h1.4v1.4h-1.4zM112.9 132.3h1.4v1.4h-1.4zM104.2 140.8h1.4v1.4h-1.4zM170.9 70.9h1.4v1.4h-1.4zM155.2 92.6h1.4v1.4h-1.4zM147.6 94.5h1.4v1.4h-1.4zM180.3 72.5h1.4v1.4h-1.4zM135.3 101.7h1.4v1.4h-1.4zM175.2 71.3h1.4v1.4h-1.4zM129.2 114.9h1.4v1.4h-1.4zM108.6 123.6h1.4v1.4h-1.4zM84.4 146.1h1.4v1.4h-1.4zM109.8 127.9h1.4v1.4h-1.4zM116.5 117.4h1.4v1.4h-1.4zM85.0 146.0h1.4v1.4h-1.4zM156.6 94.5h1.4v1.4h-1.4zM99.7 132.7h1.4v1.4h-1.4zM108.3 134.0h1.4v1.4h-1.4zM145.5 91.1h1.4v1.4h-1.4zM91.0 144.1h1.4v1.4h-1.4zM109.9 124.9h1.4v1.4h-1.4zM74.7 155.0h1.4v1.4h-1.4zM126.7 108.0h1.4v1.4h-1.4zM75.8 162.2h1.4v1.4h-1.4zM149.6 88.1h1.4v1.4h-1.4zM89.5 157.5h1.4v1.4h-1.4zM173.7 72.7h1.4v1.4h-1.4zM158.9 92.4h1.4v1.4h-1.4zM101.2 146.3h1.4v1.4h-1.4zM151.2 92.0h1.4v1.4h-1.4zM148.4 95.7h1.4v1.4h-1.4zM100.5 140.4h1.4v1.4h-1.4zM172.5 69.4h1.4v1.4h-1.4zM144.9 93.6h1.4v1.4h-1.4zM85.8 146.7h1.4v1.4h-1.4zM150.7 92.0h1.4v1.4h-1.4zM110.5 130.9h1.4v1.4h-1.4zM153.2 87.7h1.4v1.4h-1.4zM110.9 126.0h1.4v1.4h-1.4zM84.7 143.6h1.4v1.4h-1.4zM125.6 117.1h1.4v1.4h-1.4zM86.5 149.1h1.4v1.4h-1.4zM118.9 114.1h1.4v1.4h-1.4zM132.0 114.1h1.4v1.4h-1.4zM89.0 152.9h1.4v1.4h-1.4zM162.1 85.7h1.4v1.4h-1.4zM157.5 91.0h1.4v1.4h-1.4zM151.4 95.7h1.4v1.4h-1.4zM111.6 134.4h1.4v1.4h-1.4zM119.4 126.8h1.4v1.4h-1.4zM106.2 140.2h1.4v1.4h-1.4zM98.9 131.8h1.4v1.4h-1.4zM105.2 142.1h1.4v1.4h-1.4zM110.7 134.9h1.4v1.4h-1.4zM152.1 97.6h1.4v1.4h-1.4zM124.9 121.4h1.4v1.4h-1.4zM118.4 124.8h1.4v1.4h-1.4zM139.9 98.9h1.4v1.4h-1.4zM154.8 84.8h1.4v1.4h-1.4zM108.1 141.8h1.4v1.4h-1.4zM108.9 123.5h1.4v1.4h-1.4zM125.1 110.0h1.4v1.4h-1.4zM144.5 102.8h1.4v1.4h-1.4zM134.9 114.3h1.4v1.4h-1.4zM141.8 97.5h1.4v1.4h-1.4zM81.3 157.0h1.4v1.4h-1.4zM99.0 142.7h1.4v1.4h-1.4zM137.7 101.5h1.4v1.4h-1.4zM117.5 121.5h1.4v1.4h-1.4zM114.2 123.2h1.4v1.4h-1.4zM135.2 113.9h1.4v1.4h-1.4zM163.4 90.0h1.4v1.4h-1.4zM132.1 109.6h1.4v1.4h-1.4zM163.0 90.7h1.4v1.4h-1.4zM85.9 152.2h1.4v1.4h-1.4zM93.5 145.6h1.4v1.4h-1.4zM86.9 160.4h1.4v1.4h-1.4zM134.6 109.8h1.4v1.4h-1.4zM106.4 135.2h1.4v1.4h-1.4zM119.1 120.7h1.4v1.4h-1.4zM140.5 100.4h1.4v1.4h-1.4zM89.7 159.8h1.4v1.4h-1.4zM116.2 129.3h1.4v1.4h-1.4zM117.6 120.7h1.4v1.4h-1.4zM97.2 143.0h1.4v1.4h-1.4zM161.4 91.6h1.4v1.4h-1.4zM123.3 118.7h1.4v1.4h-1.4zM169.6 73.5h1.4v1.4h-1.4zM89.8 140.3h1.4v1.4h-1.4zM150.6 93.2h1.4v1.4h-1.4zM190.3 61.3h1.4v1.4h-1.4zM104.6 135.0h1.4v1.4h-1.4zM115.2 130.2h1.4v1.4h-1.4zM174.3 73.5h1.4v1.4h-1.4zM94.4 147.4h1.4v1.4h-1.4zM164.8 78.8h1.4v1.4h-1.4zM167.4 75.4h1.4v1.4h-1.4zM71.0 163.5h1.4v1.4h-1.4zM112.6 123.3h1.4v1.4h-1.4zM119.3 115.7h1.4v1.4h-1.4zM128.1 120.1h1.4v1.4h-1.4zM107.0 124.0h1.4v1.4h-1.4zM140.6 97.5h1.4v1.4h-1.4zM91.0 152.1h1.4v1.4h-1.4zM118.1 122.0h1.4v1.4h-1.4zM157.2 88.3h1.4v1.4h-1.4zM123.5 115.3h1.4v1.4h-1.4zM82.2 156.7h1.4v1.4h-1.4zM149.5 92.1h1.4v1.4h-1.4zM80.8 142.3h1.4v1.4h-1.4zM118.7 118.2h1.4v1.4h-1.4zM129.8 107.6h1.4v1.4h-1.4zM98.5 141.1h1.4v1.4h-1.4zM149.2 96.0h1.4v1.4h-1.4zM147.9 90.7h1.4v1.4h-1.4zM90.0 151.3h1.4v1.4h-1.4zM84.3 161.3h1.4v1.4h-1.4zM151.7 91.0h1.4v1.4h-1.4zM81.6 154.4h1.4v1.4h-1.4zM129.8 115.6h1.4v1.4h-1.4zM102.5 133.0h1.4v1.4h-1.4zM102.6 132.5h1.4v1.4h-1.4zM124.1 115.1h1.4v1.4h-1.4zM104.2 144.0h1.4v1.4h-1.4zM145.3 94.6h1.4v1.4h-1.4zM90.0 138.6h1.4v1.4h-1.4zM89.4 153.7h1.4v1.4h-1.4zM84.1 155.8h1.4v1.4h-1.4zM100.2 140.1h1.4v1.4h-1.4zM141.1 96.1h1.4v1.4h-1.4zM134.1 109.4h1.4v1.4h-1.4zM86.1 160.2h1.4v1.4h-1.4zM150.8 97.4h1.4v1.4h-1.4zM91.9 139.6h1.4v1.4h-1.4zM162.7 89.4h1.4v1.4h-1.4zM65.1 156.2h1.4v1.4h-1.4zM124.4 112.3h1.4v1.4h-1.4zM146.8 97.2h1.4v1.4h-1.4zM158.3 94.2h1.4v1.4h-1.4zM102.2 129.2h1.4v1.4h-1.4zM159.4 92.7h1.4v1.4h-1.4zM140.5 100.4h1.4v1.4h-1.4zM150.8 91.0h1.4v1.4h-1.4zM115.5 120.8h1.4v1.4h-1.4zM123.3 112.8h1.4v1.4h-1.4zM100.4 132.2h1.4v1.4h-1.4zM94.0 156.8h1.4v1.4h-1.4zM105.5 147.0h1.4v1.4h-1.4zM81.9 160.8h1.4v1.4h-1.4zM104.2 140.9h1.4v1.4h-1.4zM107.5 143.0h1.4v1.4h-1.4zM86.1 134.7h1.4v1.4h-1.4zM99.2 135.8h1.4v1.4h-1.4zM84.3 134.1h1.4v1.4h-1.4zM77.7 159.7h1.4v1.4h-1.4zM90.6 159.6h1.4v1.4h-1.4zM102.5 131.4h1.4v1.4h-1.4zM97.1 133.4h1.4v1.4h-1.4zM74.4 147.0h1.4v1.4h-1.4zM103.3 141.0h1.4v1.4h-1.4zM73.1 156.5h1.4v1.4h-1.4zM75.0 154.9h1.4v1.4h-1.4zM93.6 132.6h1.4v1.4h-1.4zM74.0 154.4h1.4v1.4h-1.4zM103.8 138.0h1.4v1.4h-1.4zM100.6 153.1h1.4v1.4h-1.4zM91.0 133.5h1.4v1.4h-1.4zM74.0 152.6h1.4v1.4h-1.4zM78.0 138.5h1.4v1.4h-1.4zM104.8 139.3h1.4v1.4h-1.4zM102.6 137.2h1.4v1.4h-1.4zM74.5 145.0h1.4v1.4h-1.4zM103.1 148.5h1.4v1.4h-1.4zM85.1 133.8h1.4v1.4h-1.4zM93.0 133.6h1.4v1.4h-1.4zM82.6 160.0h1.4v1.4h-1.4zM73.6 154.0h1.4v1.4h-1.4zM100.6 150.7h1.4v1.4h-1.4zM85.8 131.5h1.4v1.4h-1.4zM94.5 130.4h1.4v1.4h-1.4zM91.2 159.1h1.4v1.4h-1.4zM85.7 133.9h1.4v1.4h-1.4zM92.8 131.8h1.4v1.4h-1.4zM104.0 139.0h1.4v1.4h-1.4zM103.5 140.2h1.4v1.4h-1.4zM85.2 159.8h1.4v1.4h-1.4zM105.7 147.8h1.4v1.4h-1.4zM91.3 133.1h1.4v1.4h-1.4zM88.0 159.5h1.4v1.4h-1.4zM96.3 133.6h1.4v1.4h-1.4zM76.9 156.5h1.4v1.4h-1.4zM95.2 129.3h1.4v1.4h-1.4zM99.3 152.6h1.4v1.4h-1.4zM103.5 145.7h1.4v1.4h-1.4zM99.4 153.6h1.4v1.4h-1.4zM84.2 160.9h1.4v1.4h-1.4zM82.3 135.5h1.4v1.4h-1.4zM78.3 135.9h1.4v1.4h-1.4zM91.9 159.4h1.4v1.4h-1.4zM89.8 158.7h1.4v1.4h-1.4zM105.8 140.4h1.4v1.4h-1.4zM101.2 137.7h1.4v1.4h-1.4zM101.9 135.9h1.4v1.4h-1.4zM75.0 149.8h1.4v1.4h-1.4zM93.4 133.4h1.4v1.4h-1.4zM101.3 136.0h1.4v1.4h-1.4zM75.8 139.8h1.4v1.4h-1.4zM104.4 147.3h1.4v1.4h-1.4zM79.9 158.2h1.4v1.4h-1.4zM91.3 132.1h1.4v1.4h-1.4zM104.0 139.5h1.4v1.4h-1.4zM102.2 135.5h1.4v1.4h-1.4zM74.4 143.6h1.4v1.4h-1.4zM83.7 161.3h1.4v1.4h-1.4zM85.2 159.3h1.4v1.4h-1.4zM100.6 136.3h1.4v1.4h-1.4zM76.5 155.5h1.4v1.4h-1.4zM78.0 139.1h1.4v1.4h-1.4zM86.0 133.9h1.4v1.4h-1.4zM76.4 157.2h1.4v1.4h-1.4zM101.5 149.6h1.4v1.4h-1.4zM79.0 139.2h1.4v1.4h-1.4zM89.0 133.9h1.4v1.4h-1.4zM98.6 153.9h1.4v1.4h-1.4zM101.6 137.5h1.4v1.4h-1.4zM101.3 133.7h1.4v1.4h-1.4zM103.1 145.6h1.4v1.4h-1.4zM75.3 142.1h1.4v1.4h-1.4zM99.4 136.0h1.4v1.4h-1.4zM105.7 145.7h1.4v1.4h-1.4zM102.7 139.5h1.4v1.4h-1.4zM81.9 136.4h1.4v1.4h-1.4zM75.2 150.5h1.4v1.4h-1.4zM77.9 157.4h1.4v1.4h-1.4zM89.5 131.9h1.4v1.4h-1.4zM76.5 160.1h1.4v1.4h-1.4zM89.2 131.5h1.4v1.4h-1.4zM82.7 165.1h1.4v1.4h-1.4zM92.9 132.8h1.4v1.4h-1.4zM85.2 161.6h1.4v1.4h-1.4zM98.6 157.7h1.4v1.4h-1.4zM74.9 142.4h1.4v1.4h-1.4zM75.6 142.4h1.4v1.4h-1.4zM79.6 137.4h1.4v1.4h-1.4zM103.5 149.0h1.4v1.4h-1.4zM97.3 133.1h1.4v1.4h-1.4zM102.3 136.9h1.4v1.4h-1.4zM85.1 161.1h1.4v1.4h-1.4zM84.1 133.0h1.4v1.4h-1.4zM102.9 140.4h1.4v1.4h-1.4zM89.4 158.8h1.4v1.4h-1.4zM98.7 155.9h1.4v1.4h-1.4zM102.5 138.0h1.4v1.4h-1.4zM82.0 160.4h1.4v1.4h-1.4zM97.4 155.8h1.4v1.4h-1.4zM84.8 134.7h1.4v1.4h-1.4zM93.4 133.0h1.4v1.4h-1.4zM99.2 130.6h1.4v1.4h-1.4zM74.9 152.4h1.4v1.4h-1.4zM89.6 133.0h1.4v1.4h-1.4zM82.9 159.6h1.4v1.4h-1.4zM83.2 159.8h1.4v1.4h-1.4zM102.4 139.0h1.4v1.4h-1.4zM77.6 156.4h1.4v1.4h-1.4zM100.3 135.9h1.4v1.4h-1.4zM104.2 144.6h1.4v1.4h-1.4zM102.5 144.9h1.4v1.4h-1.4zM100.8 137.7h1.4v1.4h-1.4zM94.4 157.4h1.4v1.4h-1.4zM79.4 137.9h1.4v1.4h-1.4zM78.3 136.5h1.4v1.4h-1.4zM74.0 154.5h1.4v1.4h-1.4zM86.9 133.9h1.4v1.4h-1.4zM103.1 142.7h1.4v1.4h-1.4zM103.9 146.8h1.4v1.4h-1.4zM95.5 132.7h1.4v1.4h-1.4zM85.2 134.0h1.4v1.4h-1.4zM102.8 141.1h1.4v1.4h-1.4zM72.5 151.9h1.4v1.4h-1.4zM92.0 132.4h1.4v1.4h-1.4zM79.9 138.4h1.4v1.4h-1.4zM82.2 136.3h1.4v1.4h-1.4zM103.5 140.8h1.4v1.4h-1.4zM90.5 159.5h1.4v1.4h-1.4zM83.1 160.4h1.4v1.4h-1.4zM82.7 135.9h1.4v1.4h-1.4zM102.5 136.4h1.4v1.4h-1.4zM104.0 142.2h1.4v1.4h-1.4zM102.6 147.0h1.4v1.4h-1.4zM84.1 128.9h1.4v1.4h-1.4zM103.0 136.6h1.4v1.4h-1.4zM102.3 137.7h1.4v1.4h-1.4zM73.5 146.6h1.4v1.4h-1.4zM102.0 135.7h1.4v1.4h-1.4zM102.7 147.6h1.4v1.4h-1.4zM79.3 136.4h1.4v1.4h-1.4zM100.4 152.7h1.4v1.4h-1.4zM102.8 138.0h1.4v1.4h-1.4zM100.8 136.7h1.4v1.4h-1.4zM74.2 148.1h1.4v1.4h-1.4zM82.8 135.5h1.4v1.4h-1.4zM73.9 146.8h1.4v1.4h-1.4zM76.5 138.3h1.4v1.4h-1.4zM83.5 135.1h1.4v1.4h-1.4zM103.7 151.3h1.4v1.4h-1.4zM74.9 154.3h1.4v1.4h-1.4zM103.6 142.8h1.4v1.4h-1.4zM72.3 149.0h1.4v1.4h-1.4zM98.3 153.2h1.4v1.4h-1.4zM96.1 133.8h1.4v1.4h-1.4zM97.1 157.2h1.4v1.4h-1.4zM101.9 150.7h1.4v1.4h-1.4zM98.6 152.9h1.4v1.4h-1.4zM83.2 159.3h1.4v1.4h-1.4zM74.9 155.1h1.4v1.4h-1.4zM75.8 142.6h1.4v1.4h-1.4zM86.3 134.6h1.4v1.4h-1.4zM84.9 159.6h1.4v1.4h-1.4zM88.8 159.8h1.4v1.4h-1.4zM69.2 150.8h1.4v1.4h-1.4zM76.1 144.1h1.4v1.4h-1.4zM93.0 131.8h1.4v1.4h-1.4zM76.4 141.3h1.4v1.4h-1.4zM104.9 140.6h1.4v1.4h-1.4zM99.0 134.9h1.4v1.4h-1.4zM82.7 159.8h1.4v1.4h-1.4zM73.6 145.3h1.4v1.4h-1.4zM77.9 139.0h1.4v1.4h-1.4zM103.0 143.0h1.4v1.4h-1.4zM81.3 135.5h1.4v1.4h-1.4zM76.2 154.6h1.4v1.4h-1.4zM88.3 161.9h1.4v1.4h-1.4zM86.3 134.5h1.4v1.4h-1.4zM84.5 135.1h1.4v1.4h-1.4zM103.3 148.3h1.4v1.4h-1.4zM78.3 159.4h1.4v1.4h-1.4zM102.4 142.2h1.4v1.4h-1.4zM75.2 146.0h1.4v1.4h-1.4zM87.6 159.4h1.4v1.4h-1.4zM75.6 153.9h1.4v1.4h-1.4zM81.1 158.3h1.4v1.4h-1.4zM97.6 154.0h1.4v1.4h-1.4zM74.4 151.6h1.4v1.4h-1.4zM101.4 148.8h1.4v1.4h-1.4zM73.8 148.9h1.4v1.4h-1.4zM76.9 155.5h1.4v1.4h-1.4zM102.1 147.5h1.4v1.4h-1.4zM75.3 143.2h1.4v1.4h-1.4zM72.9 153.7h1.4v1.4h-1.4zM104.1 142.0h1.4v1.4h-1.4zM100.6 133.2h1.4v1.4h-1.4zM101.6 134.3h1.4v1.4h-1.4zM77.2 156.5h1.4v1.4h-1.4zM106.1 140.8h1.4v1.4h-1.4zM74.7 145.3h1.4v1.4h-1.4zM105.6 137.5h1.4v1.4h-1.4zM71.2 154.7h1.4v1.4h-1.4zM104.6 143.1h1.4v1.4h-1.4zM88.7 161.0h1.4v1.4h-1.4zM95.8 156.6h1.4v1.4h-1.4zM100.0 152.8h1.4v1.4h-1.4zM88.6 163.4h1.4v1.4h-1.4zM74.0 148.6h1.4v1.4h-1.4zM100.1 135.8h1.4v1.4h-1.4zM72.4 141.3h1.4v1.4h-1.4zM77.1 155.0h1.4v1.4h-1.4zM75.2 138.2h1.4v1.4h-1.4zM106.3 139.6h1.4v1.4h-1.4zM74.8 154.4h1.4v1.4h-1.4zM103.7 140.0h1.4v1.4h-1.4zM82.2 163.1h1.4v1.4h-1.4zM102.6 152.2h1.4v1.4h-1.4zM97.1 154.8h1.4v1.4h-1.4zM81.5 159.6h1.4v1.4h-1.4zM91.1 132.0h1.4v1.4h-1.4zM97.7 135.1h1.4v1.4h-1.4zM77.3 157.8h1.4v1.4h-1.4zM104.3 149.9h1.4v1.4h-1.4zM74.3 142.4h1.4v1.4h-1.4zM82.2 135.9h1.4v1.4h-1.4zM94.7 158.5h1.4v1.4h-1.4zM79.9 135.5h1.4v1.4h-1.4zM82.4 131.8h1.4v1.4h-1.4zM74.2 154.7h1.4v1.4h-1.4zM81.1 160.8h1.4v1.4h-1.4zM77.7 159.3h1.4v1.4h-1.4zM83.2 134.4h1.4v1.4h-1.4zM83.4 159.3h1.4v1.4h-1.4zM77.5 136.3h1.4v1.4h-1.4zM84.4 161.9h1.4v1.4h-1.4zM97.1 157.4h1.4v1.4h-1.4zM92.2 130.7h1.4v1.4h-1.4zM96.0 157.8h1.4v1.4h-1.4zM96.3 156.6h1.4v1.4h-1.4zM104.1 142.3h1.4v1.4h-1.4zM75.0 150.3h1.4v1.4h-1.4zM91.1 162.7h1.4v1.4h-1.4zM102.6 145.4h1.4v1.4h-1.4zM92.2 160.5h1.4v1.4h-1.4zM90.7 133.3h1.4v1.4h-1.4zM90.4 132.4h1.4v1.4h-1.4zM102.1 147.1h1.4v1.4h-1.4zM75.8 144.1h1.4v1.4h-1.4zM73.4 140.5h1.4v1.4h-1.4zM101.9 152.3h1.4v1.4h-1.4zM81.5 135.9h1.4v1.4h-1.4zM90.9 129.5h1.4v1.4h-1.4zM74.5 142.7h1.4v1.4h-1.4zM73.6 142.8h1.4v1.4h-1.4zM85.0 160.4h1.4v1.4h-1.4zM94.5 133.2h1.4v1.4h-1.4zM88.0 161.2h1.4v1.4h-1.4zM75.4 153.8h1.4v1.4h-1.4zM78.0 158.0h1.4v1.4h-1.4zM74.1 151.5h1.4v1.4h-1.4zM78.6 136.7h1.4v1.4h-1.4zM104.7 145.5h1.4v1.4h-1.4zM90.7 132.9h1.4v1.4h-1.4zM75.7 144.4h1.4v1.4h-1.4zM103.3 147.8h1.4v1.4h-1.4zM99.0 152.8h1.4v1.4h-1.4zM80.8 161.5h1.4v1.4h-1.4zM94.4 130.0h1.4v1.4h-1.4zM76.6 142.9h1.4v1.4h-1.4zM95.7 133.0h1.4v1.4h-1.4zM91.3 132.3h1.4v1.4h-1.4zM72.6 143.4h1.4v1.4h-1.4zM98.6 155.1h1.4v1.4h-1.4zM101.1 154.8h1.4v1.4h-1.4zM81.8 160.3h1.4v1.4h-1.4zM104.6 135.6h1.4v1.4h-1.4zM72.9 147.5h1.4v1.4h-1.4zM104.8 137.1h1.4v1.4h-1.4zM93.3 163.2h1.4v1.4h-1.4zM76.8 139.9h1.4v1.4h-1.4zM74.5 156.3h1.4v1.4h-1.4zM103.7 140.6h1.4v1.4h-1.4zM77.3 155.2h1.4v1.4h-1.4zM94.6 156.9h1.4v1.4h-1.4zM103.7 145.2h1.4v1.4h-1.4zM91.5 132.3h1.4v1.4h-1.4zM94.2 133.8h1.4v1.4h-1.4zM103.4 142.1h1.4v1.4h-1.4zM100.5 150.7h1.4v1.4h-1.4zM79.1 136.7h1.4v1.4h-1.4zM84.0 135.0h1.4v1.4h-1.4zM99.3 135.6h1.4v1.4h-1.4zM89.3 132.6h1.4v1.4h-1.4zM98.9 136.0h1.4v1.4h-1.4zM103.4 135.8h1.4v1.4h-1.4zM79.2 161.1h1.4v1.4h-1.4zM81.9 135.4h1.4v1.4h-1.4zM77.7 158.3h1.4v1.4h-1.4zM88.1 162.2h1.4v1.4h-1.4zM102.7 146.8h1.4v1.4h-1.4zM105.6 139.6h1.4v1.4h-1.4zM103.3 143.5h1.4v1.4h-1.4zM104.7 142.7h1.4v1.4h-1.4zM106.2 145.9h1.4v1.4h-1.4zM103.6 143.6h1.4v1.4h-1.4zM99.4 129.5h1.4v1.4h-1.4zM91.2 158.0h1.4v1.4h-1.4zM80.2 160.1h1.4v1.4h-1.4zM92.7 157.3h1.4v1.4h-1.4zM76.2 158.6h1.4v1.4h-1.4zM84.2 158.8h1.4v1.4h-1.4zM100.1 151.7h1.4v1.4h-1.4zM102.5 146.1h1.4v1.4h-1.4zM88.2 159.5h1.4v1.4h-1.4zM98.2 135.4h1.4v1.4h-1.4zM77.9 137.2h1.4v1.4h-1.4zM88.3 159.0h1.4v1.4h-1.4zM103.6 138.3h1.4v1.4h-1.4zM95.3 132.6h1.4v1.4h-1.4zM84.2 159.7h1.4v1.4h-1.4zM102.5 134.7h1.4v1.4h-1.4zM101.2 150.1h1.4v1.4h-1.4zM74.9 148.9h1.4v1.4h-1.4zM77.6 160.0h1.4v1.4h-1.4zM74.9 158.4h1.4v1.4h-1.4zM80.8 159.1h1.4v1.4h-1.4zM105.0 151.6h1.4v1.4h-1.4zM104.6 149.2h1.4v1.4h-1.4zM83.4 135.6h1.4v1.4h-1.4zM102.0 134.7h1.4v1.4h-1.4zM99.5 153.0h1.4v1.4h-1.4zM76.6 139.1h1.4v1.4h-1.4zM77.3 158.2h1.4v1.4h-1.4zM75.9 159.0h1.4v1.4h-1.4zM81.2 159.2h1.4v1.4h-1.4zM81.3 136.5h1.4v1.4h-1.4zM76.0 144.5h1.4v1.4h-1.4zM92.7 159.1h1.4v1.4h-1.4zM79.3 137.5h1.4v1.4h-1.4zM95.0 157.2h1.4v1.4h-1.4zM74.1 156.4h1.4v1.4h-1.4zM85.6 134.3h1.4v1.4h-1.4zM95.5 158.2h1.4v1.4h-1.4zM75.5 138.5h1.4v1.4h-1.4zM76.1 154.3h1.4v1.4h-1.4zM101.4 138.6h1.4v1.4h-1.4zM97.5 155.4h1.4v1.4h-1.4zM99.0 135.1h1.4v1.4h-1.4zM105.1 144.5h1.4v1.4h-1.4zM98.8 156.2h1.4v1.4h-1.4zM79.3 136.3h1.4v1.4h-1.4zM73.0 148.0h1.4v1.4h-1.4zM103.7 143.1h1.4v1.4h-1.4zM91.0 158.3h1.4v1.4h-1.4zM88.9 129.7h1.4v1.4h-1.4zM76.1 142.5h1.4v1.4h-1.4zM103.1 153.1h1.4v1.4h-1.4zM93.3 132.6h1.4v1.4h-1.4zM81.1 159.4h1.4v1.4h-1.4zM88.1 133.3h1.4v1.4h-1.4zM105.8 137.1h1.4v1.4h-1.4zM103.6 133.7h1.4v1.4h-1.4zM79.9 134.8h1.4v1.4h-1.4zM72.7 157.3h1.4v1.4h-1.4zM93.2 132.9h1.4v1.4h-1.4zM81.5 165.1h1.4v1.4h-1.4zM74.8 142.2h1.4v1.4h-1.4zM102.3 150.1h1.4v1.4h-1.4zM102.7 137.2h1.4v1.4h-1.4zM73.5 148.8h1.4v1.4h-1.4zM92.1 162.0h1.4v1.4h-1.4zM106.3 139.4h1.4v1.4h-1.4zM76.0 144.3h1.4v1.4h-1.4zM76.6 158.5h1.4v1.4h-1.4zM92.4 158.1h1.4v1.4h-1.4zM95.8 132.5h1.4v1.4h-1.4zM104.3 139.2h1.4v1.4h-1.4zM95.9 134.3h1.4v1.4h-1.4zM84.2 134.2h1.4v1.4h-1.4zM102.7 145.3h1.4v1.4h-1.4zM90.3 158.7h1.4v1.4h-1.4zM103.1 145.3h1.4v1.4h-1.4zM84.8 160.1h1.4v1.4h-1.4zM90.9 130.8h1.4v1.4h-1.4zM103.1 138.9h1.4v1.4h-1.4zM93.5 131.7h1.4v1.4h-1.4zM88.5 162.1h1.4v1.4h-1.4zM79.0 139.3h1.4v1.4h-1.4zM100.4 153.8h1.4v1.4h-1.4zM76.6 155.4h1.4v1.4h-1.4zM102.8 142.4h1.4v1.4h-1.4zM84.7 134.0h1.4v1.4h-1.4zM99.3 152.7h1.4v1.4h-1.4zM81.4 133.9h1.4v1.4h-1.4zM102.6 144.3h1.4v1.4h-1.4zM102.4 152.0h1.4v1.4h-1.4zM75.5 154.9h1.4v1.4h-1.4zM96.4 155.8h1.4v1.4h-1.4zM102.6 136.0h1.4v1.4h-1.4zM100.9 155.2h1.4v1.4h-1.4zM93.0 133.1h1.4v1.4h-1.4zM90.5 158.7h1.4v1.4h-1.4zM99.7 153.7h1.4v1.4h-1.4zM73.8 140.3h1.4v1.4h-1.4zM102.4 140.8h1.4v1.4h-1.4zM80.9 158.3h1.4v1.4h-1.4zM87.0 130.9h1.4v1.4h-1.4zM103.1 137.0h1.4v1.4h-1.4zM96.3 156.6h1.4v1.4h-1.4zM75.0 145.0h1.4v1.4h-1.4zM103.5 137.8h1.4v1.4h-1.4zM83.0 161.0h1.4v1.4h-1.4zM101.8 149.8h1.4v1.4h-1.4zM74.9 140.6h1.4v1.4h-1.4zM74.8 151.5h1.4v1.4h-1.4zM96.0 156.9h1.4v1.4h-1.4zM104.3 141.9h1.4v1.4h-1.4zM94.9 157.1h1.4v1.4h-1.4zM79.7 136.5h1.4v1.4h-1.4zM99.6 154.6h1.4v1.4h-1.4zM76.4 154.9h1.4v1.4h-1.4zM78.3 138.5h1.4v1.4h-1.4zM103.5 138.6h1.4v1.4h-1.4zM95.7 130.9h1.4v1.4h-1.4zM81.4 160.0h1.4v1.4h-1.4zM103.5 135.0h1.4v1.4h-1.4zM81.0 161.8h1.4v1.4h-1.4zM74.8 146.7h1.4v1.4h-1.4zM78.1 158.0h1.4v1.4h-1.4zM90.8 158.2h1.4v1.4h-1.4zM92.2 133.6h1.4v1.4h-1.4zM102.9 144.6h1.4v1.4h-1.4zM83.2 159.5h1.4v1.4h-1.4zM80.3 138.1h1.4v1.4h-1.4zM104.8 140.1h1.4v1.4h-1.4zM95.1 131.3h1.4v1.4h-1.4zM97.1 155.0h1.4v1.4h-1.4zM79.0 157.4h1.4v1.4h-1.4zM102.5 144.5h1.4v1.4h-1.4zM103.4 144.8h1.4v1.4h-1.4zM81.9 162.7h1.4v1.4h-1.4zM86.9 160.9h1.4v1.4h-1.4zM76.2 141.3h1.4v1.4h-1.4zM96.3 159.8h1.4v1.4h-1.4zM96.5 158.4h1.4v1.4h-1.4zM94.7 132.8h1.4v1.4h-1.4zM79.9 159.6h1.4v1.4h-1.4zM88.8 161.4h1.4v1.4h-1.4zM88.7 158.9h1.4v1.4h-1.4zM74.8 141.7h1.4v1.4h-1.4zM75.1 145.5h1.4v1.4h-1.4zM102.6 136.9h1.4v1.4h-1.4zM75.3 141.8h1.4v1.4h-1.4zM102.6 149.9h1.4v1.4h-1.4zM98.9 135.7h1.4v1.4h-1.4zM74.8 143.1h1.4v1.4h-1.4zM85.9 131.6h1.4v1.4h-1.4zM96.3 134.2h1.4v1.4h-1.4zM78.5 157.4h1.4v1.4h-1.4zM91.5 158.1h1.4v1.4h-1.4zM96.1 133.3h1.4v1.4h-1.4zM101.0 150.6h1.4v1.4h-1.4zM101.2 137.6h1.4v1.4h-1.4zM99.2 134.3h1.4v1.4h-1.4zM104.7 147.3h1.4v1.4h-1.4zM95.6 156.7h1.4v1.4h-1.4zM77.4 156.8h1.4v1.4h-1.4zM76.9 159.1h1.4v1.4h-1.4zM93.3 157.5h1.4v1.4h-1.4zM102.8 137.4h1.4v1.4h-1.4zM83.1 131.4h1.4v1.4h-1.4zM102.8 145.9h1.4v1.4h-1.4zM89.9 161.5h1.4v1.4h-1.4zM74.5 147.9h1.4v1.4h-1.4zM105.3 136.2h1.4v1.4h-1.4zM104.4 147.9h1.4v1.4h-1.4zM75.4 151.6h1.4v1.4h-1.4zM78.9 137.5h1.4v1.4h-1.4zM98.3 135.0h1.4v1.4h-1.4zM104.4 144.9h1.4v1.4h-1.4zM89.6 132.5h1.4v1.4h-1.4zM105.0 142.0h1.4v1.4h-1.4zM101.7 139.2h1.4v1.4h-1.4zM93.1 161.0h1.4v1.4h-1.4zM87.3 159.1h1.4v1.4h-1.4zM76.2 143.0h1.4v1.4h-1.4zM75.5 157.2h1.4v1.4h-1.4zM102.9 144.1h1.4v1.4h-1.4zM102.3 146.5h1.4v1.4h-1.4zM79.4 161.0h1.4v1.4h-1.4zM74.8 150.9h1.4v1.4h-1.4zM74.3 144.5h1.4v1.4h-1.4zM106.1 137.4h1.4v1.4h-1.4zM79.9 135.4h1.4v1.4h-1.4zM97.8 156.9h1.4v1.4h-1.4zM75.9 144.0h1.4v1.4h-1.4zM81.7 132.7h1.4v1.4h-1.4zM93.8 132.5h1.4v1.4h-1.4zM87.7 161.8h1.4v1.4h-1.4zM97.0 155.9h1.4v1.4h-1.4zM103.0 145.3h1.4v1.4h-1.4zM74.4 150.5h1.4v1.4h-1.4zM105.6 147.5h1.4v1.4h-1.4zM105.3 143.0h1.4v1.4h-1.4zM106.7 142.1h1.4v1.4h-1.4zM86.3 131.6h1.4v1.4h-1.4zM88.7 134.0h1.4v1.4h-1.4zM107.4 144.4h1.4v1.4h-1.4zM102.9 148.3h1.4v1.4h-1.4zM76.0 142.3h1.4v1.4h-1.4zM103.3 144.2h1.4v1.4h-1.4zM82.4 159.5h1.4v1.4h-1.4zM75.4 152.5h1.4v1.4h-1.4zM79.6 136.8h1.4v1.4h-1.4zM81.0 137.7h1.4v1.4h-1.4zM91.0 132.8h1.4v1.4h-1.4zM76.6 157.9h1.4v1.4h-1.4zM83.6 159.8h1.4v1.4h-1.4zM99.8 134.8h1.4v1.4h-1.4zM72.6 146.5h1.4v1.4h-1.4zM96.3 156.7h1.4v1.4h-1.4zM76.1 153.2h1.4v1.4h-1.4zM74.7 149.3h1.4v1.4h-1.4zM87.2 133.7h1.4v1.4h-1.4zM103.2 144.0h1.4v1.4h-1.4zM73.1 155.7h1.4v1.4h-1.4zM104.2 143.1h1.4v1.4h-1.4zM80.9 134.3h1.4v1.4h-1.4zM89.3 160.4h1.4v1.4h-1.4zM74.6 145.1h1.4v1.4h-1.4zM99.0 153.5h1.4v1.4h-1.4zM90.2 158.8h1.4v1.4h-1.4zM72.7 153.5h1.4v1.4h-1.4zM78.8 156.7h1.4v1.4h-1.4zM75.8 144.8h1.4v1.4h-1.4zM105.4 144.5h1.4v1.4h-1.4zM76.1 154.4h1.4v1.4h-1.4zM104.1 148.6h1.4v1.4h-1.4zM88.4 164.3h1.4v1.4h-1.4zM76.4 141.9h1.4v1.4h-1.4zM83.5 159.0h1.4v1.4h-1.4zM92.1 159.4h1.4v1.4h-1.4zM96.5 155.4h1.4v1.4h-1.4zM84.5 159.0h1.4v1.4h-1.4zM98.2 133.0h1.4v1.4h-1.4zM86.7 162.7h1.4v1.4h-1.4zM106.3 149.0h1.4v1.4h-1.4zM71.4 147.8h1.4v1.4h-1.4zM75.9 154.8h1.4v1.4h-1.4zM102.1 140.5h1.4v1.4h-1.4zM77.7 137.0h1.4v1.4h-1.4zM103.8 144.3h1.4v1.4h-1.4zM92.9 157.4h1.4v1.4h-1.4zM76.8 157.8h1.4v1.4h-1.4zM90.2 133.8h1.4v1.4h-1.4zM83.4 159.7h1.4v1.4h-1.4zM93.6 161.0h1.4v1.4h-1.4zM105.6 145.1h1.4v1.4h-1.4zM78.0 156.0h1.4v1.4h-1.4zM95.6 156.1h1.4v1.4h-1.4zM103.9 149.1h1.4v1.4h-1.4zM97.7 134.5h1.4v1.4h-1.4zM84.5 159.4h1.4v1.4h-1.4zM75.2 142.3h1.4v1.4h-1.4zM81.0 162.6h1.4v1.4h-1.4zM103.6 142.6h1.4v1.4h-1.4zM104.7 140.0h1.4v1.4h-1.4zM81.5 158.8h1.4v1.4h-1.4zM73.9 142.3h1.4v1.4h-1.4zM99.4 135.6h1.4v1.4h-1.4zM75.6 159.9h1.4v1.4h-1.4zM78.4 136.8h1.4v1.4h-1.4zM94.7 129.2h1.4v1.4h-1.4zM88.9 133.7h1.4v1.4h-1.4zM78.7 158.8h1.4v1.4h-1.4zM78.5 139.7h1.4v1.4h-1.4zM104.6 146.7h1.4v1.4h-1.4zM101.6 133.9h1.4v1.4h-1.4zM86.8 163.4h1.4v1.4h-1.4zM77.2 139.6h1.4v1.4h-1.4zM106.5 143.7h1.4v1.4h-1.4zM104.7 151.0h1.4v1.4h-1.4zM97.8 135.0h1.4v1.4h-1.4zM70.5 152.8h1.4v1.4h-1.4zM83.4 158.7h1.4v1.4h-1.4zM73.5 149.2h1.4v1.4h-1.4zM91.3 130.5h1.4v1.4h-1.4zM77.6 159.5h1.4v1.4h-1.4zM75.5 152.0h1.4v1.4h-1.4zM78.4 159.1h1.4v1.4h-1.4zM82.1 158.8h1.4v1.4h-1.4zM102.2 151.3h1.4v1.4h-1.4zM76.2 142.5h1.4v1.4h-1.4zM85.2 160.3h1.4v1.4h-1.4zM72.3 141.8h1.4v1.4h-1.4zM89.2 132.6h1.4v1.4h-1.4zM103.0 144.2h1.4v1.4h-1.4zM91.4 131.7h1.4v1.4h-1.4zM74.1 157.4h1.4v1.4h-1.4zM87.7 162.1h1.4v1.4h-1.4zM98.7 132.7h1.4v1.4h-1.4zM88.9 159.6h1.4v1.4h-1.4zM73.7 147.0h1.4v1.4h-1.4zM90.3 158.7h1.4v1.4h-1.4zM77.4 156.0h1.4v1.4h-1.4zM85.7 158.9h1.4v1.4h-1.4zM103.4 144.5h1.4v1.4h-1.4zM81.2 158.3h1.4v1.4h-1.4zM74.3 150.7h1.4v1.4h-1.4zM85.6 159.2h1.4v1.4h-1.4zM107.9 146.8h1.4v1.4h-1.4zM96.5 130.9h1.4v1.4h-1.4zM97.2 155.3h1.4v1.4h-1.4zM98.4 156.2h1.4v1.4h-1.4zM97.8 132.3h1.4v1.4h-1.4zM71.6 150.1h1.4v1.4h-1.4zM73.1 143.1h1.4v1.4h-1.4zM86.3 161.0h1.4v1.4h-1.4zM75.5 155.6h1.4v1.4h-1.4zM101.6 154.0h1.4v1.4h-1.4zM97.8 157.3h1.4v1.4h-1.4zM93.6 133.6h1.4v1.4h-1.4zM74.2 152.0h1.4v1.4h-1.4zM75.6 160.0h1.4v1.4h-1.4zM103.6 149.6h1.4v1.4h-1.4zM103.1 133.0h1.4v1.4h-1.4zM99.0 135.9h1.4v1.4h-1.4zM90.5 158.2h1.4v1.4h-1.4zM78.4 159.6h1.4v1.4h-1.4zM100.1 135.8h1.4v1.4h-1.4zM95.3 131.0h1.4v1.4h-1.4zM98.8 133.6h1.4v1.4h-1.4zM80.2 158.7h1.4v1.4h-1.4zM96.0 155.4h1.4v1.4h-1.4zM102.6 146.1h1.4v1.4h-1.4zM98.9 133.8h1.4v1.4h-1.4zM99.8 133.3h1.4v1.4h-1.4zM96.5 155.0h1.4v1.4h-1.4zM87.5 160.9h1.4v1.4h-1.4zM83.9 160.4h1.4v1.4h-1.4zM103.1 138.5h1.4v1.4h-1.4zM77.0 140.1h1.4v1.4h-1.4zM73.9 148.6h1.4v1.4h-1.4zM78.8 158.7h1.4v1.4h-1.4zM99.3 136.2h1.4v1.4h-1.4zM88.8 162.9h1.4v1.4h-1.4zM87.0 131.4h1.4v1.4h-1.4zM98.8 154.5h1.4v1.4h-1.4zM78.3 140.2h1.4v1.4h-1.4zM99.1 135.8h1.4v1.4h-1.4zM97.6 154.6h1.4v1.4h-1.4zM94.7 133.1h1.4v1.4h-1.4zM100.8 136.4h1.4v1.4h-1.4zM81.6 160.3h1.4v1.4h-1.4zM101.2 134.4h1.4v1.4h-1.4zM104.8 148.8h1.4v1.4h-1.4zM79.6 137.3h1.4v1.4h-1.4zM104.7 137.9h1.4v1.4h-1.4zM89.7 132.1h1.4v1.4h-1.4zM96.0 159.0h1.4v1.4h-1.4zM96.6 157.1h1.4v1.4h-1.4zM78.5 138.6h1.4v1.4h-1.4zM105.0 139.6h1.4v1.4h-1.4zM96.6 155.7h1.4v1.4h-1.4zM93.3 131.7h1.4v1.4h-1.4zM92.7 163.9h1.4v1.4h-1.4zM75.1 145.5h1.4v1.4h-1.4zM93.7 157.0h1.4v1.4h-1.4zM92.4 131.7h1.4v1.4h-1.4zM89.1 133.6h1.4v1.4h-1.4zM89.1 132.4h1.4v1.4h-1.4zM78.3 137.7h1.4v1.4h-1.4zM92.8 133.8h1.4v1.4h-1.4zM72.6 149.4h1.4v1.4h-1.4zM99.9 154.5h1.4v1.4h-1.4zM82.0 134.3h1.4v1.4h-1.4zM80.5 137.6h1.4v1.4h-1.4zM74.7 147.2h1.4v1.4h-1.4zM82.3 133.7h1.4v1.4h-1.4zM88.8 158.6h1.4v1.4h-1.4zM88.4 158.7h1.4v1.4h-1.4zM99.2 134.1h1.4v1.4h-1.4zM101.9 137.9h1.4v1.4h-1.4zM81.1 136.3h1.4v1.4h-1.4zM75.7 157.1h1.4v1.4h-1.4zM98.2 134.4h1.4v1.4h-1.4zM92.6 132.1h1.4v1.4h-1.4zM86.7 132.6h1.4v1.4h-1.4zM75.3 145.4h1.4v1.4h-1.4zM73.7 150.7h1.4v1.4h-1.4zM102.0 150.4h1.4v1.4h-1.4zM90.9 160.6h1.4v1.4h-1.4zM104.9 148.8h1.4v1.4h-1.4zM94.6 131.5h1.4v1.4h-1.4zM72.8 151.7h1.4v1.4h-1.4zM74.9 147.0h1.4v1.4h-1.4zM81.2 136.4h1.4v1.4h-1.4zM102.6 143.5h1.4v1.4h-1.4zM83.8 159.9h1.4v1.4h-1.4zM101.2 151.5h1.4v1.4h-1.4zM91.4 160.7h1.4v1.4h-1.4zM92.7 159.3h1.4v1.4h-1.4zM99.5 134.0h1.4v1.4h-1.4zM102.2 149.9h1.4v1.4h-1.4zM102.4 137.8h1.4v1.4h-1.4zM104.2 149.0h1.4v1.4h-1.4zM102.4 141.6h1.4v1.4h-1.4zM101.3 135.1h1.4v1.4h-1.4zM85.3 160.7h1.4v1.4h-1.4zM97.1 132.3h1.4v1.4h-1.4zM103.7 142.1h1.4v1.4h-1.4zM91.6 160.5h1.4v1.4h-1.4zM83.9 131.9h1.4v1.4h-1.4zM83.5 132.6h1.4v1.4h-1.4zM78.8 158.9h1.4v1.4h-1.4zM102.3 147.3h1.4v1.4h-1.4zM86.2 134.6h1.4v1.4h-1.4zM101.6 138.5h1.4v1.4h-1.4zM104.2 140.3h1.4v1.4h-1.4zM74.5 150.7h1.4v1.4h-1.4zM97.7 133.4h1.4v1.4h-1.4zM92.2 133.3h1.4v1.4h-1.4zM74.6 154.9h1.4v1.4h-1.4zM76.3 139.5h1.4v1.4h-1.4zM103.7 145.7h1.4v1.4h-1.4zM86.8 133.6h1.4v1.4h-1.4zM74.0 149.7h1.4v1.4h-1.4zM102.2 150.2h1.4v1.4h-1.4zM97.2 133.2h1.4v1.4h-1.4zM89.5 161.2h1.4v1.4h-1.4zM95.4 129.8h1.4v1.4h-1.4zM86.2 160.8h1.4v1.4h-1.4zM74.3 150.0h1.4v1.4h-1.4zM89.6 159.8h1.4v1.4h-1.4zM83.1 133.6h1.4v1.4h-1.4zM76.8 157.8h1.4v1.4h-1.4zM82.3 134.9h1.4v1.4h-1.4zM103.9 148.4h1.4v1.4h-1.4zM102.3 154.5h1.4v1.4h-1.4zM89.5 159.1h1.4v1.4h-1.4zM104.1 148.5h1.4v1.4h-1.4zM89.8 131.9h1.4v1.4h-1.4zM72.1 148.2h1.4v1.4h-1.4zM86.4 133.1h1.4v1.4h-1.4zM81.3 158.6h1.4v1.4h-1.4zM95.2 134.2h1.4v1.4h-1.4zM82.9 161.7h1.4v1.4h-1.4zM82.9 160.9h1.4v1.4h-1.4zM99.7 136.7h1.4v1.4h-1.4zM82.6 133.4h1.4v1.4h-1.4zM102.1 136.0h1.4v1.4h-1.4zM99.7 135.7h1.4v1.4h-1.4zM89.8 158.6h1.4v1.4h-1.4zM76.3 159.4h1.4v1.4h-1.4zM105.4 138.7h1.4v1.4h-1.4zM104.6 147.6h1.4v1.4h-1.4zM99.9 133.3h1.4v1.4h-1.4zM103.3 142.5h1.4v1.4h-1.4zM97.0 133.9h1.4v1.4h-1.4zM97.0 132.0h1.4v1.4h-1.4zM83.8 131.3h1.4v1.4h-1.4zM78.0 139.5h1.4v1.4h-1.4zM99.5 152.1h1.4v1.4h-1.4zM82.5 134.0h1.4v1.4h-1.4zM95.7 156.8h1.4v1.4h-1.4zM97.6 130.4h1.4v1.4h-1.4zM102.9 138.5h1.4v1.4h-1.4zM107.8 139.5h1.4v1.4h-1.4zM95.9 133.2h1.4v1.4h-1.4zM93.3 133.1h1.4v1.4h-1.4zM100.2 136.9h1.4v1.4h-1.4zM107.4 143.3h1.4v1.4h-1.4zM85.3 161.2h1.4v1.4h-1.4zM103.2 139.2h1.4v1.4h-1.4zM74.9 145.5h1.4v1.4h-1.4zM85.9 161.1h1.4v1.4h-1.4zM77.4 137.4h1.4v1.4h-1.4zM73.0 150.1h1.4v1.4h-1.4zM77.6 157.6h1.4v1.4h-1.4zM74.3 150.9h1.4v1.4h-1.4zM75.5 157.4h1.4v1.4h-1.4zM74.2 145.8h1.4v1.4h-1.4zM102.2 155.5h1.4v1.4h-1.4zM96.4 155.7h1.4v1.4h-1.4zM75.6 140.3h1.4v1.4h-1.4zM104.7 152.1h1.4v1.4h-1.4zM96.6 156.3h1.4v1.4h-1.4zM78.2 140.0h1.4v1.4h-1.4zM90.4 130.6h1.4v1.4h-1.4zM77.4 157.2h1.4v1.4h-1.4zM77.2 138.2h1.4v1.4h-1.4zM90.8 132.7h1.4v1.4h-1.4zM81.8 134.6h1.4v1.4h-1.4zM95.8 159.7h1.4v1.4h-1.4zM75.3 152.4h1.4v1.4h-1.4zM88.2 131.0h1.4v1.4h-1.4zM74.9 145.1h1.4v1.4h-1.4zM94.9 132.7h1.4v1.4h-1.4zM98.3 154.6h1.4v1.4h-1.4zM74.1 150.1h1.4v1.4h-1.4zM98.7 135.0h1.4v1.4h-1.4zM72.6 151.7h1.4v1.4h-1.4zM82.5 133.4h1.4v1.4h-1.4zM78.8 159.1h1.4v1.4h-1.4zM99.9 152.5h1.4v1.4h-1.4zM103.8 142.8h1.4v1.4h-1.4zM78.7 161.9h1.4v1.4h-1.4zM107.5 138.9h1.4v1.4h-1.4zM93.6 157.8h1.4v1.4h-1.4zM75.2 147.9h1.4v1.4h-1.4zM91.4 133.1h1.4v1.4h-1.4zM75.4 142.0h1.4v1.4h-1.4zM79.8 137.7h1.4v1.4h-1.4zM91.4 132.9h1.4v1.4h-1.4zM101.7 138.7h1.4v1.4h-1.4zM82.5 158.6h1.4v1.4h-1.4zM78.6 137.4h1.4v1.4h-1.4zM79.5 139.1h1.4v1.4h-1.4zM75.9 143.1h1.4v1.4h-1.4zM81.9 160.0h1.4v1.4h-1.4zM97.1 133.4h1.4v1.4h-1.4zM78.7 157.9h1.4v1.4h-1.4zM103.7 145.6h1.4v1.4h-1.4zM86.5 133.9h1.4v1.4h-1.4zM92.9 160.0h1.4v1.4h-1.4zM78.6 136.5h1.4v1.4h-1.4zM107.9 141.8h1.4v1.4h-1.4zM80.2 159.0h1.4v1.4h-1.4zM104.2 143.0h1.4v1.4h-1.4zM83.8 160.1h1.4v1.4h-1.4zM95.5 131.5h1.4v1.4h-1.4zM94.3 132.0h1.4v1.4h-1.4zM103.1 146.7h1.4v1.4h-1.4zM103.1 136.7h1.4v1.4h-1.4zM94.8 129.3h1.4v1.4h-1.4zM103.6 142.0h1.4v1.4h-1.4zM81.0 136.7h1.4v1.4h-1.4zM77.0 155.2h1.4v1.4h-1.4zM98.8 154.3h1.4v1.4h-1.4zM74.9 151.3h1.4v1.4h-1.4zM100.8 136.4h1.4v1.4h-1.4zM75.3 154.4h1.4v1.4h-1.4zM95.4 156.9h1.4v1.4h-1.4zM104.6 139.9h1.4v1.4h-1.4zM102.6 145.4h1.4v1.4h-1.4zM73.0 153.4h1.4v1.4h-1.4zM101.7 136.3h1.4v1.4h-1.4zM74.1 148.5h1.4v1.4h-1.4zM102.2 145.9h1.4v1.4h-1.4zM92.7 132.7h1.4v1.4h-1.4zM72.8 155.7h1.4v1.4h-1.4zM75.0 152.0h1.4v1.4h-1.4zM74.7 151.9h1.4v1.4h-1.4zM104.8 139.3h1.4v1.4h-1.4zM83.9 134.8h1.4v1.4h-1.4zM105.6 131.1h1.4v1.4h-1.4zM96.3 134.2h1.4v1.4h-1.4zM89.8 159.5h1.4v1.4h-1.4zM102.9 139.6h1.4v1.4h-1.4zM77.6 160.2h1.4v1.4h-1.4zM97.3 134.7h1.4v1.4h-1.4zM93.8 131.8h1.4v1.4h-1.4zM96.4 133.1h1.4v1.4h-1.4zM83.6 159.9h1.4v1.4h-1.4zM98.1 154.8h1.4v1.4h-1.4zM93.5 157.1h1.4v1.4h-1.4zM73.7 151.5h1.4v1.4h-1.4zM80.3 159.4h1.4v1.4h-1.4zM94.2 133.5h1.4v1.4h-1.4zM87.9 132.3h1.4v1.4h-1.4zM79.6 158.3h1.4v1.4h-1.4zM80.8 161.5h1.4v1.4h-1.4zM76.1 142.2h1.4v1.4h-1.4zM76.1 143.2h1.4v1.4h-1.4zM75.3 152.6h1.4v1.4h-1.4zM80.9 135.4h1.4v1.4h-1.4zM77.6 140.6h1.4v1.4h-1.4zM98.0 155.5h1.4v1.4h-1.4zM73.4 149.9h1.4v1.4h-1.4zM89.2 131.1h1.4v1.4h-1.4zM71.8 145.1h1.4v1.4h-1.4zM94.6 156.8h1.4v1.4h-1.4zM83.3 158.9h1.4v1.4h-1.4zM76.3 160.1h1.4v1.4h-1.4zM75.7 159.8h1.4v1.4h-1.4zM92.6 158.2h1.4v1.4h-1.4zM83.6 162.7h1.4v1.4h-1.4zM84.8 134.2h1.4v1.4h-1.4zM103.8 150.0h1.4v1.4h-1.4zM95.9 157.3h1.4v1.4h-1.4zM64.8 156.5h1.4v1.4h-1.4zM43.9 191.3h1.4v1.4h-1.4zM33.8 198.6h1.4v1.4h-1.4zM99.0 197.1h1.4v1.4h-1.4zM99.9 224.7h1.4v1.4h-1.4zM103.3 220.3h1.4v1.4h-1.4zM186.0 62.3h1.4v1.4h-1.4zM183.3 65.3h1.4v1.4h-1.4z" fill="#bebebe"/><path d="M92.0 136.6 L93.8 135.1 L95.6 133.6 L97.4 132.0 L99.2 130.5 L101.0 129.0 L102.8 127.5 L104.6 125.9 L106.4 124.4 L108.2 122.9 L110.0 121.4 L111.8 119.8 L113.6 118.3 L115.4 116.8 L117.2 115.3 L119.0 113.7 L120.8 112.2 L122.6 110.7 L124.4 109.2 L126.2 107.6 L128.0 106.1 L128.0 106.1 L126.0 107.4 L124.0 108.7 L121.9 110.1 L119.9 111.4 L117.9 112.7 L115.8 114.0 L113.8 115.3 L111.8 116.6 L109.7 117.9 L107.7 119.2 L105.7 120.5 L103.6 121.9 L101.6 123.2 L99.6 124.5 L97.5 125.8 L95.5 127.1 L93.5 128.4 L91.4 129.7 L89.4 131.0 L87.4 132.4Z" fill="#ff0000"/><path d="M98.8 122.9h1.4v1.4h-1.4zM113.0 114.3h1.4v1.4h-1.4zM100.5 126.6h1.4v1.4h-1.4zM101.5 121.6h1.4v1.4h-1.4zM97.1 129.6h1.4v1.4h-1.4zM113.0 114.4h1.4v1.4h-1.4zM93.7 130.8h1.4v1.4h-1.4zM107.1 121.4h1.4v1.4h-1.4zM110.4 117.2h1.4v1.4h-1.4zM100.2 127.9h1.4v1.4h-1.4zM118.3 110.8h1.4v1.4h-1.4zM116.2 113.8h1.4v1.4h-1.4zM129.7 100.7h1.4v1.4h-1.4zM98.6 127.1h1.4v1.4h-1.4zM145.0 85.6h1.4v1.4h-1.4zM89.6 130.3h1.4v1.4h-1.4zM105.9 118.3h1.4v1.4h-1.4zM111.5 113.6h1.4v1.4h-1.4zM85.4 130.4h1.4v1.4h-1.4zM105.5 121.9h1.4v1.4h-1.4zM94.3 127.7h1.4v1.4h-1.4zM96.1 131.8h1.4v1.4h-1.4zM105.6 117.0h1.4v1.4h-1.4zM93.8 133.4h1.4v1.4h-1.4zM101.4 121.6h1.4v1.4h-1.4zM92.1 134.1h1.4v1.4h-1.4zM113.8 115.9h1.4v1.4h-1.4zM92.8 134.0h1.4v1.4h-1.4zM149.1 79.7h1.4v1.4h-1.4zM107.7 119.8h1.4v1.4h-1.4zM88.4 132.6h1.4v1.4h-1.4zM117.3 111.3h1.4v1.4h-1.4zM91.6 132.2h1.4v1.4h-1.4zM95.3 131.2h1.4v1.4h-1.4zM107.5 121.0h1.4v1.4h-1.4zM94.8 128.1h1.4v1.4h-1.4zM91.2 135.2h1.4v1.4h-1.4zM88.8 131.7h1.4v1.4h-1.4zM94.1 133.4h1.4v1.4h-1.4zM135.8 93.8h1.4v1.4h-1.4zM87.9 132.5h1.4v1.4h-1.4zM99.5 124.0h1.4v1.4h-1.4zM121.6 105.0h1.4v1.4h-1.4zM121.7 108.2h1.4v1.4h-1.4zM112.6 115.9h1.4v1.4h-1.4zM91.5 131.4h1.4v1.4h-1.4zM93.2 133.9h1.4v1.4h-1.4zM89.1 125.2h1.4v1.4h-1.4zM95.4 126.2h1.4v1.4h-1.4zM118.8 109.4h1.4v1.4h-1.4zM122.2 108.0h1.4v1.4h-1.4zM118.9 107.3h1.4v1.4h-1.4zM98.2 128.0h1.4v1.4h-1.4zM104.4 116.8h1.4v1.4h-1.4zM94.7 130.5h1.4v1.4h-1.4zM106.8 117.6h1.4v1.4h-1.4zM109.4 118.5h1.4v1.4h-1.4zM89.5 128.7h1.4v1.4h-1.4zM102.0 124.6h1.4v1.4h-1.4zM90.4 130.3h1.4v1.4h-1.4zM93.5 130.4h1.4v1.4h-1.4zM112.8 117.5h1.4v1.4h-1.4zM123.2 107.4h1.4v1.4h-1.4zM97.6 127.2h1.4v1.4h-1.4zM124.6 105.3h1.4v1.4h-1.4zM119.9 111.6h1.4v1.4h-1.4zM123.6 105.0h1.4v1.4h-1.4zM120.5 106.0h1.4v1.4h-1.4zM93.5 128.1h1.4v1.4h-1.4zM99.0 128.9h1.4v1.4h-1.4zM92.1 132.1h1.4v1.4h-1.4zM108.7 118.8h1.4v1.4h-1.4zM96.4 125.8h1.4v1.4h-1.4zM97.8 126.9h1.4v1.4h-1.4zM89.3 133.7h1.4v1.4h-1.4zM90.3 133.8h1.4v1.4h-1.4zM96.4 129.5h1.4v1.4h-1.4zM100.0 126.2h1.4v1.4h-1.4zM117.3 111.5h1.4v1.4h-1.4zM118.8 110.4h1.4v1.4h-1.4zM95.9 128.9h1.4v1.4h-1.4zM92.3 131.0h1.4v1.4h-1.4zM103.0 124.4h1.4v1.4h-1.4zM110.1 114.8h1.4v1.4h-1.4zM102.3 121.3h1.4v1.4h-1.4zM104.6 120.6h1.4v1.4h-1.4zM101.3 125.6h1.4v1.4h-1.4zM90.6 122.5h1.4v1.4h-1.4zM89.1 133.7h1.4v1.4h-1.4zM99.2 127.1h1.4v1.4h-1.4zM121.1 106.8h1.4v1.4h-1.4zM93.2 133.0h1.4v1.4h-1.4zM92.9 127.5h1.4v1.4h-1.4zM106.0 120.0h1.4v1.4h-1.4zM113.7 110.7h1.4v1.4h-1.4zM107.5 117.9h1.4v1.4h-1.4zM95.0 131.3h1.4v1.4h-1.4zM123.0 106.2h1.4v1.4h-1.4zM112.3 109.5h1.4v1.4h-1.4zM139.7 93.7h1.4v1.4h-1.4zM100.8 125.7h1.4v1.4h-1.4zM98.5 126.8h1.4v1.4h-1.4zM91.3 135.3h1.4v1.4h-1.4zM101.1 123.9h1.4v1.4h-1.4zM111.6 113.7h1.4v1.4h-1.4zM91.3 132.0h1.4v1.4h-1.4zM92.7 131.7h1.4v1.4h-1.4zM139.7 90.2h1.4v1.4h-1.4zM110.7 114.6h1.4v1.4h-1.4zM98.5 126.5h1.4v1.4h-1.4zM104.2 120.7h1.4v1.4h-1.4zM115.2 110.7h1.4v1.4h-1.4zM107.2 117.6h1.4v1.4h-1.4zM110.2 117.9h1.4v1.4h-1.4zM88.5 129.4h1.4v1.4h-1.4zM113.5 113.0h1.4v1.4h-1.4zM117.9 98.8h1.4v1.4h-1.4zM99.1 128.4h1.4v1.4h-1.4zM102.7 125.2h1.4v1.4h-1.4zM99.4 128.7h1.4v1.4h-1.4zM131.7 101.2h1.4v1.4h-1.4zM106.7 121.6h1.4v1.4h-1.4zM109.4 120.6h1.4v1.4h-1.4zM113.8 112.1h1.4v1.4h-1.4zM132.0 96.9h1.4v1.4h-1.4zM89.7 132.9h1.4v1.4h-1.4zM91.9 130.7h1.4v1.4h-1.4zM123.9 108.3h1.4v1.4h-1.4zM104.8 123.6h1.4v1.4h-1.4zM96.9 127.4h1.4v1.4h-1.4zM94.0 131.8h1.4v1.4h-1.4zM106.3 112.3h1.4v1.4h-1.4zM94.9 128.4h1.4v1.4h-1.4zM93.7 132.9h1.4v1.4h-1.4zM114.5 106.1h1.4v1.4h-1.4zM121.2 105.2h1.4v1.4h-1.4zM96.4 131.1h1.4v1.4h-1.4zM104.2 123.0h1.4v1.4h-1.4zM115.1 108.7h1.4v1.4h-1.4zM100.6 125.0h1.4v1.4h-1.4zM118.6 112.7h1.4v1.4h-1.4zM120.4 99.6h1.4v1.4h-1.4zM93.1 126.2h1.4v1.4h-1.4zM92.6 132.9h1.4v1.4h-1.4zM114.9 105.1h1.4v1.4h-1.4zM100.2 126.0h1.4v1.4h-1.4zM101.1 126.1h1.4v1.4h-1.4zM100.6 126.0h1.4v1.4h-1.4zM96.7 130.0h1.4v1.4h-1.4zM89.8 134.5h1.4v1.4h-1.4zM123.9 107.5h1.4v1.4h-1.4zM124.5 106.0h1.4v1.4h-1.4zM105.7 122.9h1.4v1.4h-1.4zM104.4 121.0h1.4v1.4h-1.4zM96.1 126.1h1.4v1.4h-1.4zM122.7 104.3h1.4v1.4h-1.4zM93.1 133.6h1.4v1.4h-1.4zM112.1 116.4h1.4v1.4h-1.4zM92.2 133.4h1.4v1.4h-1.4zM108.6 117.4h1.4v1.4h-1.4zM98.4 128.2h1.4v1.4h-1.4zM112.2 117.8h1.4v1.4h-1.4zM101.8 124.1h1.4v1.4h-1.4zM112.9 114.2h1.4v1.4h-1.4zM109.7 113.5h1.4v1.4h-1.4zM127.6 102.0h1.4v1.4h-1.4zM98.6 126.8h1.4v1.4h-1.4zM103.4 121.1h1.4v1.4h-1.4zM123.4 108.4h1.4v1.4h-1.4zM112.4 115.0h1.4v1.4h-1.4zM94.9 130.7h1.4v1.4h-1.4zM121.5 103.1h1.4v1.4h-1.4zM109.9 113.6h1.4v1.4h-1.4zM112.8 114.0h1.4v1.4h-1.4zM91.4 131.2h1.4v1.4h-1.4zM102.6 115.9h1.4v1.4h-1.4zM102.2 119.5h1.4v1.4h-1.4zM112.0 113.4h1.4v1.4h-1.4zM91.6 131.6h1.4v1.4h-1.4zM103.3 117.4h1.4v1.4h-1.4zM100.9 124.2h1.4v1.4h-1.4zM116.3 112.7h1.4v1.4h-1.4zM111.7 117.2h1.4v1.4h-1.4zM110.6 118.7h1.4v1.4h-1.4zM114.6 106.4h1.4v1.4h-1.4zM107.3 117.7h1.4v1.4h-1.4zM110.4 113.4h1.4v1.4h-1.4zM107.1 121.0h1.4v1.4h-1.4zM123.3 108.8h1.4v1.4h-1.4zM101.0 127.1h1.4v1.4h-1.4zM97.0 128.6h1.4v1.4h-1.4zM95.2 117.3h1.4v1.4h-1.4zM107.2 119.8h1.4v1.4h-1.4zM112.3 115.2h1.4v1.4h-1.4zM122.4 104.4h1.4v1.4h-1.4zM91.1 132.9h1.4v1.4h-1.4zM128.7 102.9h1.4v1.4h-1.4zM130.2 100.7h1.4v1.4h-1.4zM121.2 108.2h1.4v1.4h-1.4zM93.9 131.6h1.4v1.4h-1.4zM98.0 121.4h1.4v1.4h-1.4zM116.1 108.3h1.4v1.4h-1.4zM100.9 123.1h1.4v1.4h-1.4zM122.8 103.0h1.4v1.4h-1.4zM98.3 129.5h1.4v1.4h-1.4zM117.6 106.7h1.4v1.4h-1.4zM124.0 104.9h1.4v1.4h-1.4zM114.2 116.1h1.4v1.4h-1.4zM97.6 118.7h1.4v1.4h-1.4zM88.1 130.8h1.4v1.4h-1.4zM133.5 94.1h1.4v1.4h-1.4zM96.9 127.4h1.4v1.4h-1.4zM103.8 120.9h1.4v1.4h-1.4zM118.2 110.4h1.4v1.4h-1.4zM88.1 131.9h1.4v1.4h-1.4zM103.4 123.6h1.4v1.4h-1.4zM108.4 113.5h1.4v1.4h-1.4zM93.5 130.5h1.4v1.4h-1.4zM89.5 132.7h1.4v1.4h-1.4zM128.4 99.7h1.4v1.4h-1.4zM106.6 113.4h1.4v1.4h-1.4zM89.3 130.7h1.4v1.4h-1.4zM96.9 130.8h1.4v1.4h-1.4zM113.5 110.7h1.4v1.4h-1.4zM127.0 105.1h1.4v1.4h-1.4zM103.2 124.1h1.4v1.4h-1.4zM96.4 123.4h1.4v1.4h-1.4zM97.9 121.5h1.4v1.4h-1.4zM112.2 116.1h1.4v1.4h-1.4zM95.2 129.9h1.4v1.4h-1.4zM94.9 123.6h1.4v1.4h-1.4zM118.1 112.7h1.4v1.4h-1.4zM97.2 129.7h1.4v1.4h-1.4zM121.9 107.8h1.4v1.4h-1.4zM99.4 126.0h1.4v1.4h-1.4zM105.0 120.9h1.4v1.4h-1.4zM95.3 129.3h1.4v1.4h-1.4zM110.9 114.4h1.4v1.4h-1.4zM101.0 123.9h1.4v1.4h-1.4zM117.2 111.9h1.4v1.4h-1.4zM107.9 118.7h1.4v1.4h-1.4zM88.9 131.7h1.4v1.4h-1.4zM141.0 87.2h1.4v1.4h-1.4zM105.7 117.7h1.4v1.4h-1.4zM88.3 132.3h1.4v1.4h-1.4zM102.1 123.7h1.4v1.4h-1.4zM96.3 124.8h1.4v1.4h-1.4zM98.7 124.1h1.4v1.4h-1.4zM108.8 118.0h1.4v1.4h-1.4zM89.6 133.6h1.4v1.4h-1.4zM116.5 112.9h1.4v1.4h-1.4zM107.9 113.3h1.4v1.4h-1.4zM136.5 96.3h1.4v1.4h-1.4zM92.8 130.8h1.4v1.4h-1.4zM96.9 125.4h1.4v1.4h-1.4zM100.5 127.7h1.4v1.4h-1.4zM116.9 109.6h1.4v1.4h-1.4zM123.0 108.3h1.4v1.4h-1.4zM94.2 127.6h1.4v1.4h-1.4zM102.6 125.3h1.4v1.4h-1.4zM125.7 105.1h1.4v1.4h-1.4zM103.1 121.0h1.4v1.4h-1.4zM101.7 125.3h1.4v1.4h-1.4zM112.7 116.6h1.4v1.4h-1.4zM95.3 131.3h1.4v1.4h-1.4zM103.5 120.1h1.4v1.4h-1.4zM102.4 124.2h1.4v1.4h-1.4zM127.7 99.9h1.4v1.4h-1.4zM108.5 115.8h1.4v1.4h-1.4zM92.7 128.0h1.4v1.4h-1.4zM96.4 125.0h1.4v1.4h-1.4zM110.2 115.0h1.4v1.4h-1.4zM93.4 128.9h1.4v1.4h-1.4zM109.3 118.5h1.4v1.4h-1.4zM118.2 110.7h1.4v1.4h-1.4zM96.4 131.5h1.4v1.4h-1.4zM114.4 114.1h1.4v1.4h-1.4zM114.7 109.8h1.4v1.4h-1.4zM113.9 115.3h1.4v1.4h-1.4zM117.1 109.8h1.4v1.4h-1.4zM101.9 119.7h1.4v1.4h-1.4zM89.7 133.2h1.4v1.4h-1.4zM106.3 102.5h1.4v1.4h-1.4zM109.1 120.5h1.4v1.4h-1.4zM134.1 95.9h1.4v1.4h-1.4zM116.0 114.3h1.4v1.4h-1.4zM96.5 128.8h1.4v1.4h-1.4zM92.4 134.3h1.4v1.4h-1.4zM101.6 116.5h1.4v1.4h-1.4zM119.8 104.6h1.4v1.4h-1.4zM90.4 129.0h1.4v1.4h-1.4zM92.2 126.7h1.4v1.4h-1.4zM107.8 118.3h1.4v1.4h-1.4zM90.4 131.6h1.4v1.4h-1.4zM107.0 119.6h1.4v1.4h-1.4zM103.1 111.7h1.4v1.4h-1.4zM92.5 127.8h1.4v1.4h-1.4zM104.9 122.4h1.4v1.4h-1.4zM98.4 126.3h1.4v1.4h-1.4zM124.4 107.2h1.4v1.4h-1.4zM111.5 108.1h1.4v1.4h-1.4zM109.7 118.4h1.4v1.4h-1.4zM93.1 132.6h1.4v1.4h-1.4zM113.1 111.4h1.4v1.4h-1.4zM104.9 119.3h1.4v1.4h-1.4zM116.9 110.1h1.4v1.4h-1.4zM89.8 133.2h1.4v1.4h-1.4zM96.7 129.3h1.4v1.4h-1.4zM105.7 123.0h1.4v1.4h-1.4zM117.3 112.6h1.4v1.4h-1.4zM122.7 103.2h1.4v1.4h-1.4zM108.1 120.6h1.4v1.4h-1.4zM114.3 114.4h1.4v1.4h-1.4zM136.3 97.0h1.4v1.4h-1.4zM96.5 128.8h1.4v1.4h-1.4zM131.3 101.2h1.4v1.4h-1.4zM117.9 113.3h1.4v1.4h-1.4zM94.8 128.8h1.4v1.4h-1.4zM90.6 134.7h1.4v1.4h-1.4zM118.2 108.2h1.4v1.4h-1.4zM109.5 120.4h1.4v1.4h-1.4zM119.3 111.5h1.4v1.4h-1.4zM118.0 112.7h1.4v1.4h-1.4zM101.2 125.3h1.4v1.4h-1.4zM101.4 123.5h1.4v1.4h-1.4zM96.3 131.6h1.4v1.4h-1.4zM116.1 108.7h1.4v1.4h-1.4zM90.6 132.0h1.4v1.4h-1.4zM106.9 122.0h1.4v1.4h-1.4zM116.7 105.1h1.4v1.4h-1.4zM98.1 126.4h1.4v1.4h-1.4zM107.0 120.1h1.4v1.4h-1.4zM105.3 122.5h1.4v1.4h-1.4zM93.8 130.8h1.4v1.4h-1.4zM98.4 128.7h1.4v1.4h-1.4zM124.5 105.2h1.4v1.4h-1.4zM109.1 116.5h1.4v1.4h-1.4zM99.0 125.1h1.4v1.4h-1.4zM92.8 134.3h1.4v1.4h-1.4zM92.0 130.9h1.4v1.4h-1.4zM90.2 131.8h1.4v1.4h-1.4zM103.6 116.2h1.4v1.4h-1.4zM96.6 129.7h1.4v1.4h-1.4zM117.8 104.9h1.4v1.4h-1.4zM98.9 128.0h1.4v1.4h-1.4zM103.4 125.4h1.4v1.4h-1.4zM106.5 119.8h1.4v1.4h-1.4zM101.1 122.8h1.4v1.4h-1.4zM95.2 130.5h1.4v1.4h-1.4zM112.9 116.9h1.4v1.4h-1.4zM98.9 124.0h1.4v1.4h-1.4zM114.4 112.8h1.4v1.4h-1.4zM121.9 106.4h1.4v1.4h-1.4zM102.5 123.1h1.4v1.4h-1.4zM102.0 124.3h1.4v1.4h-1.4zM113.6 112.1h1.4v1.4h-1.4zM119.9 105.9h1.4v1.4h-1.4zM92.7 132.8h1.4v1.4h-1.4zM102.5 117.8h1.4v1.4h-1.4zM103.3 120.3h1.4v1.4h-1.4zM108.0 118.6h1.4v1.4h-1.4zM105.6 118.8h1.4v1.4h-1.4zM94.6 124.3h1.4v1.4h-1.4zM92.3 128.1h1.4v1.4h-1.4zM120.5 107.5h1.4v1.4h-1.4zM119.4 104.6h1.4v1.4h-1.4zM118.4 106.6h1.4v1.4h-1.4zM140.5 89.0h1.4v1.4h-1.4zM130.6 101.8h1.4v1.4h-1.4zM94.9 127.8h1.4v1.4h-1.4zM121.0 107.3h1.4v1.4h-1.4zM102.6 123.6h1.4v1.4h-1.4zM100.3 124.4h1.4v1.4h-1.4zM92.0 130.1h1.4v1.4h-1.4zM115.0 115.6h1.4v1.4h-1.4zM89.5 130.4h1.4v1.4h-1.4zM99.3 125.6h1.4v1.4h-1.4zM102.9 118.3h1.4v1.4h-1.4zM95.7 123.2h1.4v1.4h-1.4zM121.6 102.3h1.4v1.4h-1.4zM117.8 111.6h1.4v1.4h-1.4zM116.1 114.5h1.4v1.4h-1.4zM122.1 108.8h1.4v1.4h-1.4zM104.7 118.6h1.4v1.4h-1.4zM104.4 122.2h1.4v1.4h-1.4zM108.7 119.1h1.4v1.4h-1.4zM90.4 131.5h1.4v1.4h-1.4z" fill="#ff0000"/><path d="M105.2 146.0 L107.2 144.2 L109.1 142.5 L111.0 140.8 L112.9 139.0 L114.9 137.3 L116.8 135.6 L118.7 133.8 L120.7 132.1 L122.6 130.4 L124.5 128.6 L126.4 126.9 L128.4 125.1 L130.3 123.4 L132.2 121.7 L134.2 119.9 L136.1 118.2 L138.0 116.5 L139.9 114.7 L141.9 113.0 L143.8 111.3 L143.8 111.3 L142.2 113.3 L140.7 115.4 L139.1 117.5 L137.5 119.5 L136.0 121.6 L134.4 123.7 L132.8 125.7 L131.2 127.8 L129.7 129.8 L128.1 131.9 L126.5 134.0 L125.0 136.0 L123.4 138.1 L121.8 140.2 L120.3 142.2 L118.7 144.3 L117.1 146.4 L115.6 148.4 L114.0 150.5 L112.4 152.5Z" fill="#0000ff"/><path d="M141.0 115.9h1.4v1.4h-1.4zM124.3 129.2h1.4v1.4h-1.4zM124.7 141.2h1.4v1.4h-1.4zM108.9 148.6h1.4v1.4h-1.4zM113.6 142.9h1.4v1.4h-1.4zM137.5 117.4h1.4v1.4h-1.4zM118.7 133.0h1.4v1.4h-1.4zM109.3 144.2h1.4v1.4h-1.4zM130.6 125.5h1.4v1.4h-1.4zM126.7 127.0h1.4v1.4h-1.4zM110.6 147.4h1.4v1.4h-1.4zM133.4 121.8h1.4v1.4h-1.4zM124.1 133.3h1.4v1.4h-1.4zM107.0 145.4h1.4v1.4h-1.4zM180.4 84.8h1.4v1.4h-1.4zM124.6 141.2h1.4v1.4h-1.4zM115.3 140.9h1.4v1.4h-1.4zM123.6 130.7h1.4v1.4h-1.4zM123.1 132.1h1.4v1.4h-1.4zM115.9 136.3h1.4v1.4h-1.4zM123.3 129.0h1.4v1.4h-1.4zM142.1 115.6h1.4v1.4h-1.4zM138.9 115.6h1.4v1.4h-1.4zM118.6 138.4h1.4v1.4h-1.4zM171.6 90.0h1.4v1.4h-1.4zM125.0 133.9h1.4v1.4h-1.4zM139.3 114.9h1.4v1.4h-1.4zM106.5 145.6h1.4v1.4h-1.4zM117.5 141.6h1.4v1.4h-1.4zM137.0 121.7h1.4v1.4h-1.4zM120.9 136.2h1.4v1.4h-1.4zM140.7 116.7h1.4v1.4h-1.4zM120.4 137.8h1.4v1.4h-1.4zM127.9 132.0h1.4v1.4h-1.4zM126.4 131.1h1.4v1.4h-1.4zM133.9 137.7h1.4v1.4h-1.4zM110.3 147.0h1.4v1.4h-1.4zM123.9 136.8h1.4v1.4h-1.4zM110.7 141.9h1.4v1.4h-1.4zM138.3 116.7h1.4v1.4h-1.4zM126.6 131.5h1.4v1.4h-1.4zM142.2 113.3h1.4v1.4h-1.4zM117.9 144.3h1.4v1.4h-1.4zM114.4 143.5h1.4v1.4h-1.4zM117.4 140.7h1.4v1.4h-1.4zM135.6 124.1h1.4v1.4h-1.4zM116.4 143.9h1.4v1.4h-1.4zM163.3 97.1h1.4v1.4h-1.4zM123.2 132.9h1.4v1.4h-1.4zM136.0 122.0h1.4v1.4h-1.4zM142.3 124.3h1.4v1.4h-1.4zM130.3 123.6h1.4v1.4h-1.4zM137.3 120.7h1.4v1.4h-1.4zM157.8 98.8h1.4v1.4h-1.4zM129.5 127.1h1.4v1.4h-1.4zM116.8 137.6h1.4v1.4h-1.4zM112.2 144.9h1.4v1.4h-1.4zM112.9 147.1h1.4v1.4h-1.4zM118.6 138.3h1.4v1.4h-1.4zM115.8 142.8h1.4v1.4h-1.4zM108.5 145.3h1.4v1.4h-1.4zM112.2 143.2h1.4v1.4h-1.4zM109.5 143.8h1.4v1.4h-1.4zM117.3 138.5h1.4v1.4h-1.4zM126.4 129.6h1.4v1.4h-1.4zM148.4 108.2h1.4v1.4h-1.4zM129.4 134.0h1.4v1.4h-1.4zM134.8 122.8h1.4v1.4h-1.4zM112.8 140.5h1.4v1.4h-1.4zM132.0 134.7h1.4v1.4h-1.4zM138.8 116.3h1.4v1.4h-1.4zM117.8 140.6h1.4v1.4h-1.4zM106.7 146.5h1.4v1.4h-1.4zM121.2 131.5h1.4v1.4h-1.4zM120.0 131.9h1.4v1.4h-1.4zM116.1 135.6h1.4v1.4h-1.4zM138.4 118.2h1.4v1.4h-1.4zM129.2 145.4h1.4v1.4h-1.4zM117.9 134.6h1.4v1.4h-1.4zM140.1 113.7h1.4v1.4h-1.4zM136.2 121.3h1.4v1.4h-1.4zM112.4 143.7h1.4v1.4h-1.4zM127.8 124.5h1.4v1.4h-1.4zM108.5 147.4h1.4v1.4h-1.4zM123.5 133.0h1.4v1.4h-1.4zM134.4 122.7h1.4v1.4h-1.4zM137.1 118.7h1.4v1.4h-1.4zM117.8 138.9h1.4v1.4h-1.4zM158.4 104.2h1.4v1.4h-1.4zM118.5 147.8h1.4v1.4h-1.4zM142.9 122.3h1.4v1.4h-1.4zM121.3 132.8h1.4v1.4h-1.4zM110.2 149.0h1.4v1.4h-1.4zM123.0 144.5h1.4v1.4h-1.4zM123.0 130.1h1.4v1.4h-1.4zM137.9 127.5h1.4v1.4h-1.4zM122.6 146.3h1.4v1.4h-1.4zM150.4 116.5h1.4v1.4h-1.4zM127.1 127.2h1.4v1.4h-1.4zM119.7 131.8h1.4v1.4h-1.4zM126.9 135.4h1.4v1.4h-1.4zM123.3 129.3h1.4v1.4h-1.4zM144.0 118.7h1.4v1.4h-1.4zM143.5 113.3h1.4v1.4h-1.4zM112.9 147.8h1.4v1.4h-1.4zM114.5 142.3h1.4v1.4h-1.4zM120.5 134.5h1.4v1.4h-1.4zM125.7 128.0h1.4v1.4h-1.4zM130.9 125.7h1.4v1.4h-1.4zM131.6 127.5h1.4v1.4h-1.4zM115.7 136.5h1.4v1.4h-1.4zM137.2 118.8h1.4v1.4h-1.4zM127.4 133.2h1.4v1.4h-1.4zM130.7 137.8h1.4v1.4h-1.4zM132.5 127.8h1.4v1.4h-1.4zM112.3 142.2h1.4v1.4h-1.4zM105.8 144.8h1.4v1.4h-1.4zM137.0 127.4h1.4v1.4h-1.4zM150.7 105.4h1.4v1.4h-1.4zM107.3 147.7h1.4v1.4h-1.4zM124.9 131.9h1.4v1.4h-1.4zM131.0 128.7h1.4v1.4h-1.4zM108.2 142.4h1.4v1.4h-1.4zM119.4 142.9h1.4v1.4h-1.4zM130.6 129.4h1.4v1.4h-1.4zM124.3 133.2h1.4v1.4h-1.4zM109.1 143.8h1.4v1.4h-1.4zM139.0 116.9h1.4v1.4h-1.4zM133.8 129.3h1.4v1.4h-1.4zM146.0 114.6h1.4v1.4h-1.4zM128.5 127.6h1.4v1.4h-1.4zM135.0 118.1h1.4v1.4h-1.4zM127.4 142.8h1.4v1.4h-1.4zM124.6 136.8h1.4v1.4h-1.4zM127.4 130.2h1.4v1.4h-1.4zM106.8 143.3h1.4v1.4h-1.4zM146.5 109.2h1.4v1.4h-1.4zM139.3 114.5h1.4v1.4h-1.4zM120.2 135.3h1.4v1.4h-1.4zM117.1 134.9h1.4v1.4h-1.4zM135.0 120.1h1.4v1.4h-1.4zM115.3 136.1h1.4v1.4h-1.4zM111.5 140.1h1.4v1.4h-1.4zM125.5 134.7h1.4v1.4h-1.4zM136.8 126.9h1.4v1.4h-1.4zM107.5 146.3h1.4v1.4h-1.4zM134.2 128.8h1.4v1.4h-1.4zM126.3 129.3h1.4v1.4h-1.4zM107.7 145.2h1.4v1.4h-1.4zM111.9 148.0h1.4v1.4h-1.4zM120.3 136.0h1.4v1.4h-1.4zM181.5 76.1h1.4v1.4h-1.4zM125.1 131.1h1.4v1.4h-1.4zM116.9 136.9h1.4v1.4h-1.4zM114.6 140.4h1.4v1.4h-1.4zM134.2 120.5h1.4v1.4h-1.4zM131.6 121.5h1.4v1.4h-1.4zM122.6 134.5h1.4v1.4h-1.4zM121.2 137.1h1.4v1.4h-1.4zM130.2 126.8h1.4v1.4h-1.4zM171.5 88.8h1.4v1.4h-1.4zM129.3 124.9h1.4v1.4h-1.4zM135.6 122.3h1.4v1.4h-1.4zM123.4 136.5h1.4v1.4h-1.4zM159.1 100.8h1.4v1.4h-1.4zM121.7 130.4h1.4v1.4h-1.4zM126.1 129.2h1.4v1.4h-1.4zM146.6 119.6h1.4v1.4h-1.4zM115.4 140.4h1.4v1.4h-1.4zM125.4 135.6h1.4v1.4h-1.4zM114.2 141.6h1.4v1.4h-1.4zM130.1 125.0h1.4v1.4h-1.4zM115.0 136.5h1.4v1.4h-1.4zM135.9 121.2h1.4v1.4h-1.4zM126.7 133.6h1.4v1.4h-1.4zM135.0 121.1h1.4v1.4h-1.4zM120.6 134.6h1.4v1.4h-1.4zM115.8 137.3h1.4v1.4h-1.4zM134.8 123.9h1.4v1.4h-1.4zM120.5 131.1h1.4v1.4h-1.4zM143.2 113.6h1.4v1.4h-1.4zM118.2 134.4h1.4v1.4h-1.4zM140.6 129.5h1.4v1.4h-1.4zM131.7 124.7h1.4v1.4h-1.4zM125.9 132.0h1.4v1.4h-1.4zM125.6 141.9h1.4v1.4h-1.4zM116.5 136.2h1.4v1.4h-1.4zM165.3 93.6h1.4v1.4h-1.4zM132.9 121.9h1.4v1.4h-1.4zM129.5 125.2h1.4v1.4h-1.4zM126.6 126.0h1.4v1.4h-1.4zM107.1 146.3h1.4v1.4h-1.4zM143.9 111.9h1.4v1.4h-1.4zM138.7 123.6h1.4v1.4h-1.4zM117.7 134.9h1.4v1.4h-1.4zM129.4 129.9h1.4v1.4h-1.4zM114.8 146.9h1.4v1.4h-1.4zM111.8 139.4h1.4v1.4h-1.4zM112.1 144.5h1.4v1.4h-1.4zM121.1 141.5h1.4v1.4h-1.4zM117.4 151.6h1.4v1.4h-1.4zM115.5 139.4h1.4v1.4h-1.4zM140.4 121.9h1.4v1.4h-1.4zM109.2 146.4h1.4v1.4h-1.4zM111.7 146.2h1.4v1.4h-1.4zM137.7 123.1h1.4v1.4h-1.4zM132.8 128.9h1.4v1.4h-1.4zM139.6 122.8h1.4v1.4h-1.4zM119.0 139.8h1.4v1.4h-1.4zM112.9 142.4h1.4v1.4h-1.4zM145.1 109.2h1.4v1.4h-1.4zM109.6 144.4h1.4v1.4h-1.4zM120.6 134.5h1.4v1.4h-1.4zM139.1 118.5h1.4v1.4h-1.4zM115.7 145.1h1.4v1.4h-1.4zM117.8 140.6h1.4v1.4h-1.4zM143.6 114.1h1.4v1.4h-1.4zM135.4 125.0h1.4v1.4h-1.4zM126.0 133.3h1.4v1.4h-1.4zM144.7 115.7h1.4v1.4h-1.4zM136.6 125.4h1.4v1.4h-1.4zM142.4 136.4h1.4v1.4h-1.4zM143.2 117.3h1.4v1.4h-1.4zM141.1 115.4h1.4v1.4h-1.4zM118.6 135.9h1.4v1.4h-1.4zM124.9 130.6h1.4v1.4h-1.4zM115.1 142.8h1.4v1.4h-1.4zM109.9 145.5h1.4v1.4h-1.4zM114.6 143.6h1.4v1.4h-1.4zM146.3 108.2h1.4v1.4h-1.4zM108.6 143.5h1.4v1.4h-1.4zM133.1 120.1h1.4v1.4h-1.4zM108.4 145.4h1.4v1.4h-1.4zM129.4 124.8h1.4v1.4h-1.4zM118.1 136.8h1.4v1.4h-1.4zM110.9 149.4h1.4v1.4h-1.4zM107.1 145.1h1.4v1.4h-1.4zM137.7 120.0h1.4v1.4h-1.4zM129.6 131.6h1.4v1.4h-1.4zM110.3 147.8h1.4v1.4h-1.4zM125.1 130.1h1.4v1.4h-1.4zM124.3 135.1h1.4v1.4h-1.4zM125.7 129.9h1.4v1.4h-1.4zM108.6 141.9h1.4v1.4h-1.4zM124.8 133.8h1.4v1.4h-1.4zM112.3 141.7h1.4v1.4h-1.4zM133.6 121.6h1.4v1.4h-1.4zM120.5 136.1h1.4v1.4h-1.4zM110.9 146.8h1.4v1.4h-1.4zM129.0 124.5h1.4v1.4h-1.4zM105.7 144.5h1.4v1.4h-1.4zM123.0 137.6h1.4v1.4h-1.4zM116.1 139.0h1.4v1.4h-1.4zM105.9 145.1h1.4v1.4h-1.4zM107.9 144.8h1.4v1.4h-1.4zM111.4 147.8h1.4v1.4h-1.4zM142.8 114.1h1.4v1.4h-1.4zM116.3 136.9h1.4v1.4h-1.4zM138.3 118.7h1.4v1.4h-1.4zM107.3 147.7h1.4v1.4h-1.4zM116.3 152.5h1.4v1.4h-1.4zM149.3 122.1h1.4v1.4h-1.4zM130.0 133.3h1.4v1.4h-1.4zM121.1 140.2h1.4v1.4h-1.4zM135.5 124.2h1.4v1.4h-1.4zM130.0 127.6h1.4v1.4h-1.4zM125.3 128.8h1.4v1.4h-1.4zM137.3 119.5h1.4v1.4h-1.4zM122.5 147.4h1.4v1.4h-1.4zM136.2 121.6h1.4v1.4h-1.4zM119.1 134.6h1.4v1.4h-1.4zM128.2 125.6h1.4v1.4h-1.4zM122.9 136.8h1.4v1.4h-1.4zM120.7 139.1h1.4v1.4h-1.4zM111.2 139.9h1.4v1.4h-1.4zM120.3 131.5h1.4v1.4h-1.4zM139.6 116.3h1.4v1.4h-1.4zM107.8 147.4h1.4v1.4h-1.4zM121.4 137.8h1.4v1.4h-1.4zM133.9 124.1h1.4v1.4h-1.4zM137.7 118.0h1.4v1.4h-1.4zM112.6 142.6h1.4v1.4h-1.4zM112.3 144.2h1.4v1.4h-1.4zM142.9 119.0h1.4v1.4h-1.4zM127.1 132.5h1.4v1.4h-1.4zM118.8 140.8h1.4v1.4h-1.4zM151.8 103.1h1.4v1.4h-1.4zM124.5 132.0h1.4v1.4h-1.4zM138.2 119.8h1.4v1.4h-1.4zM112.0 142.7h1.4v1.4h-1.4zM142.3 114.2h1.4v1.4h-1.4zM115.0 140.4h1.4v1.4h-1.4zM109.9 144.1h1.4v1.4h-1.4zM120.9 140.6h1.4v1.4h-1.4zM128.8 143.3h1.4v1.4h-1.4zM170.1 89.7h1.4v1.4h-1.4zM128.3 127.0h1.4v1.4h-1.4zM134.5 124.7h1.4v1.4h-1.4zM141.7 123.5h1.4v1.4h-1.4zM110.6 143.2h1.4v1.4h-1.4zM119.3 139.0h1.4v1.4h-1.4zM142.9 114.9h1.4v1.4h-1.4zM121.2 137.6h1.4v1.4h-1.4zM114.2 140.3h1.4v1.4h-1.4zM114.1 139.7h1.4v1.4h-1.4zM112.0 141.5h1.4v1.4h-1.4zM123.9 139.5h1.4v1.4h-1.4zM137.2 117.4h1.4v1.4h-1.4zM114.7 148.0h1.4v1.4h-1.4zM136.5 119.4h1.4v1.4h-1.4zM141.2 118.3h1.4v1.4h-1.4zM182.2 82.1h1.4v1.4h-1.4zM122.8 129.5h1.4v1.4h-1.4zM134.3 118.9h1.4v1.4h-1.4zM134.1 128.6h1.4v1.4h-1.4zM135.1 121.0h1.4v1.4h-1.4zM124.1 130.0h1.4v1.4h-1.4zM142.1 121.6h1.4v1.4h-1.4zM142.8 118.8h1.4v1.4h-1.4zM137.9 121.8h1.4v1.4h-1.4zM168.5 90.2h1.4v1.4h-1.4zM144.2 112.5h1.4v1.4h-1.4zM118.0 134.8h1.4v1.4h-1.4zM140.4 113.2h1.4v1.4h-1.4zM113.9 138.2h1.4v1.4h-1.4zM123.4 131.0h1.4v1.4h-1.4zM119.9 131.9h1.4v1.4h-1.4zM139.9 114.8h1.4v1.4h-1.4zM144.0 118.4h1.4v1.4h-1.4zM128.0 138.7h1.4v1.4h-1.4zM174.6 87.9h1.4v1.4h-1.4zM158.9 99.9h1.4v1.4h-1.4zM138.1 115.4h1.4v1.4h-1.4zM116.4 135.7h1.4v1.4h-1.4zM120.8 139.6h1.4v1.4h-1.4zM137.4 116.6h1.4v1.4h-1.4zM128.6 127.1h1.4v1.4h-1.4zM120.4 135.7h1.4v1.4h-1.4zM162.7 106.0h1.4v1.4h-1.4zM106.5 143.9h1.4v1.4h-1.4zM117.6 134.7h1.4v1.4h-1.4zM130.8 125.1h1.4v1.4h-1.4zM115.9 137.5h1.4v1.4h-1.4zM113.9 141.0h1.4v1.4h-1.4zM117.1 135.2h1.4v1.4h-1.4zM134.9 124.7h1.4v1.4h-1.4zM127.3 125.8h1.4v1.4h-1.4zM144.1 113.5h1.4v1.4h-1.4zM124.5 129.1h1.4v1.4h-1.4zM111.7 140.9h1.4v1.4h-1.4zM114.1 142.8h1.4v1.4h-1.4zM116.5 139.8h1.4v1.4h-1.4zM140.8 118.8h1.4v1.4h-1.4zM143.5 121.4h1.4v1.4h-1.4zM128.8 132.0h1.4v1.4h-1.4zM175.4 89.3h1.4v1.4h-1.4zM117.2 141.0h1.4v1.4h-1.4zM115.3 138.1h1.4v1.4h-1.4zM114.9 137.5h1.4v1.4h-1.4zM115.9 145.2h1.4v1.4h-1.4zM116.4 140.1h1.4v1.4h-1.4zM135.0 120.8h1.4v1.4h-1.4zM109.9 145.8h1.4v1.4h-1.4zM124.5 129.1h1.4v1.4h-1.4zM132.6 144.4h1.4v1.4h-1.4zM114.1 141.6h1.4v1.4h-1.4zM106.2 144.1h1.4v1.4h-1.4zM120.6 137.9h1.4v1.4h-1.4zM147.1 119.7h1.4v1.4h-1.4zM117.6 135.9h1.4v1.4h-1.4zM141.8 115.0h1.4v1.4h-1.4zM164.4 96.3h1.4v1.4h-1.4zM110.7 141.5h1.4v1.4h-1.4zM133.3 127.3h1.4v1.4h-1.4zM146.4 117.2h1.4v1.4h-1.4zM131.8 131.5h1.4v1.4h-1.4zM114.1 144.5h1.4v1.4h-1.4zM116.7 134.8h1.4v1.4h-1.4zM128.9 127.6h1.4v1.4h-1.4zM111.8 144.2h1.4v1.4h-1.4zM109.7 145.3h1.4v1.4h-1.4zM140.1 127.9h1.4v1.4h-1.4zM137.9 117.6h1.4v1.4h-1.4zM142.9 112.7h1.4v1.4h-1.4zM125.5 129.5h1.4v1.4h-1.4zM119.8 135.2h1.4v1.4h-1.4zM118.6 140.8h1.4v1.4h-1.4zM116.8 139.4h1.4v1.4h-1.4zM118.8 139.7h1.4v1.4h-1.4zM122.4 135.9h1.4v1.4h-1.4zM121.8 132.7h1.4v1.4h-1.4zM137.7 121.6h1.4v1.4h-1.4zM139.4 114.8h1.4v1.4h-1.4zM116.8 140.2h1.4v1.4h-1.4zM128.4 132.7h1.4v1.4h-1.4zM111.5 145.0h1.4v1.4h-1.4zM114.8 139.3h1.4v1.4h-1.4zM158.5 101.2h1.4v1.4h-1.4zM132.8 121.0h1.4v1.4h-1.4zM140.8 115.2h1.4v1.4h-1.4zM141.6 113.2h1.4v1.4h-1.4zM143.7 114.1h1.4v1.4h-1.4zM130.3 123.6h1.4v1.4h-1.4zM113.8 139.4h1.4v1.4h-1.4zM109.0 141.7h1.4v1.4h-1.4zM109.4 146.2h1.4v1.4h-1.4zM119.0 141.4h1.4v1.4h-1.4zM156.4 113.5h1.4v1.4h-1.4zM117.8 133.5h1.4v1.4h-1.4zM146.2 111.1h1.4v1.4h-1.4zM149.0 111.9h1.4v1.4h-1.4zM138.2 116.3h1.4v1.4h-1.4zM135.2 120.0h1.4v1.4h-1.4zM179.7 85.9h1.4v1.4h-1.4zM165.2 96.4h1.4v1.4h-1.4zM142.3 111.8h1.4v1.4h-1.4zM110.7 144.9h1.4v1.4h-1.4zM143.8 125.8h1.4v1.4h-1.4zM129.7 127.8h1.4v1.4h-1.4zM148.3 116.4h1.4v1.4h-1.4zM124.4 140.9h1.4v1.4h-1.4zM119.1 141.9h1.4v1.4h-1.4zM131.7 127.7h1.4v1.4h-1.4zM113.0 140.8h1.4v1.4h-1.4zM159.5 102.9h1.4v1.4h-1.4zM129.0 131.1h1.4v1.4h-1.4zM109.8 142.4h1.4v1.4h-1.4zM108.0 144.4h1.4v1.4h-1.4zM109.8 145.5h1.4v1.4h-1.4zM129.2 125.0h1.4v1.4h-1.4zM141.4 117.6h1.4v1.4h-1.4zM156.1 105.7h1.4v1.4h-1.4zM143.6 115.2h1.4v1.4h-1.4zM128.2 131.4h1.4v1.4h-1.4zM112.9 145.5h1.4v1.4h-1.4zM109.2 141.2h1.4v1.4h-1.4zM123.3 128.4h1.4v1.4h-1.4zM124.6 128.9h1.4v1.4h-1.4zM112.2 147.5h1.4v1.4h-1.4zM109.1 142.2h1.4v1.4h-1.4zM120.4 133.0h1.4v1.4h-1.4zM114.9 149.5h1.4v1.4h-1.4zM136.1 120.1h1.4v1.4h-1.4zM143.3 110.7h1.4v1.4h-1.4z" fill="#0000ff"/></g>
<rect x="29.5" y="56.5" width="164.0" height="175.0" fill="none" stroke="#8a8a8a" stroke-width="0.9"/>
<rect x="29.5" y="56.5" width="87.9" height="31.299999999999997" fill="#fff" stroke="#8a8a8a" stroke-width="0.9"/>
<rect x="34.3" y="62.6" width="4.2" height="4.2" fill="#bebebe" stroke="#777" stroke-width="0.4"/>
<text x="44" y="66.7" font-size="5.9" fill="#000" stroke="#000" stroke-width="0.22" textLength="70.3" lengthAdjust="spacingAndGlyphs">Non-differential expression</text>
<rect x="34.3" y="71.0" width="4.2" height="4.2" fill="#ff0000" stroke="#777" stroke-width="0.4"/>
<text x="44" y="75.1" font-size="5.9" fill="#000" stroke="#000" stroke-width="0.22" textLength="35.8" lengthAdjust="spacingAndGlyphs">Up-regulation</text>
<rect x="34.3" y="79.4" width="4.2" height="4.2" fill="#0000ff" stroke="#777" stroke-width="0.4"/>
<text x="44" y="83.5" font-size="5.9" fill="#000" stroke="#000" stroke-width="0.22" textLength="42.7" lengthAdjust="spacingAndGlyphs">Down-regulation</text>
<line x1="98.8" y1="231.5" x2="98.8" y2="235.0" stroke="#8a8a8a" stroke-width="0.8"/>
<text x="98.8" y="246.0" font-size="5.8" fill="#000" stroke="#000" stroke-width="0.18" text-anchor="middle">0</text>
<line x1="149.6" y1="231.5" x2="149.6" y2="235.0" stroke="#8a8a8a" stroke-width="0.8"/>
<text x="149.6" y="246.0" font-size="5.8" fill="#000" stroke="#000" stroke-width="0.18" text-anchor="middle">3</text>
<line x1="26.0" y1="94.9" x2="29.5" y2="94.9" stroke="#8a8a8a" stroke-width="0.8"/>
<text transform="translate(20.3 94.9) rotate(-90)" font-size="5.8" fill="#000" stroke="#000" stroke-width="0.18" text-anchor="middle">3</text>
<line x1="26.0" y1="141.3" x2="29.5" y2="141.3" stroke="#8a8a8a" stroke-width="0.8"/>
<text transform="translate(20.3 141.3) rotate(-90)" font-size="5.8" fill="#000" stroke="#000" stroke-width="0.18" text-anchor="middle">0</text>
<text x="111.3" y="262.0" font-size="6.0" fill="#000" stroke="#000" stroke-width="0.18" text-anchor="middle" textLength="41.3" lengthAdjust="spacingAndGlyphs">log10FPKM( 3 )</text>
<text transform="translate(6.2 143) rotate(-90)" font-size="6.0" fill="#000" stroke="#000" stroke-width="0.18" text-anchor="middle" textLength="60" lengthAdjust="spacingAndGlyphs">log10FPKM( pkm2 )</text></g>
<rect x="208.9" y="27.0" width="17.00" height="24.00" fill="#bf0000"/>
<rect x="208.9" y="50.0" width="17.00" height="23.90" fill="#7f0000"/>
<rect x="208.9" y="72.9" width="17.00" height="207.50" fill="#3f0000"/>
<rect x="208.9" y="279.4" width="17.00" height="362.10" fill="#00bf00"/>
<rect x="224.9" y="27.0" width="15.900000000000006" height="253.40" fill="#00bf00"/>
<rect x="224.9" y="279.4" width="15.900000000000006" height="24.10" fill="#ff0000"/>
<rect x="224.9" y="302.5" width="15.900000000000006" height="47.00" fill="#bf0000"/>
<rect x="224.9" y="348.5" width="15.900000000000006" height="6.80" fill="#7f0000"/>
<rect x="224.9" y="354.3" width="15.900000000000006" height="12.60" fill="#bf0000"/>
<rect x="224.9" y="365.9" width="15.900000000000006" height="29.70" fill="#7f0000"/>
<rect x="224.9" y="394.6" width="15.900000000000006" height="29.80" fill="#3f0000"/>
<rect x="224.9" y="423.4" width="15.900000000000006" height="35.60" fill="#7f0000"/>
<rect x="224.9" y="458.0" width="15.900000000000006" height="183.50" fill="#3f0000"/>
<g filter="url(#bl2)"><g font-size="4.0" fill="#000" stroke="#000" stroke-width="0.05" text-rendering="geometricPrecision" clip-path="url(#clipb)">
<text x="246.0" y="31.35">ENSRNA049455296 SNORD75 NA</text>
<text x="246.0" y="37.09">ENSRNA049455816 Plant_SRP NA</text>
<text x="246.0" y="42.82">ENSRNA049457987 Intron_gpII NA</text>
<text x="246.0" y="48.56">ENSRNA049455770 Intron_gpII NA</text>
<text x="246.0" y="54.29">ENSRNA049459457 SNORD75 NA</text>
<text x="246.0" y="60.03">Solyc02g011810.1 - Uncharacterized protein</text>
<text x="246.0" y="65.77">Solyc10g080360.1 - Uncharacterized protein</text>
<text x="246.0" y="71.50">Solyc11g021270.1 - Protein TIC 214; Translocon at the inner envelope membrane of chloroplasts 214; AtTIC</text>
<text x="246.0" y="77.24">Solyc10g080370.1 - Putative ovule protein</text>
<text x="246.0" y="82.97">Solyc07g062310.1 - NA</text>
<text x="246.0" y="88.71">Solyc05g044820.1 - NA</text>
<text x="246.0" y="94.45">Solyc10g047990.1 - Protein TIC 214; Translocon at the inner envelope membrane of chloroplasts 214; AtTIC</text>
<text x="246.0" y="100.18">Solyc11g058400.1 - Cytochrome b-c1 complex subunit 9; Complex III subunit 9; Complex III subunit X; Ubiq</text>
<text x="246.0" y="105.92">Solyc10g005400.2 - Uncharacterized protein</text>
<text x="246.0" y="111.65">Solyc04g045000.1 - Protein TIC 214; Translocon at the inner envelope membrane of chloroplasts 214; AtTIC</text>
<text x="246.0" y="117.39">Solyc04g007990.1 - Putative ovule protein</text>
<text x="246.0" y="123.13">Solyc02g058690.1 - Histone H2B</text>
<text x="246.0" y="128.86">Solyc08g062370.1 - Putative ovule protein</text>
<text x="246.0" y="134.60">Solyc12g006440.1 - Uncharacterized protein</text>
<text x="246.0" y="140.33">Solyc02g068830.2 - Uncharacterized protein</text>
<text x="246.0" y="146.07">Solyc11g069690.1 - Uncharacterized protein</text>
<text x="246.0" y="151.81">Solyc12g098710.1 - Putative ovule protein</text>
<text x="246.0" y="157.54">Solyc02g078890.1 - Putative ovule protein</text>
<text x="246.0" y="163.28">Solyc12g009110.1 - Uncharacterized protein</text>
<text x="246.0" y="169.01">Solyc02g080860.1 - Pyridoxal phosphate homeostasis protein; PLP homeostasis protein</text>
<text x="246.0" y="174.75">Solyc02g022900.2 - Uncharacterized protein</text>
<text x="246.0" y="180.49">Solyc01g068860.2 - Uncharacterized protein</text>
<text x="246.0" y="186.22">Solyc04g074430.1 - Putative ovule protein</text>
<text x="246.0" y="191.96">Solyc01g087340.2 - Putative ovule protein</text>
<text x="246.0" y="197.69">Solyc05g005320.1 - Uncharacterized protein</text>
<text x="246.0" y="203.43">Solyc04g009840.2 - Uncharacterized protein</text>
<text x="246.0" y="209.17">Solyc11g006750.1 - Uncharacterized protein</text>
<text x="246.0" y="214.90">Solyc08g016360.1 - Uncharacterized protein</text>
<text x="246.0" y="220.64">Solyc01g107370.2 - Uncharacterized protein</text>
<text x="246.0" y="226.37">Solyc09g125170.1 - Uncharacterized protein</text>
<text x="246.0" y="232.11">Solyc06g076990.1 - Uncharacterized protein</text>
<text x="246.0" y="237.85">Solyc07g065110.1 - putative lipid-transfer protein DIR1</text>
<text x="246.0" y="243.58">Solyc05g023910.1 - Uncharacterized protein</text>
<text x="246.0" y="249.32">Solyc11g006910.1 - Uncharacterized protein</text>
<text x="246.0" y="255.05">Solyc11g030700.1 - Putative ovule protein</text>
<text x="246.0" y="260.79">Solyc04g018050.1 - DNA-directed RNA polymerase subunit beta''; PEP; Plastid-encoded RNA polymerase s</text>
<text x="246.0" y="266.53">Solyc02g022890.1 - Uncharacterized protein</text>
<text x="246.0" y="272.26">Solyc10g044550.1 - ATP synthase subunit c, chloroplastic; ATP synthase F(0) sector subunit c; ATPase sub</text>
<text x="246.0" y="278.00">Solyc12g041610.1 - Nonclathrin coat protein zeta3-COP</text>
<text x="246.0" y="283.75">ENSRNA049447960 tRNA-Asp MLO-like protein</text>
<text x="246.0" y="289.50">ENSRNA049447030 tRNA-Asp MLO-like protein</text>
<text x="246.0" y="295.25">ENSRNA049452816 snoR66 NA</text>
<text x="246.0" y="300.99">ENSRNA049450836 snoR8a NA</text>
<text x="246.0" y="306.74">ENSRNA049453330 U5 Uncharacterized protein</text>
<text x="246.0" y="312.49">ENSRNA049454525 snoR12 NA</text>
<text x="246.0" y="318.24">ENSRNA049458391 snoZ101 NA</text>
<text x="246.0" y="323.99">ENSRNA049459782 snoU31b Uncharacterized protein</text>
<text x="246.0" y="329.73">ENSRNA049458765 snoR137 Putative ovule protein</text>
<text x="246.0" y="335.48">ENSRNA049448570 tRNA-Tyr NA</text>
<text x="246.0" y="341.23">ENSRNA049453987 snoZ221_snoR21b NA</text>
<text x="246.0" y="346.98">ENSRNA049455920 snoZ223 NA</text>
<text x="246.0" y="352.73">ENSRNA049453311 U5 Violaxanthin de-epoxidase, chloroplastic</text>
<text x="246.0" y="358.47">ENSRNA049459417 snoR136 NA</text>
<text x="246.0" y="364.22">ENSRNA049457790 snoZ152 NA</text>
<text x="246.0" y="369.97">ENSRNA049451642 snoR2 NA</text>
<text x="246.0" y="375.72">Solyc10g075150.1 - Uncharacterized protein</text>
<text x="246.0" y="381.47">Solyc08g082810.2 - acanthoscurrin-2-like</text>
<text x="246.0" y="387.21">ENSRNA049451652 snoR2 NA</text>
<text x="246.0" y="392.96">ENSRNA049452676 U1 NA</text>
<text x="246.0" y="398.71">Solyc06g024370.1 - Uncharacterized protein</text>
<text x="246.0" y="404.46">Solyc12g009420.1 - uncharacterized protein LOC101979234</text>
<text x="246.0" y="410.21">ENSRNA049453890 U1 Uncharacterized protein</text>
<text x="246.0" y="415.95">ENSRNA049468674 5_8S_rRNA Putative ovule protein</text>
<text x="246.0" y="421.70">ENSRNA049468061 LSU_rRNA_eukarya Large subunit ribosomal RNA sequence</text>
<text x="246.0" y="427.45">ENSRNA049468723 5_8S_rRNA Putative ovule protein</text>
<text x="246.0" y="433.20">Solyc06g024360.1 - Putative ovule protein</text>
<text x="246.0" y="438.95">Solyc07g055640.1 - Uncharacterized protein</text>
<text x="246.0" y="444.69">ENSRNA049451632 snoR2 NA</text>
<text x="246.0" y="450.44">Solyc07g006570.2 - Uncharacterized protein</text>
<text x="246.0" y="456.19">ENSRNA049467323 5_8S_rRNA Putative ovule protein</text>
<text x="246.0" y="461.94">Solyc12g100260.1 - Fatty acid desaturase</text>
<text x="246.0" y="467.69">Solyc01g106620.2 - PR1 protein</text>
<text x="246.0" y="473.43">Solyc08g084470.2 PIIF Wound-induced proteinase inhibitor 1; Wound-induced proteinase inhibitor I</text>
<text x="246.0" y="479.18">Solyc07g066360.1 - Uncharacterized protein</text>
<text x="246.0" y="484.93">Solyc08g007910.1 - Pathogenesis-related leaf protein 4; P4</text>
<text x="246.0" y="490.68">Solyc06g074490.1 - Uncharacterized protein</text>
<text x="246.0" y="496.43">Solyc01g095140.2 - Ethylene-responsive late embryogenesis-like protein</text>
<text x="246.0" y="502.17">Solyc08g080650.1 - Osmotin-like protein</text>
<text x="246.0" y="507.92">Solyc02g065800.1 - Uncharacterized protein</text>
<text x="246.0" y="513.67">ENSRNA049467731 5_8S_rRNA Putative ovule protein</text>
<text x="246.0" y="519.42">ENSRNA049468880 LSU_rRNA_eukarya Bre558; Bre552</text>
<text x="246.0" y="525.17">Solyc04g056690.2 - NA</text>
<text x="246.0" y="530.91">Solyc08g068730.1 - N-hydroxycinnamoyl-CoA:tyramine N-hydroxycinnamoyl transferase THT1-3</text>
<text x="246.0" y="536.66">ENSRNA049466776 SSU_rRNA_eukarya Uncharacterized protein</text>
<text x="246.0" y="542.41">Solyc10g084620.1 - auxin-responsive protein SAUR71-like</text>
<text x="246.0" y="548.16">Solyc03g098740.1 - Biotic cell death-associated protein</text>
<text x="246.0" y="553.91">Solyc03g044760.2 - Methylesterase</text>
<text x="246.0" y="559.65">ENSRNA049466383 SSU_rRNA_eukarya Uncharacterized protein</text>
<text x="246.0" y="565.40">Solyc06g005820.2 - Uncharacterized protein</text>
<text x="246.0" y="571.15">Solyc08g044410.1 - Putative phosphoinositide phosphatase SAC8-like</text>
<text x="246.0" y="576.90">Solyc09g042120.1 - Putative kinesin-related protein 8-like</text>
<text x="246.0" y="582.65">Solyc11g037760.1 - Uncharacterized protein</text>
<text x="246.0" y="588.39">Solyc02g076980.2 - Cysteine protease</text>
<text x="246.0" y="594.14">Solyc11g064880.1 - Uncharacterized protein</text>
<text x="246.0" y="599.89">Solyc04g024960.1 - Uncharacterized protein</text>
<text x="246.0" y="605.64">ENSRNA049465115 Plant_SRP Uncharacterized protein</text>
<text x="246.0" y="611.39">Solyc08g097760.2 - Uncharacterized protein</text>
<text x="246.0" y="617.13">Solyc09g014410.2 - Uncharacterized protein</text>
<text x="246.0" y="622.88">Solyc07g033900.1 - Atp synthase subunit beta</text>
<text x="246.0" y="628.63">Solyc08g061110.2 - Uncharacterized protein</text>
<text x="246.0" y="634.38">Solyc12g040880.1 - Uncharacterized protein</text>
<text x="246.0" y="640.13">ENSRNA049468411 SSU_rRNA_eukarya Uncharacterized protein</text>
</g></g>
<rect x="445.1" y="26.9" width="16.90" height="11.90" fill="#bf0000"/>
<rect x="445.1" y="37.8" width="16.90" height="17.15" fill="#7f0000"/>
<rect x="445.1" y="53.95" width="16.90" height="49.55" fill="#3f0000"/>
<rect x="445.1" y="102.5" width="16.90" height="14.40" fill="#000000"/>
<rect x="445.1" y="115.9" width="16.90" height="20.00" fill="#3f0000"/>
<rect x="445.1" y="134.9" width="16.90" height="90.20" fill="#000000"/>
<rect x="445.1" y="224.1" width="16.90" height="429.50" fill="#00ff00"/>
<rect x="461.0" y="26.9" width="15.899999999999977" height="198.20" fill="#00ff00"/>
<rect x="461.0" y="224.1" width="15.899999999999977" height="3.80" fill="#ff0000"/>
<rect x="461.0" y="226.9" width="15.899999999999977" height="9.30" fill="#bf0000"/>
<rect x="461.0" y="235.0" width="15.899999999999977" height="36.20" fill="#7f0000"/>
<rect x="461.0" y="270.2" width="15.899999999999977" height="3.70" fill="#3f0000"/>
<rect x="461.0" y="272.9" width="15.899999999999977" height="3.90" fill="#7f0000"/>
<rect x="461.0" y="275.8" width="15.899999999999977" height="68.70" fill="#3f0000"/>
<rect x="461.0" y="343.4" width="15.899999999999977" height="144.10" fill="#000000"/>
<rect x="461.0" y="486.5" width="15.899999999999977" height="82.10" fill="#3f0000"/>
<rect x="461.0" y="567.6" width="15.899999999999977" height="27.80" fill="#000000"/>
<rect x="461.0" y="594.4" width="15.899999999999977" height="59.20" fill="#3f0000"/>
<g filter="url(#bl)"><g font-size="4.0" fill="#000" stroke="#000" stroke-width="0.1" text-rendering="geometricPrecision" clip-path="url(#clipd)">
<text transform="translate(482 28.87) scale(1 0.4646)" textLength="61.6" lengthAdjust="spacingAndGlyphs">ENSRNA049450611 Histone H2B</text>
<text transform="translate(482 31.57) scale(1 0.4646)" textLength="62.0" lengthAdjust="spacingAndGlyphs">ENSRNA049444943 Histone H2B</text>
<text transform="translate(482 34.27) scale(1 0.4646)" textLength="61.0" lengthAdjust="spacingAndGlyphs">ENSRNA049452937 Histone H2B</text>
<text transform="translate(482 36.97) scale(1 0.4646)" textLength="61.6" lengthAdjust="spacingAndGlyphs">ENSRNA049461329 Histone H2B</text>
<text transform="translate(482 39.67) scale(1 0.4646)" textLength="86.2" lengthAdjust="spacingAndGlyphs">ENSRNA049441582 Regulator of gene silencing</text>
<text transform="translate(482 42.37) scale(1 0.4646)" textLength="60.0" lengthAdjust="spacingAndGlyphs">ENSRNA049442373 Histone H2B</text>
<text transform="translate(482 45.07) scale(1 0.4646)" textLength="78.5" lengthAdjust="spacingAndGlyphs">Solyc09g017460.2 - Uncharacterized protein</text>
<text transform="translate(482 47.77) scale(1 0.4646)" textLength="78.5" lengthAdjust="spacingAndGlyphs">Solyc01g121640.1 - Uncharacterized protein</text>
<text transform="translate(482 50.47) scale(1 0.4646)" textLength="86.6" lengthAdjust="spacingAndGlyphs">Solyc01g016550.1 - Regulator of gene silencing</text>
<text transform="translate(482 53.17) scale(1 0.4646)" textLength="59.6" lengthAdjust="spacingAndGlyphs">Solyc02g035110.2 - Histone H2B</text>
<text transform="translate(482 55.87) scale(1 0.4646)">Solyc07g012720.1 - Protein TIC 214; Translocon at the inner envelope membrane of chloroplasts 214; AtTIC214</text>
<text transform="translate(482 58.57) scale(1 0.4646)" textLength="78.5" lengthAdjust="spacingAndGlyphs">Solyc04g085800.2 - Uncharacterized protein</text>
<text transform="translate(482 61.27) scale(1 0.4646)" textLength="78.5" lengthAdjust="spacingAndGlyphs">Solyc01g078740.1 - Uncharacterized protein</text>
<text transform="translate(482 63.97) scale(1 0.4646)" textLength="97.2" lengthAdjust="spacingAndGlyphs">Solyc01g129280.1 - putative lipid-transfer protein DIR1</text>
<text transform="translate(482 66.67) scale(1 0.4646)">Solyc09g114170.1 - Protein TIC 214; Translocon at the inner envelope membrane of chloroplasts 214; AtTIC214</text>
<text transform="translate(482 69.37) scale(1 0.4646)" textLength="78.5" lengthAdjust="spacingAndGlyphs">Solyc07g023690.1 - Uncharacterized protein</text>
<text transform="translate(482 72.07) scale(1 0.4646)">Solyc10g044710.2 - Protein TIC 214; Translocon at the inner envelope membrane of chloroplasts 214; AtTIC214</text>
<text transform="translate(482 74.77) scale(1 0.4646)" textLength="78.5" lengthAdjust="spacingAndGlyphs">Solyc03g018740.2 - Uncharacterized protein</text>
<text transform="translate(482 77.47) scale(1 0.4646)" textLength="78.5" lengthAdjust="spacingAndGlyphs">Solyc11g029470.1 - Uncharacterized protein</text>
<text transform="translate(482 80.17) scale(1 0.4646)" textLength="78.5" lengthAdjust="spacingAndGlyphs">Solyc09g096080.2 - Uncharacterized protein</text>
<text transform="translate(482 82.87) scale(1 0.4646)" textLength="148.5" lengthAdjust="spacingAndGlyphs">Solyc01g084260.1 - Leucine-rich repeat receptor-like protein kinase At4g08850-like</text>
<text transform="translate(482 85.57) scale(1 0.4646)" textLength="78.5" lengthAdjust="spacingAndGlyphs">Solyc11g073540.1 - Uncharacterized protein</text>
<text transform="translate(482 88.27) scale(1 0.4646)" textLength="78.5" lengthAdjust="spacingAndGlyphs">Solyc08g079580.1 - Uncharacterized protein</text>
<text transform="translate(482 90.97) scale(1 0.4646)" textLength="157.0" lengthAdjust="spacingAndGlyphs">Solyc05g036230.2 - Pyridoxal phosphate homeostasis protein; PLP homeostasis protein</text>
<text transform="translate(482 93.67) scale(1 0.4646)" textLength="78.5" lengthAdjust="spacingAndGlyphs">Solyc04g015730.1 - Uncharacterized protein</text>
<text transform="translate(482 96.37) scale(1 0.4646)" textLength="76.1" lengthAdjust="spacingAndGlyphs">Solyc09g068430.2 - Putative ovule protein</text>
<text transform="translate(482 99.07) scale(1 0.4646)" textLength="78.5" lengthAdjust="spacingAndGlyphs">Solyc08g041770.1 - Uncharacterized protein</text>
<text transform="translate(482 101.77) scale(1 0.4646)" textLength="78.5" lengthAdjust="spacingAndGlyphs">Solyc02g070530.1 - Uncharacterized protein</text>
<text transform="translate(482 104.47) scale(1 0.4646)" textLength="78.5" lengthAdjust="spacingAndGlyphs">Solyc06g024620.1 - Uncharacterized protein</text>
<text transform="translate(482 107.17) scale(1 0.4646)" textLength="78.5" lengthAdjust="spacingAndGlyphs">Solyc01g128850.1 - Uncharacterized protein</text>
<text transform="translate(482 109.87) scale(1 0.4646)" textLength="78.5" lengthAdjust="spacingAndGlyphs">Solyc09g078400.1 - Uncharacterized protein</text>
<text transform="translate(482 112.57) scale(1 0.4646)" textLength="78.5" lengthAdjust="spacingAndGlyphs">Solyc12g049760.1 - Uncharacterized protein</text>
<text transform="translate(482 115.27) scale(1 0.4646)" textLength="78.5" lengthAdjust="spacingAndGlyphs">Solyc10g107580.1 - Uncharacterized protein</text>
<text transform="translate(482 117.97) scale(1 0.4646)" textLength="181.1" lengthAdjust="spacingAndGlyphs">Solyc02g125340.1 - Photosystem II CP43 reaction center protein; PSII 43 kDa protein; Protein CP-43</text>
<text transform="translate(482 120.67) scale(1 0.4646)" textLength="67.5" lengthAdjust="spacingAndGlyphs">Solyc12g090080.1 - Cysteine protease</text>
<text transform="translate(482 123.37) scale(1 0.4646)" textLength="67.5" lengthAdjust="spacingAndGlyphs">Solyc12g094390.2 - Cysteine protease</text>
<text transform="translate(482 126.07) scale(1 0.4646)" textLength="78.5" lengthAdjust="spacingAndGlyphs">Solyc10g092570.1 - Uncharacterized protein</text>
<text transform="translate(482 128.77) scale(1 0.4646)" textLength="76.1" lengthAdjust="spacingAndGlyphs">Solyc12g054850.1 - Putative ovule protein</text>
<text transform="translate(482 131.47) scale(1 0.4646)" textLength="58.0" lengthAdjust="spacingAndGlyphs">Solyc01g125590.1 - PR1 protein</text>
<text transform="translate(482 134.17) scale(1 0.4646)" textLength="78.5" lengthAdjust="spacingAndGlyphs">Solyc03g083140.1 - Uncharacterized protein</text>
<text transform="translate(482 136.87) scale(1 0.4646)" textLength="78.5" lengthAdjust="spacingAndGlyphs">Solyc01g032980.1 - Uncharacterized protein</text>
<text transform="translate(482 139.57) scale(1 0.4646)" textLength="78.5" lengthAdjust="spacingAndGlyphs">Solyc03g099310.1 - Uncharacterized protein</text>
<text transform="translate(482 142.27) scale(1 0.4646)" textLength="191.8" lengthAdjust="spacingAndGlyphs">Solyc07g122630.1 - Ethylene-responsive transcription factor ERF1; Putative transcription activator ERF1</text>
<text transform="translate(482 144.97) scale(1 0.4646)" textLength="95.4" lengthAdjust="spacingAndGlyphs">Solyc03g062510.2 - putative lipid-transfer protein DIR1</text>
<text transform="translate(482 147.67) scale(1 0.4646)" textLength="108.9" lengthAdjust="spacingAndGlyphs">Solyc05g118170.1 - uncharacterized protein LOC101979234</text>
<text transform="translate(482 150.37) scale(1 0.4646)" textLength="78.5" lengthAdjust="spacingAndGlyphs">Solyc09g040900.1 - Uncharacterized protein</text>
<text transform="translate(482 153.07) scale(1 0.4646)" textLength="78.5" lengthAdjust="spacingAndGlyphs">Solyc06g092480.1 - Uncharacterized protein</text>
<text transform="translate(482 155.77) scale(1 0.4646)" textLength="78.5" lengthAdjust="spacingAndGlyphs">Solyc03g015220.1 - Uncharacterized protein</text>
<text transform="translate(482 158.47) scale(1 0.4646)" textLength="65.4" lengthAdjust="spacingAndGlyphs">Solyc04g089290.1 - Methylesterase</text>
<text transform="translate(482 161.17) scale(1 0.4646)" textLength="78.5" lengthAdjust="spacingAndGlyphs">Solyc08g111750.1 - Uncharacterized protein</text>
<text transform="translate(482 163.87) scale(1 0.4646)" textLength="192.4" lengthAdjust="spacingAndGlyphs">Solyc05g041000.1 - Protein TIC 214; Translocon at the inner envelope membrane of chloroplasts 214; AtTIC214</text>
<text transform="translate(482 166.57) scale(1 0.4646)" textLength="102.9" lengthAdjust="spacingAndGlyphs">Solyc07g073470.2 - Putative kinesin-related protein 8-like</text>
<text transform="translate(482 169.27) scale(1 0.4646)" textLength="128.4" lengthAdjust="spacingAndGlyphs">Solyc10g045160.2 - Ethylene-responsive late embryogenesis-like protein</text>
<text transform="translate(482 171.97) scale(1 0.4646)" textLength="78.5" lengthAdjust="spacingAndGlyphs">Solyc09g126790.2 - Uncharacterized protein</text>
<text transform="translate(482 174.67) scale(1 0.4646)" textLength="112.3" lengthAdjust="spacingAndGlyphs">Solyc11g099060.1 - uncharacterized protein LOC101979234</text>
<text transform="translate(482 177.37) scale(1 0.4646)" textLength="78.5" lengthAdjust="spacingAndGlyphs">Solyc11g107710.1 - Uncharacterized protein</text>
<text transform="translate(482 180.07) scale(1 0.4646)" textLength="140.5" lengthAdjust="spacingAndGlyphs">Solyc07g056500.1 - Leucine-rich repeat receptor-like protein kinase At4g08850-like</text>
<text transform="translate(482 182.77) scale(1 0.4646)" textLength="78.5" lengthAdjust="spacingAndGlyphs">Solyc08g086510.1 - Uncharacterized protein</text>
<text transform="translate(482 185.47) scale(1 0.4646)" textLength="78.5" lengthAdjust="spacingAndGlyphs">Solyc04g013260.1 - Uncharacterized protein</text>
<text transform="translate(482 188.17) scale(1 0.4646)" textLength="38.4" lengthAdjust="spacingAndGlyphs">Solyc03g019430.2 - NA</text>
<text transform="translate(482 190.87) scale(1 0.4646)" textLength="78.5" lengthAdjust="spacingAndGlyphs">Solyc01g018000.2 - Uncharacterized protein</text>
<text transform="translate(482 193.57) scale(1 0.4646)" textLength="38.4" lengthAdjust="spacingAndGlyphs">Solyc03g073120.1 - NA</text>
<text transform="translate(482 196.27) scale(1 0.4646)" textLength="78.5" lengthAdjust="spacingAndGlyphs">Solyc10g008090.1 - Uncharacterized protein</text>
<text transform="translate(482 198.97) scale(1 0.4646)" textLength="76.1" lengthAdjust="spacingAndGlyphs">Solyc10g053190.2 - Putative ovule protein</text>
<text transform="translate(482 201.67) scale(1 0.4646)" textLength="78.5" lengthAdjust="spacingAndGlyphs">Solyc05g127440.2 - Uncharacterized protein</text>
<text transform="translate(482 204.37) scale(1 0.4646)" textLength="78.5" lengthAdjust="spacingAndGlyphs">Solyc06g065150.1 - Uncharacterized protein</text>
<text transform="translate(482 207.07) scale(1 0.4646)" textLength="78.5" lengthAdjust="spacingAndGlyphs">Solyc08g130590.1 - Uncharacterized protein</text>
<text transform="translate(482 209.77) scale(1 0.4646)" textLength="78.5" lengthAdjust="spacingAndGlyphs">Solyc08g044100.1 - Uncharacterized protein</text>
<text transform="translate(482 212.47) scale(1 0.4646)" textLength="78.5" lengthAdjust="spacingAndGlyphs">Solyc02g100430.2 - Uncharacterized protein</text>
<text transform="translate(482 215.17) scale(1 0.4646)" textLength="78.5" lengthAdjust="spacingAndGlyphs">Solyc05g066880.1 - Uncharacterized protein</text>
<text transform="translate(482 217.87) scale(1 0.4646)" textLength="78.5" lengthAdjust="spacingAndGlyphs">Solyc09g007260.2 - Uncharacterized protein</text>
<text transform="translate(482 220.57) scale(1 0.4646)" textLength="78.5" lengthAdjust="spacingAndGlyphs">Solyc06g023880.2 - Uncharacterized protein</text>
<text transform="translate(482 223.27) scale(1 0.4646)" textLength="104.7" lengthAdjust="spacingAndGlyphs">Solyc01g102670.1 - auxin-responsive protein SAUR71-like</text>
<text transform="translate(482 226.10) scale(1 0.4646)" textLength="56.0" lengthAdjust="spacingAndGlyphs">ENSRNA049461067 Chitinase</text>
<text transform="translate(482 228.78) scale(1 0.4646)" textLength="59.6" lengthAdjust="spacingAndGlyphs">ENSRNA049468289 Histone H2B</text>
<text transform="translate(482 231.47) scale(1 0.4646)" textLength="86.2" lengthAdjust="spacingAndGlyphs">ENSRNA049442982 Regulator of gene silencing</text>
<text transform="translate(482 234.15) scale(1 0.4646)" textLength="93.8" lengthAdjust="spacingAndGlyphs">ENSRNA049462812 Serine/threonine-protein kinase</text>
<text transform="translate(482 236.84) scale(1 0.4646)" textLength="78.5" lengthAdjust="spacingAndGlyphs">Solyc05g071460.1 - Uncharacterized protein</text>
<text transform="translate(482 239.52) scale(1 0.4646)" textLength="70.1" lengthAdjust="spacingAndGlyphs">Solyc06g103280.2 - Germin-like protein</text>
<text transform="translate(482 242.20) scale(1 0.4646)" textLength="59.6" lengthAdjust="spacingAndGlyphs">Solyc09g104640.1 - Histone H2B</text>
<text transform="translate(482 244.89) scale(1 0.4646)" textLength="85.2" lengthAdjust="spacingAndGlyphs">Solyc11g033780.1 - Regulator of gene silencing</text>
<text transform="translate(482 247.57) scale(1 0.4646)" textLength="48.0" lengthAdjust="spacingAndGlyphs">Solyc04g109510.2 - Chitinase</text>
<text transform="translate(482 250.26) scale(1 0.4646)" textLength="48.0" lengthAdjust="spacingAndGlyphs">Solyc04g030660.1 - Chitinase</text>
<text transform="translate(482 252.94) scale(1 0.4646)" textLength="129.4" lengthAdjust="spacingAndGlyphs">Solyc06g098030.1 - Ethylene-responsive late embryogenesis-like protein</text>
<text transform="translate(482 255.62) scale(1 0.4646)" textLength="78.5" lengthAdjust="spacingAndGlyphs">Solyc05g065330.1 - Uncharacterized protein</text>
<text transform="translate(482 258.31) scale(1 0.4646)" textLength="48.0" lengthAdjust="spacingAndGlyphs">Solyc12g082440.1 - Chitinase</text>
<text transform="translate(482 260.99) scale(1 0.4646)" textLength="164.2" lengthAdjust="spacingAndGlyphs">Solyc12g049460.1 - Wound-induced proteinase inhibitor 1; Wound-induced proteinase inhibitor I</text>
<text transform="translate(482 263.68) scale(1 0.4646)" textLength="78.5" lengthAdjust="spacingAndGlyphs">Solyc04g018290.1 - Uncharacterized protein</text>
<text transform="translate(482 266.36) scale(1 0.4646)" textLength="105.7" lengthAdjust="spacingAndGlyphs">Solyc04g048260.1 - Pathogenesis-related leaf protein 4; P4</text>
<text transform="translate(482 269.04) scale(1 0.4646)" textLength="75.7" lengthAdjust="spacingAndGlyphs">Solyc10g120780.1 - Putative ovule protein</text>
<text transform="translate(482 271.73) scale(1 0.4646)" textLength="75.7" lengthAdjust="spacingAndGlyphs">Solyc08g121830.1 - Putative ovule protein</text>
<text transform="translate(482 274.41) scale(1 0.4646)" textLength="48.0" lengthAdjust="spacingAndGlyphs">Solyc11g015840.1 - Chitinase</text>
<text transform="translate(482 277.10) scale(1 0.4646)" textLength="75.7" lengthAdjust="spacingAndGlyphs">Solyc07g105910.1 - Putative ovule protein</text>
<text transform="translate(482 279.78) scale(1 0.4646)" textLength="75.7" lengthAdjust="spacingAndGlyphs">Solyc08g118220.1 - Putative ovule protein</text>
<text transform="translate(482 282.46) scale(1 0.4646)" textLength="48.0" lengthAdjust="spacingAndGlyphs">Solyc11g047110.2 - Chitinase</text>
<text transform="translate(482 285.15) scale(1 0.4646)" textLength="78.5" lengthAdjust="spacingAndGlyphs">Solyc07g064510.2 - Uncharacterized protein</text>
<text transform="translate(482 287.83) scale(1 0.4646)" textLength="86.2" lengthAdjust="spacingAndGlyphs">Solyc02g097200.1 - Regulator of gene silencing</text>
<text transform="translate(482 290.52) scale(1 0.4646)" textLength="99.2" lengthAdjust="spacingAndGlyphs">Solyc03g008190.2 - Biotic cell death-associated protein</text>
<text transform="translate(482 293.20) scale(1 0.4646)" textLength="129.4" lengthAdjust="spacingAndGlyphs">Solyc08g108830.1 - Ethylene-responsive late embryogenesis-like protein</text>
<text transform="translate(482 295.88) scale(1 0.4646)" textLength="78.5" lengthAdjust="spacingAndGlyphs">Solyc10g110760.1 - Uncharacterized protein</text>
<text transform="translate(482 298.57) scale(1 0.4646)" textLength="74.1" lengthAdjust="spacingAndGlyphs">Solyc11g124440.1 - Fatty acid desaturase</text>
<text transform="translate(482 301.25) scale(1 0.4646)" textLength="73.1" lengthAdjust="spacingAndGlyphs">Solyc09g075160.1 - Osmotin-like protein</text>
<text transform="translate(482 303.94) scale(1 0.4646)" textLength="192.4" lengthAdjust="spacingAndGlyphs">Solyc01g107920.2 - Protein TIC 214; Translocon at the inner envelope membrane of chloroplasts 214; AtTIC214</text>
<text transform="translate(482 306.62) scale(1 0.4646)" textLength="78.5" lengthAdjust="spacingAndGlyphs">Solyc02g072950.1 - Uncharacterized protein</text>
<text transform="translate(482 309.30) scale(1 0.4646)" textLength="85.2" lengthAdjust="spacingAndGlyphs">Solyc07g116240.1 - Regulator of gene silencing</text>
<text transform="translate(482 311.99) scale(1 0.4646)" textLength="84.2" lengthAdjust="spacingAndGlyphs">Solyc01g037270.1 - Protein translocase subunit</text>
<text transform="translate(482 314.67) scale(1 0.4646)" textLength="67.1" lengthAdjust="spacingAndGlyphs">Solyc09g035970.2 - Cysteine protease</text>
<text transform="translate(482 317.36) scale(1 0.4646)" textLength="78.5" lengthAdjust="spacingAndGlyphs">Solyc06g038690.1 - Uncharacterized protein</text>
<text transform="translate(482 320.04) scale(1 0.4646)" textLength="78.5" lengthAdjust="spacingAndGlyphs">Solyc03g012940.1 - Uncharacterized protein</text>
<text transform="translate(482 322.72) scale(1 0.4646)" textLength="176.7" lengthAdjust="spacingAndGlyphs">Solyc08g089740.2 - Photosystem II CP43 reaction center protein; PSII 43 kDa protein; Protein CP-43</text>
<text transform="translate(482 325.41) scale(1 0.4646)" textLength="95.2" lengthAdjust="spacingAndGlyphs">Solyc07g110640.1 - putative lipid-transfer protein DIR1</text>
<text transform="translate(482 328.09) scale(1 0.4646)" textLength="150.6" lengthAdjust="spacingAndGlyphs">Solyc09g024670.2 - Pectate lyase; Pectin lyase-like superfamily protein AtPLL19 like</text>
<text transform="translate(482 330.78) scale(1 0.4646)" textLength="75.7" lengthAdjust="spacingAndGlyphs">Solyc01g116560.1 - Putative ovule protein</text>
<text transform="translate(482 333.46) scale(1 0.4646)" textLength="78.5" lengthAdjust="spacingAndGlyphs">Solyc10g005990.1 - Uncharacterized protein</text>
<text transform="translate(482 336.14) scale(1 0.4646)" textLength="137.5" lengthAdjust="spacingAndGlyphs">Solyc03g023600.2 - Ethylene-responsive late embryogenesis-like protein</text>
<text transform="translate(482 338.83) scale(1 0.4646)" textLength="82.1" lengthAdjust="spacingAndGlyphs">Solyc12g020710.1 - Atp synthase subunit beta</text>
<text transform="translate(482 341.51) scale(1 0.4646)" textLength="78.5" lengthAdjust="spacingAndGlyphs">Solyc06g092660.2 - Uncharacterized protein</text>
<text transform="translate(482 344.20) scale(1 0.4646)" textLength="92.6" lengthAdjust="spacingAndGlyphs">Solyc09g066990.1 - Serine/threonine-protein kinase</text>
<text transform="translate(482 346.88) scale(1 0.4646)" textLength="78.5" lengthAdjust="spacingAndGlyphs">Solyc09g012310.1 - Uncharacterized protein</text>
<text transform="translate(482 349.56) scale(1 0.4646)" textLength="92.6" lengthAdjust="spacingAndGlyphs">Solyc05g010980.1 - Serine/threonine-protein kinase</text>
<text transform="translate(482 352.25) scale(1 0.4646)" textLength="48.0" lengthAdjust="spacingAndGlyphs">Solyc09g062710.1 - Chitinase</text>
<text transform="translate(482 354.93) scale(1 0.4646)" textLength="78.5" lengthAdjust="spacingAndGlyphs">Solyc02g061410.2 - Uncharacterized protein</text>
<text transform="translate(482 357.62) scale(1 0.4646)" textLength="127.4" lengthAdjust="spacingAndGlyphs">Solyc09g082650.1 - Ethylene-responsive late embryogenesis-like protein</text>
<text transform="translate(482 360.30) scale(1 0.4646)" textLength="78.5" lengthAdjust="spacingAndGlyphs">Solyc12g040570.2 - Uncharacterized protein</text>
<text transform="translate(482 362.98) scale(1 0.4646)" textLength="78.5" lengthAdjust="spacingAndGlyphs">Solyc09g108610.2 - Uncharacterized protein</text>
<text transform="translate(482 365.67) scale(1 0.4646)" textLength="78.5" lengthAdjust="spacingAndGlyphs">Solyc04g094660.1 - Uncharacterized protein</text>
<text transform="translate(482 368.35) scale(1 0.4646)" textLength="78.5" lengthAdjust="spacingAndGlyphs">Solyc09g119250.1 - Uncharacterized protein</text>
<text transform="translate(482 371.04) scale(1 0.4646)" textLength="154.6" lengthAdjust="spacingAndGlyphs">Solyc03g058150.1 - Pyridoxal phosphate homeostasis protein; PLP homeostasis protein</text>
<text transform="translate(482 373.72) scale(1 0.4646)" textLength="78.5" lengthAdjust="spacingAndGlyphs">Solyc08g045090.2 - Uncharacterized protein</text>
<text transform="translate(482 376.40) scale(1 0.4646)" textLength="48.0" lengthAdjust="spacingAndGlyphs">Solyc04g059090.1 - Chitinase</text>
<text transform="translate(482 379.09) scale(1 0.4646)" textLength="102.3" lengthAdjust="spacingAndGlyphs">Solyc11g043150.1 - Putative kinesin-related protein 8-like</text>
<text transform="translate(482 381.77) scale(1 0.4646)" textLength="78.5" lengthAdjust="spacingAndGlyphs">Solyc12g087840.1 - Uncharacterized protein</text>
<text transform="translate(482 384.46) scale(1 0.4646)" textLength="78.5" lengthAdjust="spacingAndGlyphs">Solyc03g037170.1 - Uncharacterized protein</text>
<text transform="translate(482 387.14) scale(1 0.4646)" textLength="80.5" lengthAdjust="spacingAndGlyphs">Solyc04g100120.1 - Uncharacterized protein</text>
<text transform="translate(482 389.82) scale(1 0.4646)" textLength="78.5" lengthAdjust="spacingAndGlyphs">Solyc08g025850.1 - Uncharacterized protein</text>
<text transform="translate(482 392.51) scale(1 0.4646)" textLength="78.5" lengthAdjust="spacingAndGlyphs">Solyc03g095550.2 - Uncharacterized protein</text>
<text transform="translate(482 395.19) scale(1 0.4646)" textLength="78.5" lengthAdjust="spacingAndGlyphs">Solyc07g048530.1 - Uncharacterized protein</text>
<text transform="translate(482 397.88) scale(1 0.4646)" textLength="138.5" lengthAdjust="spacingAndGlyphs">Solyc06g045110.2 - Leucine-rich repeat receptor-like protein kinase At4g08850-like</text>
<text transform="translate(482 400.56) scale(1 0.4646)" textLength="114.7" lengthAdjust="spacingAndGlyphs">Solyc06g007430.2 - uncharacterized protein LOC101979234</text>
<text transform="translate(482 403.24) scale(1 0.4646)" textLength="48.0" lengthAdjust="spacingAndGlyphs">Solyc08g061900.1 - Chitinase</text>
<text transform="translate(482 405.93) scale(1 0.4646)" textLength="78.5" lengthAdjust="spacingAndGlyphs">Solyc07g047660.2 - Uncharacterized protein</text>
<text transform="translate(482 408.61) scale(1 0.4646)" textLength="75.7" lengthAdjust="spacingAndGlyphs">Solyc05g070080.1 - Putative ovule protein</text>
<text transform="translate(482 411.30) scale(1 0.4646)" textLength="121.4" lengthAdjust="spacingAndGlyphs">Solyc04g129130.1 - Putative phosphoinositide phosphatase SAC8-like</text>
<text transform="translate(482 413.98) scale(1 0.4646)" textLength="98.2" lengthAdjust="spacingAndGlyphs">Solyc05g039050.1 - Biotic cell death-associated protein</text>
<text transform="translate(482 416.66) scale(1 0.4646)" textLength="78.5" lengthAdjust="spacingAndGlyphs">Solyc05g101160.1 - Uncharacterized protein</text>
<text transform="translate(482 419.35) scale(1 0.4646)" textLength="172.7" lengthAdjust="spacingAndGlyphs">Solyc11g109330.1 - N-hydroxycinnamoyl-CoA:tyramine N-hydroxycinnamoyl transferase THT1-3</text>
<text transform="translate(482 422.03) scale(1 0.4646)" textLength="122.0" lengthAdjust="spacingAndGlyphs">Solyc03g073650.2 - Putative phosphoinositide phosphatase SAC8-like</text>
<text transform="translate(482 424.72) scale(1 0.4646)" textLength="120.4" lengthAdjust="spacingAndGlyphs">Solyc08g094410.1 - Putative phosphoinositide phosphatase SAC8-like</text>
<text transform="translate(482 427.40) scale(1 0.4646)" textLength="78.5" lengthAdjust="spacingAndGlyphs">Solyc05g012880.1 - Uncharacterized protein</text>
<text transform="translate(482 430.08) scale(1 0.4646)" textLength="101.9" lengthAdjust="spacingAndGlyphs">Solyc07g119090.1 - Putative kinesin-related protein 8-like</text>
<text transform="translate(482 432.77) scale(1 0.4646)" textLength="78.5" lengthAdjust="spacingAndGlyphs">Solyc01g086110.1 - Uncharacterized protein</text>
<text transform="translate(482 435.45) scale(1 0.4646)" textLength="78.5" lengthAdjust="spacingAndGlyphs">Solyc02g082280.1 - Uncharacterized protein</text>
<text transform="translate(482 438.14) scale(1 0.4646)" textLength="78.5" lengthAdjust="spacingAndGlyphs">Solyc05g115150.1 - Uncharacterized protein</text>
<text transform="translate(482 440.82) scale(1 0.4646)" textLength="61.0" lengthAdjust="spacingAndGlyphs">Solyc01g048700.1 - Histone H2B</text>
<text transform="translate(482 443.50) scale(1 0.4646)" textLength="101.3" lengthAdjust="spacingAndGlyphs">Solyc05g084160.1 - Putative kinesin-related protein 8-like</text>
<text transform="translate(482 446.19) scale(1 0.4646)" textLength="99.9" lengthAdjust="spacingAndGlyphs">Solyc09g095300.1 - Biotic cell death-associated protein</text>
<text transform="translate(482 448.87) scale(1 0.4646)" textLength="146.5" lengthAdjust="spacingAndGlyphs">Solyc03g038060.1 - Leucine-rich repeat receptor-like protein kinase At4g08850-like</text>
<text transform="translate(482 451.56) scale(1 0.4646)" textLength="118.4" lengthAdjust="spacingAndGlyphs">Solyc04g124390.2 - Putative phosphoinositide phosphatase SAC8-like</text>
<text transform="translate(482 454.24) scale(1 0.4646)" textLength="90.2" lengthAdjust="spacingAndGlyphs">Solyc05g072970.1 - Osmotin-like protein OSML13</text>
<text transform="translate(482 456.92) scale(1 0.4646)" textLength="60.0" lengthAdjust="spacingAndGlyphs">Solyc05g062640.2 - Histone H2B</text>
<text transform="translate(482 459.61) scale(1 0.4646)" textLength="78.5" lengthAdjust="spacingAndGlyphs">Solyc03g039440.1 - Uncharacterized protein</text>
<text transform="translate(482 462.29) scale(1 0.4646)" textLength="78.5" lengthAdjust="spacingAndGlyphs">Solyc05g009010.1 - Uncharacterized protein</text>
<text transform="translate(482 464.98) scale(1 0.4646)" textLength="78.1" lengthAdjust="spacingAndGlyphs">Solyc12g069700.1 - Uncharacterized protein</text>
<text transform="translate(482 467.66) scale(1 0.4646)" textLength="75.1" lengthAdjust="spacingAndGlyphs">Solyc09g065310.1 - Putative ovule protein</text>
<text transform="translate(482 470.34) scale(1 0.4646)" textLength="78.1" lengthAdjust="spacingAndGlyphs">Solyc02g089830.1 - Uncharacterized protein</text>
<text transform="translate(482 473.03) scale(1 0.4646)" textLength="78.5" lengthAdjust="spacingAndGlyphs">Solyc11g068690.1 - Uncharacterized protein</text>
<text transform="translate(482 475.71) scale(1 0.4646)" textLength="78.5" lengthAdjust="spacingAndGlyphs">Solyc09g044880.1 - Uncharacterized protein</text>
<text transform="translate(482 478.40) scale(1 0.4646)" textLength="78.5" lengthAdjust="spacingAndGlyphs">Solyc04g048250.2 - Uncharacterized protein</text>
<text transform="translate(482 481.08) scale(1 0.4646)" textLength="78.5" lengthAdjust="spacingAndGlyphs">Solyc12g086170.1 - Uncharacterized protein</text>
<text transform="translate(482 483.76) scale(1 0.4646)" textLength="78.5" lengthAdjust="spacingAndGlyphs">Solyc06g130060.1 - Uncharacterized protein</text>
<text transform="translate(482 486.45) scale(1 0.4646)" textLength="78.5" lengthAdjust="spacingAndGlyphs">Solyc01g014800.2 - Uncharacterized protein</text>
<text transform="translate(482 489.13) scale(1 0.4646)" textLength="118.4" lengthAdjust="spacingAndGlyphs">Solyc05g060200.1 - Putative phosphoinositide phosphatase SAC8-like</text>
<text transform="translate(482 491.82) scale(1 0.4646)" textLength="78.5" lengthAdjust="spacingAndGlyphs">Solyc02g090480.2 - Uncharacterized protein</text>
<text transform="translate(482 494.50) scale(1 0.4646)" textLength="78.5" lengthAdjust="spacingAndGlyphs">Solyc11g129360.2 - Uncharacterized protein</text>
<text transform="translate(482 497.18) scale(1 0.4646)" textLength="78.5" lengthAdjust="spacingAndGlyphs">Solyc04g093370.1 - Uncharacterized protein</text>
<text transform="translate(482 499.87) scale(1 0.4646)" textLength="78.5" lengthAdjust="spacingAndGlyphs">Solyc08g028200.1 - Uncharacterized protein</text>
<text transform="translate(482 502.55) scale(1 0.4646)" textLength="78.5" lengthAdjust="spacingAndGlyphs">Solyc08g005330.1 - Uncharacterized protein</text>
<text transform="translate(482 505.24) scale(1 0.4646)" textLength="78.5" lengthAdjust="spacingAndGlyphs">Solyc06g129700.1 - Uncharacterized protein</text>
<text transform="translate(482 507.92) scale(1 0.4646)" textLength="118.4" lengthAdjust="spacingAndGlyphs">Solyc04g009390.1 - Putative phosphoinositide phosphatase SAC8-like</text>
<text transform="translate(482 510.60) scale(1 0.4646)" textLength="78.5" lengthAdjust="spacingAndGlyphs">Solyc06g028000.1 - Uncharacterized protein</text>
<text transform="translate(482 513.29) scale(1 0.4646)" textLength="68.1" lengthAdjust="spacingAndGlyphs">Solyc07g015600.1 - Cysteine protease</text>
<text transform="translate(482 515.97) scale(1 0.4646)" textLength="80.1" lengthAdjust="spacingAndGlyphs">Solyc09g088250.1 - Uncharacterized protein</text>
<text transform="translate(482 518.66) scale(1 0.4646)" textLength="78.5" lengthAdjust="spacingAndGlyphs">Solyc09g104000.1 - Uncharacterized protein</text>
<text transform="translate(482 521.34) scale(1 0.4646)" textLength="78.5" lengthAdjust="spacingAndGlyphs">Solyc05g109110.1 - Uncharacterized protein</text>
<text transform="translate(482 524.02) scale(1 0.4646)" textLength="78.5" lengthAdjust="spacingAndGlyphs">Solyc07g080050.1 - Uncharacterized protein</text>
<text transform="translate(482 526.71) scale(1 0.4646)" textLength="78.5" lengthAdjust="spacingAndGlyphs">Solyc01g043380.2 - Uncharacterized protein</text>
<text transform="translate(482 529.39) scale(1 0.4646)" textLength="146.5" lengthAdjust="spacingAndGlyphs">Solyc04g015740.2 - Leucine-rich repeat receptor-like protein kinase At4g08850-like</text>
<text transform="translate(482 532.08) scale(1 0.4646)" textLength="78.5" lengthAdjust="spacingAndGlyphs">Solyc03g089910.2 - Uncharacterized protein</text>
<text transform="translate(482 534.76) scale(1 0.4646)" textLength="78.5" lengthAdjust="spacingAndGlyphs">Solyc07g102410.2 - Uncharacterized protein</text>
<text transform="translate(482 537.44) scale(1 0.4646)" textLength="48.0" lengthAdjust="spacingAndGlyphs">Solyc08g024360.2 - Chitinase</text>
<text transform="translate(482 540.13) scale(1 0.4646)" textLength="130.0" lengthAdjust="spacingAndGlyphs">Solyc10g087180.1 - Ethylene-responsive late embryogenesis-like protein</text>
<text transform="translate(482 542.81) scale(1 0.4646)" textLength="118.4" lengthAdjust="spacingAndGlyphs">Solyc12g119650.2 - Putative phosphoinositide phosphatase SAC8-like</text>
<text transform="translate(482 545.50) scale(1 0.4646)" textLength="78.5" lengthAdjust="spacingAndGlyphs">Solyc07g098890.2 - Uncharacterized protein</text>
<text transform="translate(482 548.18) scale(1 0.4646)" textLength="114.7" lengthAdjust="spacingAndGlyphs">Solyc03g121670.2 - uncharacterized protein LOC101979234</text>
<text transform="translate(482 550.86) scale(1 0.4646)" textLength="87.2" lengthAdjust="spacingAndGlyphs">Solyc10g111020.2 - Osmotin-like protein OSML13</text>
<text transform="translate(482 553.55) scale(1 0.4646)" textLength="134.5" lengthAdjust="spacingAndGlyphs">Solyc10g107910.2 - Ethylene-responsive late embryogenesis-like protein</text>
<text transform="translate(482 556.23) scale(1 0.4646)" textLength="78.5" lengthAdjust="spacingAndGlyphs">Solyc12g087290.1 - Uncharacterized protein</text>
<text transform="translate(482 558.92) scale(1 0.4646)" textLength="78.5" lengthAdjust="spacingAndGlyphs">Solyc01g010170.2 - Uncharacterized protein</text>
<text transform="translate(482 561.60) scale(1 0.4646)" textLength="99.2" lengthAdjust="spacingAndGlyphs">Solyc06g127130.1 - Biotic cell death-associated protein</text>
<text transform="translate(482 564.28) scale(1 0.4646)" textLength="79.1" lengthAdjust="spacingAndGlyphs">Solyc08g076060.2 - Uncharacterized protein</text>
<text transform="translate(482 566.97) scale(1 0.4646)" textLength="99.2" lengthAdjust="spacingAndGlyphs">Solyc01g085680.2 - Biotic cell death-associated protein</text>
<text transform="translate(482 569.65) scale(1 0.4646)" textLength="78.5" lengthAdjust="spacingAndGlyphs">Solyc04g067330.1 - Uncharacterized protein</text>
<text transform="translate(482 572.34) scale(1 0.4646)" textLength="48.0" lengthAdjust="spacingAndGlyphs">Solyc08g107080.2 - Chitinase</text>
<text transform="translate(482 575.02) scale(1 0.4646)" textLength="75.7" lengthAdjust="spacingAndGlyphs">Solyc09g119680.1 - Putative ovule protein</text>
<text transform="translate(482 577.70) scale(1 0.4646)" textLength="48.0" lengthAdjust="spacingAndGlyphs">Solyc11g072080.2 - Chitinase</text>
<text transform="translate(482 580.39) scale(1 0.4646)" textLength="78.5" lengthAdjust="spacingAndGlyphs">Solyc12g065320.1 - Uncharacterized protein</text>
<text transform="translate(482 583.07) scale(1 0.4646)" textLength="78.5" lengthAdjust="spacingAndGlyphs">Solyc05g035930.1 - Uncharacterized protein</text>
<text transform="translate(482 585.76) scale(1 0.4646)" textLength="88.2" lengthAdjust="spacingAndGlyphs">Solyc04g099830.1 - Osmotin-like protein OSML13</text>
<text transform="translate(482 588.44) scale(1 0.4646)" textLength="99.2" lengthAdjust="spacingAndGlyphs">Solyc08g113480.1 - Biotic cell death-associated protein</text>
<text transform="translate(482 591.12) scale(1 0.4646)" textLength="78.5" lengthAdjust="spacingAndGlyphs">Solyc08g121870.1 - Uncharacterized protein</text>
<text transform="translate(482 593.81) scale(1 0.4646)" textLength="107.9" lengthAdjust="spacingAndGlyphs">Solyc01g083800.2 - uncharacterized protein LOC101979234</text>
<text transform="translate(482 596.49) scale(1 0.4646)" textLength="73.1" lengthAdjust="spacingAndGlyphs">Solyc04g014760.1 - Osmotin-like protein</text>
<text transform="translate(482 599.18) scale(1 0.4646)" textLength="90.2" lengthAdjust="spacingAndGlyphs">Solyc06g037830.2 - Osmotin-like protein OSML13</text>
<text transform="translate(482 601.86) scale(1 0.4646)" textLength="84.2" lengthAdjust="spacingAndGlyphs">Solyc12g043790.2 - Protein translocase subunit</text>
<text transform="translate(482 604.54) scale(1 0.4646)" textLength="145.5" lengthAdjust="spacingAndGlyphs">Solyc03g006610.1 - Leucine-rich repeat receptor-like protein kinase At4g08850-like</text>
<text transform="translate(482 607.23) scale(1 0.4646)" textLength="98.2" lengthAdjust="spacingAndGlyphs">Solyc08g039860.1 - Biotic cell death-associated protein</text>
<text transform="translate(482 609.91) scale(1 0.4646)" textLength="114.7" lengthAdjust="spacingAndGlyphs">Solyc12g032860.1 - uncharacterized protein LOC101979234</text>
<text transform="translate(482 612.60) scale(1 0.4646)" textLength="48.0" lengthAdjust="spacingAndGlyphs">Solyc05g095660.1 - Chitinase</text>
<text transform="translate(482 615.28) scale(1 0.4646)" textLength="78.5" lengthAdjust="spacingAndGlyphs">Solyc08g064590.1 - Uncharacterized protein</text>
<text transform="translate(482 617.96) scale(1 0.4646)" textLength="99.2" lengthAdjust="spacingAndGlyphs">Solyc09g030390.1 - Biotic cell death-associated protein</text>
<text transform="translate(482 620.65) scale(1 0.4646)" textLength="78.5" lengthAdjust="spacingAndGlyphs">Solyc08g007370.1 - Uncharacterized protein</text>
<text transform="translate(482 623.33) scale(1 0.4646)" textLength="171.7" lengthAdjust="spacingAndGlyphs">Solyc02g109640.1 - N-hydroxycinnamoyl-CoA:tyramine N-hydroxycinnamoyl transferase THT1-3</text>
<text transform="translate(482 626.02) scale(1 0.4646)" textLength="172.7" lengthAdjust="spacingAndGlyphs">Solyc05g054260.1 - N-hydroxycinnamoyl-CoA:tyramine N-hydroxycinnamoyl transferase THT1-3</text>
<text transform="translate(482 628.70) scale(1 0.4646)" textLength="124.4" lengthAdjust="spacingAndGlyphs">Solyc02g079110.1 - Putative phosphoinositide phosphatase SAC8-like</text>
<text transform="translate(482 631.38) scale(1 0.4646)" textLength="78.5" lengthAdjust="spacingAndGlyphs">Solyc12g072330.1 - Uncharacterized protein</text>
<text transform="translate(482 634.07) scale(1 0.4646)" textLength="73.1" lengthAdjust="spacingAndGlyphs">Solyc03g082800.2 - Osmotin-like protein</text>
<text transform="translate(482 636.75) scale(1 0.4646)" textLength="96.2" lengthAdjust="spacingAndGlyphs">Solyc05g118140.2 - putative lipid-transfer protein DIR1</text>
<text transform="translate(482 639.44) scale(1 0.4646)" textLength="136.5" lengthAdjust="spacingAndGlyphs">Solyc06g034630.1 - Ethylene-responsive late embryogenesis-like protein</text>
<text transform="translate(482 642.12) scale(1 0.4646)" textLength="93.2" lengthAdjust="spacingAndGlyphs">Solyc07g008200.1 - Serine/threonine-protein kinase</text>
<text transform="translate(482 644.80) scale(1 0.4646)" textLength="78.5" lengthAdjust="spacingAndGlyphs">Solyc08g092570.1 - Uncharacterized protein</text>
<text transform="translate(482 647.49) scale(1 0.4646)" textLength="154.6" lengthAdjust="spacingAndGlyphs">Solyc05g098180.1 - Pyridoxal phosphate homeostasis protein; PLP homeostasis protein</text>
<text transform="translate(482 650.17) scale(1 0.4646)" textLength="104.3" lengthAdjust="spacingAndGlyphs">Solyc06g053400.1 - auxin-responsive protein SAUR71-like</text>
<text transform="translate(482 652.86) scale(1 0.4646)" textLength="78.5" lengthAdjust="spacingAndGlyphs">Solyc06g005410.1 - Uncharacterized protein</text>
</g></g>
<rect x="368.0" y="22.0" width="76.5" height="55.5" fill="#fff"/>
<text x="405.9" y="28.0" font-size="2.68" text-anchor="middle" fill="#000">Color Key</text>
<text x="405.9" y="30.4" font-size="2.68" text-anchor="middle" fill="#000">and Histogram</text>
<rect x="374.80" y="30.06" width="62.10" height="38.739999999999995" fill="#000"/>
<rect x="374.80" y="30.06" width="7.21" height="38.739999999999995" fill="#00ff00"/>
<rect x="381.01" y="30.06" width="7.21" height="38.739999999999995" fill="#00bf00"/>
<rect x="387.22" y="30.06" width="7.21" height="38.739999999999995" fill="#007f00"/>
<rect x="393.43" y="30.06" width="6.21" height="38.739999999999995" fill="#003f00"/>
<rect x="412.06" y="30.06" width="7.21" height="38.739999999999995" fill="#3f0000"/>
<rect x="418.27" y="30.06" width="7.21" height="38.739999999999995" fill="#7f0000"/>
<rect x="424.48" y="30.06" width="7.21" height="38.739999999999995" fill="#bf0000"/>
<rect x="430.69" y="30.06" width="6.21" height="38.739999999999995" fill="#ff0000"/>
<path d="M400.1 68.6 H412.0 V43.0 H418.2 V63.2 H424.5 V64.4 H430.6 V67.3 H436.9" fill="none" stroke="#00e5e5" stroke-width="0.55" stroke-opacity="0.75"/>
<line x1="373.2" y1="34.4" x2="374.8" y2="34.4" stroke="#444" stroke-width="0.3"/>
<text transform="translate(372.4 34.4) rotate(-90)" font-size="2.6" text-anchor="middle" fill="#666">10</text>
<line x1="373.2" y1="41.4" x2="374.8" y2="41.4" stroke="#444" stroke-width="0.3"/>
<text transform="translate(372.4 41.4) rotate(-90)" font-size="2.6" text-anchor="middle" fill="#666">8</text>
<line x1="373.2" y1="48.4" x2="374.8" y2="48.4" stroke="#444" stroke-width="0.3"/>
<text transform="translate(372.4 48.4) rotate(-90)" font-size="2.6" text-anchor="middle" fill="#666">6</text>
<line x1="373.2" y1="55.3" x2="374.8" y2="55.3" stroke="#444" stroke-width="0.3"/>
<text transform="translate(372.4 55.3) rotate(-90)" font-size="2.6" text-anchor="middle" fill="#666">4</text>
<line x1="373.2" y1="62.2" x2="374.8" y2="62.2" stroke="#444" stroke-width="0.3"/>
<text transform="translate(372.4 62.2) rotate(-90)" font-size="2.6" text-anchor="middle" fill="#666">2</text>
<line x1="373.2" y1="68.8" x2="374.8" y2="68.8" stroke="#444" stroke-width="0.3"/>
<text transform="translate(372.4 68.8) rotate(-90)" font-size="2.6" text-anchor="middle" fill="#666">0</text>
<text transform="translate(370.2 49.4) rotate(-90)" font-size="2.6" text-anchor="middle" fill="#666">Count</text>
<line x1="381.1" y1="68.8" x2="381.1" y2="70.1" stroke="#444" stroke-width="0.3"/>
<text x="381.1" y="72.4" font-size="2.6" text-anchor="middle" fill="#666">-10</text>
<line x1="393.5" y1="68.8" x2="393.5" y2="70.1" stroke="#444" stroke-width="0.3"/>
<text x="393.5" y="72.4" font-size="2.6" text-anchor="middle" fill="#666">-5</text>
<line x1="405.6" y1="68.8" x2="405.6" y2="70.1" stroke="#444" stroke-width="0.3"/>
<text x="405.6" y="72.4" font-size="2.6" text-anchor="middle" fill="#666">0</text>
<line x1="418.0" y1="68.8" x2="418.0" y2="70.1" stroke="#444" stroke-width="0.3"/>
<text x="418.0" y="72.4" font-size="2.6" text-anchor="middle" fill="#666">5</text>
<line x1="430.2" y1="68.8" x2="430.2" y2="70.1" stroke="#444" stroke-width="0.3"/>
<text x="430.2" y="72.4" font-size="2.6" text-anchor="middle" fill="#666">10</text>
<text x="405.9" y="75.2" font-size="2.6" text-anchor="middle" fill="#666">Value</text>
<rect x="606.0" y="21.0" width="70.0" height="58.5" fill="#fff"/>
<text x="643.3" y="26.2" font-size="2.68" text-anchor="middle" fill="#000">Color Key</text>
<text x="643.3" y="28.6" font-size="2.68" text-anchor="middle" fill="#000">and Histogram</text>
<rect x="612.10" y="26.8" width="62.40" height="46.8" fill="#000"/>
<rect x="612.10" y="26.8" width="7.24" height="46.8" fill="#00ff00"/>
<rect x="618.34" y="26.8" width="7.24" height="46.8" fill="#00bf00"/>
<rect x="624.58" y="26.8" width="7.24" height="46.8" fill="#007f00"/>
<rect x="630.82" y="26.8" width="6.24" height="46.8" fill="#003f00"/>
<rect x="649.54" y="26.8" width="7.24" height="46.8" fill="#3f0000"/>
<rect x="655.78" y="26.8" width="7.24" height="46.8" fill="#7f0000"/>
<rect x="662.02" y="26.8" width="7.24" height="46.8" fill="#bf0000"/>
<rect x="668.26" y="26.8" width="6.24" height="46.8" fill="#ff0000"/>
<path d="M643.3 73.5 V54.2 H655.8 V69.7 H662.0 V72.6 H668.3 V73.3 H674.5" fill="none" stroke="#00e5e5" stroke-width="0.55" stroke-opacity="0.75"/>
<line x1="610.5" y1="35.4" x2="612.1" y2="35.4" stroke="#444" stroke-width="0.3"/>
<text transform="translate(609.7 35.4) rotate(-90)" font-size="2.6" text-anchor="middle" fill="#666">80</text>
<line x1="610.5" y1="44.7" x2="612.1" y2="44.7" stroke="#444" stroke-width="0.3"/>
<text transform="translate(609.7 44.7) rotate(-90)" font-size="2.6" text-anchor="middle" fill="#666">60</text>
<line x1="610.5" y1="54.3" x2="612.1" y2="54.3" stroke="#444" stroke-width="0.3"/>
<text transform="translate(609.7 54.3) rotate(-90)" font-size="2.6" text-anchor="middle" fill="#666">40</text>
<line x1="610.5" y1="64.1" x2="612.1" y2="64.1" stroke="#444" stroke-width="0.3"/>
<text transform="translate(609.7 64.1) rotate(-90)" font-size="2.6" text-anchor="middle" fill="#666">20</text>
<line x1="610.5" y1="73.3" x2="612.1" y2="73.3" stroke="#444" stroke-width="0.3"/>
<text transform="translate(609.7 73.3) rotate(-90)" font-size="2.6" text-anchor="middle" fill="#666">0</text>
<text transform="translate(607.5 50.2) rotate(-90)" font-size="2.6" text-anchor="middle" fill="#666">Count</text>
<line x1="617.1" y1="73.6" x2="617.1" y2="74.89999999999999" stroke="#444" stroke-width="0.3"/>
<text x="617.1" y="77.2" font-size="2.6" text-anchor="middle" fill="#666">-10</text>
<line x1="630.1" y1="73.6" x2="630.1" y2="74.89999999999999" stroke="#444" stroke-width="0.3"/>
<text x="630.1" y="77.2" font-size="2.6" text-anchor="middle" fill="#666">-5</text>
<line x1="643.3" y1="73.6" x2="643.3" y2="74.89999999999999" stroke="#444" stroke-width="0.3"/>
<text x="643.3" y="77.2" font-size="2.6" text-anchor="middle" fill="#666">0</text>
<line x1="656.8" y1="73.6" x2="656.8" y2="74.89999999999999" stroke="#444" stroke-width="0.3"/>
<text x="656.8" y="77.2" font-size="2.6" text-anchor="middle" fill="#666">5</text>
<line x1="670.0" y1="73.6" x2="670.0" y2="74.89999999999999" stroke="#444" stroke-width="0.3"/>
<text x="670.0" y="77.2" font-size="2.6" text-anchor="middle" fill="#666">10</text>
<text x="643.3" y="80.0" font-size="2.6" text-anchor="middle" fill="#666">Value</text>
<g font-family="Liberation Sans, sans-serif" font-weight="bold" fill="#000">
<text transform="translate(5.0 19.25) scale(0.75 0.95)" font-size="25" stroke="#000" stroke-width="0.7">a</text>
<text transform="translate(209.67 18.84) scale(1.0 1)" font-size="23.2">b</text>
<text transform="translate(3.1 286.7) scale(0.88 0.98)" font-size="23.4" stroke="#000" stroke-width="0.4">c</text>
<text transform="translate(452.3 18.2) scale(0.97 1)" font-size="22.75">d</text>
</g>
</svg>
</body></html>
